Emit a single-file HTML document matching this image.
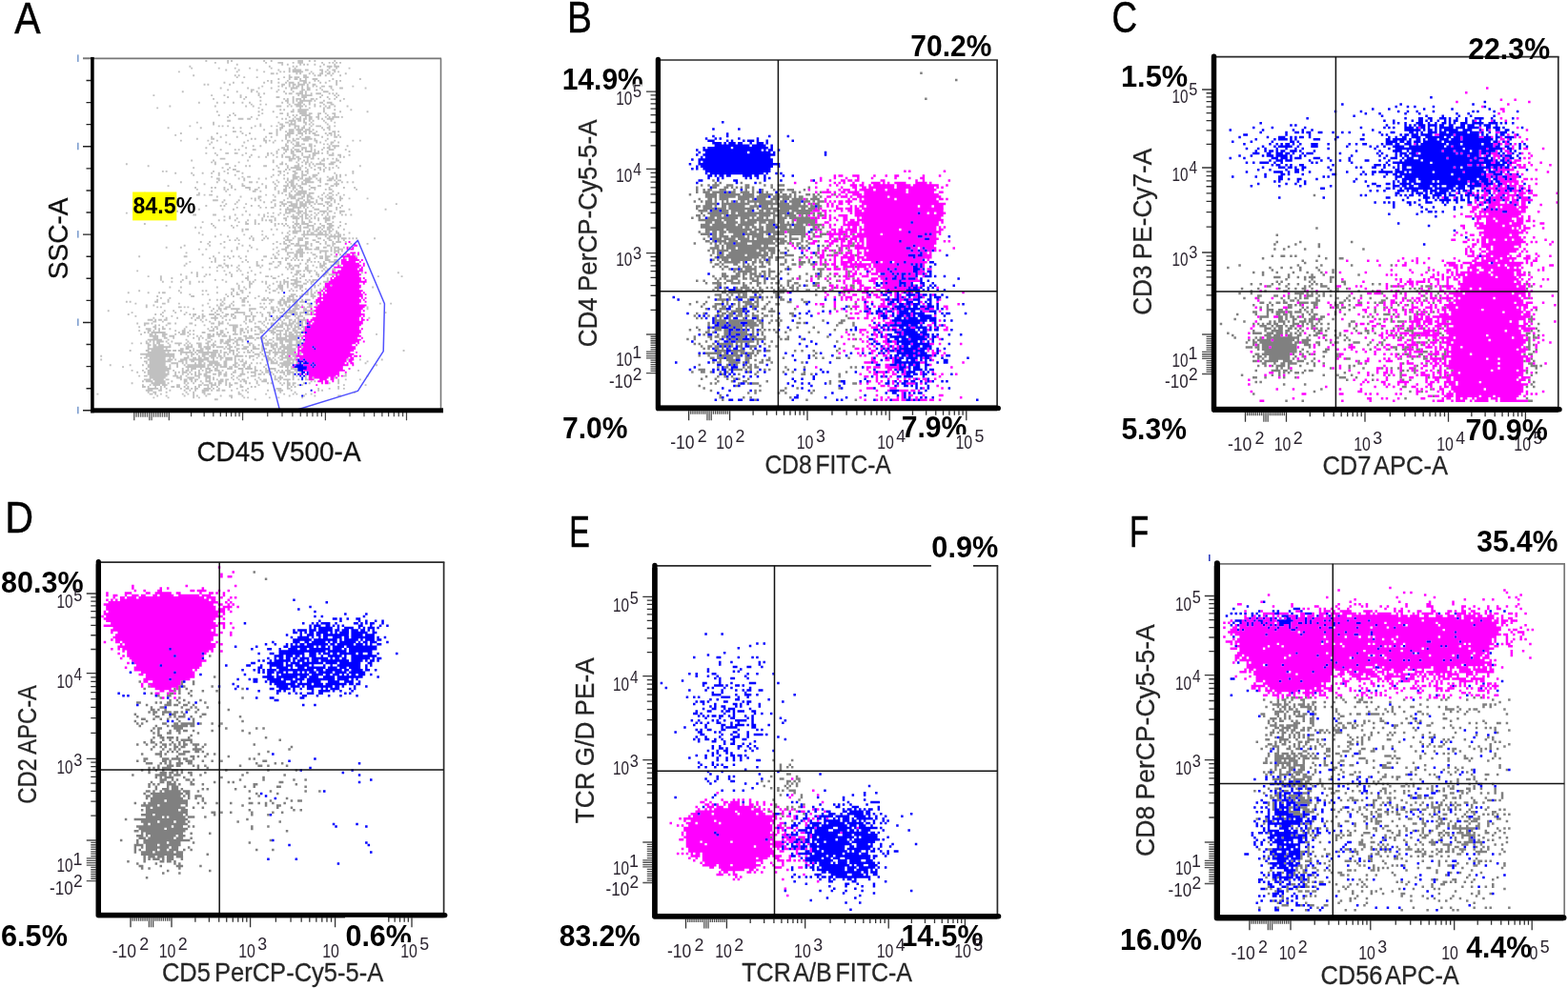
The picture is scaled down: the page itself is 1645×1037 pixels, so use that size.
<!DOCTYPE html>
<html lang="en"><head><meta charset="utf-8"><title>Flow cytometry panels A-F</title>
<style>
html,body{margin:0;padding:0;background:#fff}
body{width:1645px;height:1037px;overflow:hidden}
svg{display:block;font-family:"Liberation Sans", sans-serif}
text{white-space:pre}
</style></head><body>
<svg width="1645" height="1037" viewBox="0 0 1645 1037">
<rect width="1645" height="1037" fill="#fff"/>
<path d="M215.4 64h1.9M238.2 64h1.9M242.1 64h1.9M276.2 64h1.9M283.8 64h1.9M312.3 64h5.7M323.8 64h1.9M329.4 64h1.9M350.3 64h1.9M224.9 65.9h1.9M238.2 65.9h1.9M278.2 65.9h1.9M291.4 65.9h5.7M306.7 65.9h1.9M312.3 65.9h5.7M337.1 65.9h1.9M344.7 65.9h1.9M348.4 65.9h1.9M352.2 65.9h1.9M356.1 65.9h1.9M247.8 67.8h1.9M295.2 67.8h1.9M300.9 67.8h1.9M314.2 67.8h1.9M318.1 67.8h1.9M321.8 67.8h1.9M329.4 67.8h1.9M338.9 67.8h1.9M350.3 67.8h1.9M198.4 69.7h1.9M281.9 69.7h1.9M306.7 69.7h1.9M310.4 69.7h1.9M335.2 69.7h1.9M342.8 69.7h5.7M350.3 69.7h5.7M200.2 71.6h1.9M228.8 71.6h1.9M245.8 71.6h1.9M261.1 71.6h1.9M283.8 71.6h1.9M302.8 71.6h1.9M308.6 71.6h1.9M344.7 71.6h1.9M352.2 71.6h1.9M365.6 71.6h1.9M236.3 73.5h1.9M249.7 73.5h1.9M268.7 73.5h1.9M291.4 73.5h1.9M302.8 73.5h1.9M306.7 73.5h9.5M319.9 73.5h3.8M335.2 73.5h3.8M342.8 73.5h1.9M348.4 73.5h3.8M186.9 75.4h1.9M247.8 75.4h1.9M276.2 75.4h1.9M293.3 75.4h1.9M297.2 75.4h1.9M302.8 75.4h1.9M306.7 75.4h11.4M325.7 75.4h1.9M337.1 75.4h1.9M340.8 75.4h1.9M344.7 75.4h1.9M350.3 75.4h1.9M354.2 75.4h1.9M283.8 77.3h3.8M289.6 77.3h1.9M310.4 77.3h1.9M314.2 77.3h1.9M323.8 77.3h1.9M327.6 77.3h1.9M335.2 77.3h3.8M342.8 77.3h3.8M348.4 77.3h1.9M361.8 77.3h1.9M202.2 79.2h1.9M245.8 79.2h1.9M249.7 79.2h1.9M302.8 79.2h1.9M318.1 79.2h3.8M329.4 79.2h1.9M333.2 79.2h3.8M340.8 79.2h1.9M346.6 79.2h1.9M356.1 79.2h1.9M247.8 81.1h1.9M255.3 81.1h1.9M268.7 81.1h1.9M297.2 81.1h1.9M302.8 81.1h3.8M308.6 81.1h5.7M318.1 81.1h5.7M291.4 83h1.9M302.8 83h1.9M308.6 83h3.8M314.2 83h1.9M319.9 83h1.9M327.6 83h5.7M348.4 83h1.9M376.9 83h1.9M280.1 84.9h1.9M283.8 84.9h1.9M300.9 84.9h1.9M314.2 84.9h7.6M329.4 84.9h1.9M333.2 84.9h1.9M344.7 84.9h1.9M352.2 84.9h1.9M356.1 84.9h1.9M234.5 86.8h1.9M244 86.8h1.9M253.5 86.8h1.9M276.2 86.8h1.9M283.8 86.8h1.9M291.4 86.8h1.9M299.1 86.8h1.9M302.8 86.8h5.7M312.3 86.8h1.9M318.1 86.8h3.8M323.8 86.8h1.9M335.2 86.8h1.9M340.8 86.8h1.9M352.2 86.8h1.9M213.6 88.7h1.9M217.4 88.7h1.9M240.2 88.7h1.9M295.2 88.7h3.8M302.8 88.7h1.9M306.7 88.7h3.8M312.3 88.7h7.6M321.8 88.7h1.9M327.6 88.7h3.8M352.2 88.7h1.9M274.3 90.6h1.9M291.4 90.6h1.9M295.2 90.6h1.9M302.8 90.6h1.9M306.7 90.6h1.9M310.4 90.6h3.8M316.2 90.6h1.9M321.8 90.6h1.9M327.6 90.6h1.9M331.3 90.6h1.9M337.1 90.6h3.8M344.7 90.6h3.8M369.4 90.6h1.9M230.7 92.5h1.9M259.2 92.5h1.9M270.6 92.5h1.9M283.8 92.5h1.9M299.1 92.5h1.9M304.8 92.5h7.6M316.2 92.5h1.9M321.8 92.5h3.8M335.2 92.5h1.9M346.6 92.5h1.9M356.1 92.5h3.8M382.6 92.5h1.9M238.2 94.4h1.9M262.9 94.4h3.8M291.4 94.4h1.9M304.8 94.4h1.9M316.2 94.4h3.8M321.8 94.4h3.8M331.3 94.4h1.9M337.1 94.4h1.9M348.4 94.4h1.9M190.8 96.3h1.9M247.8 96.3h1.9M262.9 96.3h1.9M268.7 96.3h1.9M289.6 96.3h1.9M297.2 96.3h1.9M306.7 96.3h1.9M314.2 96.3h3.8M319.9 96.3h1.9M338.9 96.3h5.7M270.6 98.2h1.9M276.2 98.2h1.9M299.1 98.2h1.9M302.8 98.2h3.8M310.4 98.2h7.6M319.9 98.2h1.9M325.7 98.2h1.9M331.3 98.2h5.7M344.7 98.2h1.9M348.4 98.2h1.9M352.2 98.2h1.9M160.4 100.1h1.9M221.2 100.1h1.9M234.5 100.1h1.9M251.6 100.1h1.9M270.6 100.1h1.9M312.3 100.1h1.9M316.2 100.1h11.4M337.1 100.1h1.9M350.3 100.1h1.9M354.2 100.1h1.9M238.2 102h1.9M251.6 102h1.9M257.2 102h1.9M272.4 102h1.9M289.6 102h3.8M306.7 102h1.9M316.2 102h5.7M335.2 102h1.9M342.8 102h1.9M352.2 102h1.9M223.1 103.9h1.9M255.3 103.9h1.9M297.2 103.9h1.9M300.9 103.9h1.9M306.7 103.9h1.9M310.4 103.9h5.7M318.1 103.9h1.9M325.7 103.9h3.8M331.3 103.9h1.9M344.7 103.9h1.9M350.3 103.9h1.9M359.9 103.9h1.9M272.4 105.8h1.9M299.1 105.8h3.8M306.7 105.8h1.9M310.4 105.8h1.9M314.2 105.8h13.3M329.4 105.8h1.9M338.9 105.8h1.9M356.1 105.8h1.9M207.9 107.7h1.9M226.9 107.7h1.9M234.5 107.7h1.9M244 107.7h1.9M253.5 107.7h1.9M261.1 107.7h1.9M295.2 107.7h1.9M300.9 107.7h1.9M306.7 107.7h1.9M312.3 107.7h5.7M323.8 107.7h1.9M335.2 107.7h3.8M342.8 107.7h5.7M262.9 109.6h1.9M272.4 109.6h1.9M278.2 109.6h1.9M302.8 109.6h1.9M308.6 109.6h7.6M318.1 109.6h1.9M323.8 109.6h1.9M329.4 109.6h1.9M338.9 109.6h1.9M346.6 109.6h3.8M177.4 111.5h1.9M224.9 111.5h1.9M257.2 111.5h1.9M264.8 111.5h1.9M289.6 111.5h5.7M300.9 111.5h1.9M304.8 111.5h1.9M310.4 111.5h7.6M319.9 111.5h1.9M329.4 111.5h1.9M335.2 111.5h1.9M340.8 111.5h1.9M344.7 111.5h1.9M350.3 111.5h1.9M363.6 111.5h1.9M164.2 113.4h1.9M270.6 113.4h1.9M314.2 113.4h1.9M323.8 113.4h1.9M338.9 113.4h1.9M342.8 113.4h3.8M274.3 115.3h1.9M293.3 115.3h1.9M297.2 115.3h1.9M306.7 115.3h1.9M312.3 115.3h11.4M338.9 115.3h1.9M350.3 115.3h1.9M367.4 115.3h1.9M226.9 117.2h1.9M270.6 117.2h1.9M285.8 117.2h1.9M304.8 117.2h3.8M312.3 117.2h9.5M338.9 117.2h1.9M356.1 117.2h1.9M384.6 117.2h1.9M244 119.1h1.9M274.3 119.1h1.9M293.3 119.1h3.8M300.9 119.1h1.9M314.2 119.1h7.6M323.8 119.1h3.8M333.2 119.1h3.8M340.8 119.1h1.9M348.4 119.1h3.8M228.8 121h1.9M240.2 121h1.9M245.8 121h1.9M270.6 121h1.9M300.9 121h1.9M306.7 121h1.9M310.4 121h1.9M316.2 121h9.5M333.2 121h1.9M342.8 121h1.9M350.3 121h1.9M238.2 122.9h1.9M262.9 122.9h1.9M289.6 122.9h1.9M302.8 122.9h1.9M308.6 122.9h1.9M314.2 122.9h1.9M319.9 122.9h1.9M323.8 122.9h3.8M331.3 122.9h3.8M340.8 122.9h1.9M344.7 122.9h1.9M348.4 122.9h7.6M357.9 122.9h1.9M249.7 124.8h5.7M259.2 124.8h3.8M268.7 124.8h1.9M295.2 124.8h1.9M299.1 124.8h1.9M306.7 124.8h1.9M310.4 124.8h5.7M318.1 124.8h3.8M323.8 124.8h3.8M333.2 124.8h1.9M337.1 124.8h1.9M342.8 124.8h7.6M238.2 126.7h3.8M302.8 126.7h7.6M312.3 126.7h3.8M318.1 126.7h1.9M323.8 126.7h1.9M327.6 126.7h1.9M338.9 126.7h1.9M346.6 126.7h1.9M205.9 128.6h1.9M223.1 128.6h1.9M291.4 128.6h1.9M299.1 128.6h3.8M304.8 128.6h1.9M308.6 128.6h1.9M318.1 128.6h3.8M325.7 128.6h1.9M340.8 128.6h1.9M350.3 128.6h1.9M223.1 130.5h1.9M272.4 130.5h1.9M293.3 130.5h3.8M302.8 130.5h7.6M319.9 130.5h1.9M323.8 130.5h1.9M327.6 130.5h1.9M342.8 130.5h1.9M198.4 132.4h1.9M228.8 132.4h1.9M232.6 132.4h1.9M238.2 132.4h1.9M266.8 132.4h1.9M272.4 132.4h1.9M283.8 132.4h1.9M289.6 132.4h1.9M295.2 132.4h3.8M302.8 132.4h1.9M308.6 132.4h5.7M318.1 132.4h1.9M325.7 132.4h1.9M331.3 132.4h5.7M344.7 132.4h1.9M350.3 132.4h1.9M175.6 134.3h1.9M209.8 134.3h1.9M244 134.3h1.9M251.6 134.3h1.9M262.9 134.3h1.9M293.3 134.3h3.8M308.6 134.3h1.9M312.3 134.3h1.9M316.2 134.3h3.8M323.8 134.3h1.9M337.1 134.3h1.9M342.8 134.3h3.8M276.2 136.2h1.9M289.6 136.2h1.9M293.3 136.2h1.9M302.8 136.2h5.7M310.4 136.2h7.6M319.9 136.2h5.7M327.6 136.2h1.9M338.9 136.2h1.9M344.7 136.2h1.9M244 138.1h3.8M251.6 138.1h1.9M289.6 138.1h1.9M299.1 138.1h1.9M302.8 138.1h5.7M312.3 138.1h3.8M318.1 138.1h3.8M323.8 138.1h3.8M331.3 138.1h1.9M348.4 138.1h3.8M354.2 138.1h1.9M188.9 140h1.9M226.9 140h1.9M253.5 140h1.9M261.1 140h1.9M281.9 140h3.8M289.6 140h1.9M300.9 140h7.6M312.3 140h5.7M319.9 140h1.9M323.8 140h1.9M327.6 140h3.8M340.8 140h1.9M344.7 140h3.8M350.3 140h1.9M183.2 141.9h1.9M236.3 141.9h1.9M257.2 141.9h1.9M289.6 141.9h1.9M299.1 141.9h5.7M310.4 141.9h1.9M316.2 141.9h1.9M329.4 141.9h5.7M342.8 141.9h1.9M346.6 141.9h1.9M350.3 141.9h1.9M354.2 141.9h1.9M221.2 143.8h1.9M230.7 143.8h1.9M247.8 143.8h1.9M278.2 143.8h1.9M283.8 143.8h1.9M299.1 143.8h1.9M302.8 143.8h1.9M314.2 143.8h1.9M319.9 143.8h5.7M337.1 143.8h1.9M350.3 143.8h3.8M356.1 143.8h1.9M205.9 145.7h1.9M221.2 145.7h3.8M262.9 145.7h1.9M266.8 145.7h1.9M276.2 145.7h1.9M299.1 145.7h1.9M306.7 145.7h1.9M310.4 145.7h3.8M316.2 145.7h11.4M329.4 145.7h1.9M342.8 145.7h1.9M188.9 147.6h1.9M217.4 147.6h1.9M226.9 147.6h1.9M259.2 147.6h1.9M276.2 147.6h3.8M281.9 147.6h1.9M287.7 147.6h1.9M295.2 147.6h1.9M300.9 147.6h3.8M306.7 147.6h3.8M318.1 147.6h5.7M329.4 147.6h3.8M340.8 147.6h1.9M350.3 147.6h1.9M369.4 147.6h1.9M376.9 147.6h1.9M221.2 149.5h1.9M236.3 149.5h1.9M255.3 149.5h1.9M278.2 149.5h1.9M285.8 149.5h1.9M300.9 149.5h1.9M304.8 149.5h1.9M310.4 149.5h3.8M331.3 149.5h1.9M335.2 149.5h1.9M346.6 149.5h3.8M354.2 149.5h1.9M219.2 151.4h1.9M240.2 151.4h1.9M299.1 151.4h1.9M306.7 151.4h1.9M310.4 151.4h3.8M316.2 151.4h3.8M323.8 151.4h3.8M338.9 151.4h1.9M342.8 151.4h1.9M346.6 151.4h1.9M253.5 153.3h1.9M264.8 153.3h1.9M272.4 153.3h1.9M299.1 153.3h3.8M308.6 153.3h7.6M323.8 153.3h3.8M329.4 153.3h1.9M344.7 153.3h1.9M348.4 153.3h7.6M363.6 153.3h1.9M215.4 155.2h1.9M223.1 155.2h1.9M257.2 155.2h1.9M295.2 155.2h3.8M300.9 155.2h1.9M306.7 155.2h1.9M316.2 155.2h5.7M325.7 155.2h1.9M338.9 155.2h1.9M342.8 155.2h3.8M350.3 155.2h1.9M230.7 157.1h1.9M245.8 157.1h1.9M249.7 157.1h1.9M264.8 157.1h3.8M291.4 157.1h1.9M297.2 157.1h5.7M304.8 157.1h1.9M308.6 157.1h5.7M316.2 157.1h1.9M319.9 157.1h1.9M325.7 157.1h1.9M329.4 157.1h1.9M337.1 157.1h1.9M344.7 157.1h5.7M361.8 157.1h1.9M289.6 159h1.9M299.1 159h1.9M304.8 159h3.8M310.4 159h5.7M319.9 159h7.6M329.4 159h1.9M333.2 159h1.9M342.8 159h1.9M365.6 159h1.9M215.4 160.9h1.9M224.9 160.9h1.9M236.3 160.9h3.8M245.8 160.9h3.8M257.2 160.9h1.9M280.1 160.9h1.9M283.8 160.9h1.9M289.6 160.9h1.9M297.2 160.9h1.9M304.8 160.9h3.8M316.2 160.9h1.9M327.6 160.9h7.6M337.1 160.9h1.9M342.8 160.9h1.9M348.4 160.9h1.9M226.9 162.8h1.9M253.5 162.8h1.9M262.9 162.8h1.9M280.1 162.8h1.9M285.8 162.8h1.9M295.2 162.8h1.9M306.7 162.8h3.8M316.2 162.8h1.9M323.8 162.8h1.9M327.6 162.8h3.8M344.7 162.8h5.7M354.2 162.8h3.8M365.6 162.8h1.9M261.1 164.7h1.9M270.6 164.7h1.9M278.2 164.7h1.9M289.6 164.7h1.9M295.2 164.7h1.9M299.1 164.7h5.7M306.7 164.7h1.9M310.4 164.7h3.8M318.1 164.7h7.6M327.6 164.7h1.9M356.1 164.7h1.9M359.9 164.7h1.9M230.7 166.6h5.7M302.8 166.6h7.6M312.3 166.6h3.8M321.8 166.6h1.9M325.7 166.6h3.8M333.2 166.6h1.9M338.9 166.6h1.9M342.8 166.6h1.9M348.4 166.6h1.9M352.2 166.6h1.9M200.2 168.5h1.9M223.1 168.5h1.9M259.2 168.5h1.9M285.8 168.5h1.9M302.8 168.5h3.8M312.3 168.5h1.9M318.1 168.5h1.9M321.8 168.5h1.9M337.1 168.5h3.8M352.2 168.5h3.8M221.2 170.4h1.9M224.9 170.4h1.9M249.7 170.4h1.9M285.8 170.4h1.9M295.2 170.4h1.9M310.4 170.4h1.9M316.2 170.4h1.9M319.9 170.4h3.8M325.7 170.4h1.9M335.2 170.4h1.9M346.6 170.4h5.7M356.1 170.4h1.9M131.9 172.3h1.9M224.9 172.3h1.9M236.3 172.3h3.8M293.3 172.3h3.8M299.1 172.3h1.9M312.3 172.3h1.9M319.9 172.3h1.9M323.8 172.3h1.9M327.6 172.3h1.9M331.3 172.3h9.5M344.7 172.3h5.7M154.7 174.2h1.9M245.8 174.2h1.9M257.2 174.2h1.9M261.1 174.2h1.9M276.2 174.2h3.8M289.6 174.2h1.9M300.9 174.2h1.9M308.6 174.2h5.7M316.2 174.2h1.9M323.8 174.2h1.9M329.4 174.2h1.9M338.9 174.2h1.9M352.2 174.2h1.9M376.9 174.2h1.9M202.2 176.1h1.9M232.6 176.1h1.9M240.2 176.1h1.9M291.4 176.1h1.9M300.9 176.1h1.9M304.8 176.1h11.4M319.9 176.1h1.9M325.7 176.1h1.9M333.2 176.1h3.8M340.8 176.1h1.9M344.7 176.1h1.9M348.4 176.1h1.9M354.2 176.1h1.9M238.2 178h1.9M244 178h3.8M285.8 178h1.9M299.1 178h1.9M302.8 178h1.9M310.4 178h5.7M321.8 178h1.9M329.4 178h1.9M335.2 178h1.9M338.9 178h1.9M344.7 178h1.9M169.9 179.9h1.9M173.7 179.9h1.9M223.1 179.9h1.9M234.5 179.9h1.9M247.8 179.9h3.8M291.4 179.9h3.8M297.2 179.9h1.9M306.7 179.9h3.8M316.2 179.9h1.9M319.9 179.9h3.8M338.9 179.9h1.9M369.4 179.9h1.9M183.2 181.8h1.9M200.2 181.8h1.9M211.7 181.8h1.9M221.2 181.8h1.9M228.8 181.8h1.9M238.2 181.8h1.9M253.5 181.8h1.9M293.3 181.8h1.9M300.9 181.8h1.9M308.6 181.8h3.8M316.2 181.8h1.9M321.8 181.8h1.9M333.2 181.8h1.9M350.3 181.8h1.9M369.4 181.8h1.9M202.2 183.7h1.9M228.8 183.7h1.9M245.8 183.7h1.9M285.8 183.7h1.9M291.4 183.7h1.9M297.2 183.7h1.9M306.7 183.7h3.8M316.2 183.7h5.7M327.6 183.7h5.7M352.2 183.7h1.9M356.1 183.7h1.9M361.8 183.7h1.9M221.2 185.6h1.9M253.5 185.6h1.9M259.2 185.6h3.8M283.8 185.6h1.9M306.7 185.6h7.6M316.2 185.6h1.9M323.8 185.6h1.9M327.6 185.6h3.8M342.8 185.6h1.9M348.4 185.6h1.9M352.2 185.6h1.9M356.1 185.6h1.9M226.9 187.5h3.8M249.7 187.5h1.9M255.3 187.5h1.9M270.6 187.5h1.9M278.2 187.5h1.9M297.2 187.5h1.9M300.9 187.5h1.9M306.7 187.5h5.7M314.2 187.5h3.8M319.9 187.5h7.6M331.3 187.5h1.9M335.2 187.5h1.9M344.7 187.5h5.7M352.2 187.5h1.9M228.8 189.4h1.9M234.5 189.4h1.9M255.3 189.4h1.9M289.6 189.4h1.9M300.9 189.4h1.9M304.8 189.4h3.8M312.3 189.4h1.9M318.1 189.4h7.6M333.2 189.4h3.8M342.8 189.4h5.7M350.3 189.4h1.9M354.2 189.4h3.8M188.9 191.3h1.9M205.9 191.3h1.9M226.9 191.3h1.9M236.3 191.3h1.9M261.1 191.3h3.8M268.7 191.3h1.9M285.8 191.3h1.9M291.4 191.3h1.9M299.1 191.3h1.9M302.8 191.3h5.7M316.2 191.3h1.9M319.9 191.3h9.5M335.2 191.3h1.9M352.2 191.3h1.9M357.9 191.3h1.9M363.6 191.3h1.9M369.4 191.3h1.9M213.6 193.2h1.9M240.2 193.2h1.9M253.5 193.2h1.9M274.3 193.2h1.9M287.7 193.2h1.9M300.9 193.2h1.9M304.8 193.2h3.8M310.4 193.2h1.9M316.2 193.2h5.7M340.8 193.2h3.8M350.3 193.2h5.7M175.6 195.1h1.9M242.1 195.1h1.9M253.5 195.1h3.8M278.2 195.1h1.9M289.6 195.1h1.9M297.2 195.1h5.7M304.8 195.1h5.7M312.3 195.1h3.8M323.8 195.1h1.9M333.2 195.1h3.8M346.6 195.1h3.8M352.2 195.1h1.9M204.1 197h1.9M221.2 197h1.9M224.9 197h1.9M234.5 197h1.9M242.1 197h1.9M257.2 197h5.7M270.6 197h1.9M278.2 197h1.9M287.7 197h1.9M299.1 197h1.9M302.8 197h1.9M306.7 197h3.8M314.2 197h3.8M325.7 197h5.7M344.7 197h1.9M359.9 197h1.9M371.2 197h1.9M205.9 198.9h1.9M234.5 198.9h1.9M238.2 198.9h1.9M245.8 198.9h1.9M261.1 198.9h1.9M266.8 198.9h3.8M287.7 198.9h1.9M297.2 198.9h3.8M306.7 198.9h1.9M310.4 198.9h1.9M316.2 198.9h1.9M323.8 198.9h1.9M329.4 198.9h1.9M340.8 198.9h1.9M344.7 198.9h3.8M373.1 198.9h1.9M221.2 200.8h1.9M236.3 200.8h1.9M264.8 200.8h3.8M272.4 200.8h1.9M291.4 200.8h1.9M297.2 200.8h3.8M304.8 200.8h1.9M308.6 200.8h1.9M312.3 200.8h9.5M348.4 200.8h1.9M150.9 202.7h1.9M207.9 202.7h1.9M291.4 202.7h1.9M295.2 202.7h1.9M302.8 202.7h1.9M310.4 202.7h11.4M323.8 202.7h5.7M338.9 202.7h1.9M344.7 202.7h3.8M354.2 202.7h1.9M205.9 204.6h3.8M213.6 204.6h1.9M219.2 204.6h3.8M240.2 204.6h1.9M278.2 204.6h1.9M285.8 204.6h1.9M299.1 204.6h1.9M302.8 204.6h3.8M308.6 204.6h7.6M318.1 204.6h1.9M321.8 204.6h3.8M337.1 204.6h1.9M342.8 204.6h1.9M348.4 204.6h1.9M352.2 204.6h1.9M359.9 204.6h1.9M226.9 206.5h1.9M251.6 206.5h1.9M270.6 206.5h3.8M287.7 206.5h1.9M302.8 206.5h7.6M316.2 206.5h3.8M321.8 206.5h5.7M333.2 206.5h1.9M340.8 206.5h1.9M344.7 206.5h3.8M356.1 206.5h1.9M262.9 208.4h1.9M266.8 208.4h1.9M270.6 208.4h1.9M300.9 208.4h1.9M304.8 208.4h5.7M312.3 208.4h5.7M321.8 208.4h1.9M325.7 208.4h3.8M335.2 208.4h3.8M342.8 208.4h7.6M356.1 208.4h3.8M365.6 208.4h1.9M384.6 208.4h1.9M223.1 210.3h5.7M234.5 210.3h1.9M249.7 210.3h1.9M266.8 210.3h1.9M272.4 210.3h1.9M285.8 210.3h3.8M297.2 210.3h1.9M310.4 210.3h3.8M318.1 210.3h1.9M321.8 210.3h3.8M331.3 210.3h1.9M337.1 210.3h1.9M346.6 210.3h1.9M350.3 210.3h1.9M356.1 210.3h1.9M185.1 212.2h1.9M232.6 212.2h1.9M247.8 212.2h1.9M276.2 212.2h1.9M283.8 212.2h1.9M293.3 212.2h3.8M300.9 212.2h5.7M310.4 212.2h1.9M314.2 212.2h3.8M319.9 212.2h9.5M331.3 212.2h1.9M340.8 212.2h5.7M350.3 212.2h1.9M236.3 214.1h1.9M245.8 214.1h1.9M257.2 214.1h1.9M287.7 214.1h1.9M295.2 214.1h5.7M304.8 214.1h7.6M314.2 214.1h7.6M323.8 214.1h1.9M329.4 214.1h1.9M333.2 214.1h5.7M342.8 214.1h1.9M346.6 214.1h1.9M354.2 214.1h1.9M414.9 214.1h1.9M215.4 216h1.9M230.7 216h1.9M234.5 216h1.9M262.9 216h1.9M270.6 216h1.9M287.7 216h1.9M293.3 216h1.9M297.2 216h1.9M302.8 216h9.5M314.2 216h7.6M325.7 216h1.9M338.9 216h1.9M344.7 216h3.8M357.9 216h1.9M167.9 217.9h1.9M247.8 217.9h1.9M255.3 217.9h1.9M272.4 217.9h1.9M278.2 217.9h1.9M283.8 217.9h3.8M300.9 217.9h1.9M306.7 217.9h9.5M318.1 217.9h1.9M321.8 217.9h1.9M327.6 217.9h1.9M342.8 217.9h1.9M352.2 217.9h1.9M356.1 217.9h1.9M207.9 219.8h1.9M232.6 219.8h1.9M244 219.8h1.9M293.3 219.8h1.9M299.1 219.8h9.5M312.3 219.8h1.9M319.9 219.8h1.9M329.4 219.8h5.7M342.8 219.8h1.9M352.2 219.8h1.9M365.6 219.8h1.9M403.6 219.8h1.9M185.1 221.7h1.9M257.2 221.7h1.9M299.1 221.7h1.9M302.8 221.7h7.6M312.3 221.7h5.7M319.9 221.7h1.9M323.8 221.7h3.8M335.2 221.7h7.6M344.7 221.7h3.8M356.1 221.7h5.7M131.9 223.6h1.9M160.4 223.6h1.9M280.1 223.6h1.9M285.8 223.6h1.9M293.3 223.6h1.9M299.1 223.6h5.7M310.4 223.6h5.7M318.1 223.6h3.8M329.4 223.6h1.9M333.2 223.6h1.9M338.9 223.6h1.9M342.8 223.6h1.9M350.3 223.6h1.9M356.1 223.6h1.9M202.2 225.5h3.8M223.1 225.5h3.8M245.8 225.5h1.9M253.5 225.5h1.9M261.1 225.5h1.9M270.6 225.5h1.9M276.2 225.5h1.9M291.4 225.5h1.9M297.2 225.5h1.9M306.7 225.5h1.9M312.3 225.5h1.9M316.2 225.5h1.9M319.9 225.5h3.8M325.7 225.5h1.9M331.3 225.5h1.9M337.1 225.5h1.9M342.8 225.5h1.9M357.9 225.5h1.9M361.8 225.5h1.9M367.4 225.5h1.9M234.5 227.4h1.9M240.2 227.4h1.9M276.2 227.4h1.9M280.1 227.4h1.9M283.8 227.4h3.8M300.9 227.4h1.9M304.8 227.4h7.6M314.2 227.4h3.8M319.9 227.4h1.9M323.8 227.4h1.9M329.4 227.4h1.9M340.8 227.4h1.9M344.7 227.4h1.9M348.4 227.4h3.8M240.2 229.3h1.9M247.8 229.3h1.9M274.3 229.3h1.9M287.7 229.3h1.9M297.2 229.3h3.8M306.7 229.3h7.6M316.2 229.3h1.9M319.9 229.3h3.8M325.7 229.3h1.9M329.4 229.3h1.9M333.2 229.3h1.9M338.9 229.3h7.6M348.4 229.3h1.9M228.8 231.2h1.9M234.5 231.2h1.9M245.8 231.2h1.9M259.2 231.2h1.9M266.8 231.2h1.9M274.3 231.2h1.9M278.2 231.2h1.9M281.9 231.2h3.8M287.7 231.2h1.9M299.1 231.2h1.9M310.4 231.2h1.9M316.2 231.2h1.9M323.8 231.2h1.9M333.2 231.2h1.9M340.8 231.2h5.7M211.7 233.1h1.9M249.7 233.1h1.9M257.2 233.1h1.9M266.8 233.1h1.9M283.8 233.1h1.9M306.7 233.1h1.9M310.4 233.1h1.9M316.2 233.1h3.8M323.8 233.1h3.8M340.8 233.1h1.9M348.4 233.1h1.9M356.1 233.1h1.9M150.9 235h1.9M221.2 235h1.9M257.2 235h3.8M266.8 235h1.9M270.6 235h1.9M287.7 235h1.9M291.4 235h1.9M295.2 235h1.9M299.1 235h1.9M308.6 235h5.7M316.2 235h7.6M329.4 235h1.9M335.2 235h1.9M342.8 235h5.7M361.8 235h1.9M173.7 236.9h1.9M223.1 236.9h1.9M242.1 236.9h1.9M247.8 236.9h1.9M287.7 236.9h1.9M297.2 236.9h1.9M300.9 236.9h1.9M306.7 236.9h1.9M310.4 236.9h1.9M314.2 236.9h1.9M321.8 236.9h7.6M337.1 236.9h3.8M344.7 236.9h5.7M356.1 236.9h1.9M204.1 238.8h1.9M209.8 238.8h1.9M224.9 238.8h1.9M244 238.8h1.9M302.8 238.8h1.9M306.7 238.8h3.8M312.3 238.8h3.8M318.1 238.8h5.7M327.6 238.8h1.9M333.2 238.8h3.8M338.9 238.8h1.9M342.8 238.8h5.7M354.2 238.8h1.9M253.5 240.7h1.9M257.2 240.7h3.8M283.8 240.7h1.9M289.6 240.7h1.9M308.6 240.7h1.9M314.2 240.7h1.9M323.8 240.7h1.9M327.6 240.7h1.9M331.3 240.7h3.8M337.1 240.7h1.9M342.8 240.7h3.8M348.4 240.7h1.9M359.9 240.7h1.9M253.5 242.6h1.9M274.3 242.6h1.9M302.8 242.6h1.9M306.7 242.6h9.5M318.1 242.6h1.9M321.8 242.6h3.8M329.4 242.6h3.8M335.2 242.6h1.9M338.9 242.6h3.8M344.7 242.6h3.8M352.2 242.6h1.9M207.9 244.5h1.9M295.2 244.5h1.9M300.9 244.5h1.9M306.7 244.5h5.7M318.1 244.5h1.9M321.8 244.5h1.9M325.7 244.5h3.8M333.2 244.5h5.7M340.8 244.5h1.9M344.7 244.5h1.9M352.2 244.5h3.8M365.6 244.5h1.9M211.7 246.4h1.9M230.7 246.4h1.9M255.3 246.4h1.9M274.3 246.4h1.9M285.8 246.4h1.9M302.8 246.4h1.9M316.2 246.4h28.5M346.6 246.4h1.9M350.3 246.4h1.9M354.2 246.4h3.8M359.9 246.4h1.9M224.9 248.3h1.9M238.2 248.3h1.9M262.9 248.3h1.9M278.2 248.3h1.9M299.1 248.3h3.8M308.6 248.3h1.9M318.1 248.3h1.9M331.3 248.3h1.9M340.8 248.3h1.9M344.7 248.3h13.3M247.8 250.2h1.9M261.1 250.2h1.9M264.8 250.2h1.9M276.2 250.2h1.9M280.1 250.2h1.9M297.2 250.2h1.9M300.9 250.2h1.9M306.7 250.2h1.9M312.3 250.2h5.7M319.9 250.2h3.8M333.2 250.2h3.8M342.8 250.2h3.8M350.3 250.2h1.9M354.2 250.2h1.9M357.9 250.2h5.7M365.6 250.2h1.9M369.4 250.2h1.9M373.1 250.2h1.9M392.1 250.2h1.9M240.2 252.1h1.9M245.8 252.1h1.9M249.7 252.1h1.9M264.8 252.1h1.9M274.3 252.1h1.9M299.1 252.1h7.6M312.3 252.1h5.7M327.6 252.1h3.8M338.9 252.1h1.9M344.7 252.1h3.8M354.2 252.1h1.9M359.9 252.1h1.9M209.8 254h1.9M219.2 254h1.9M234.5 254h1.9M289.6 254h1.9M297.2 254h1.9M302.8 254h1.9M312.3 254h1.9M319.9 254h3.8M331.3 254h3.8M340.8 254h1.9M348.4 254h1.9M352.2 254h5.7M361.8 254h1.9M217.4 255.9h1.9M230.7 255.9h1.9M249.7 255.9h1.9M285.8 255.9h1.9M293.3 255.9h1.9M297.2 255.9h3.8M304.8 255.9h3.8M310.4 255.9h3.8M319.9 255.9h3.8M325.7 255.9h1.9M335.2 255.9h1.9M340.8 255.9h1.9M348.4 255.9h3.8M367.4 255.9h1.9M384.6 255.9h1.9M192.7 257.8h1.9M219.2 257.8h1.9M253.5 257.8h1.9M261.1 257.8h1.9M300.9 257.8h3.8M308.6 257.8h13.3M325.7 257.8h1.9M342.8 257.8h3.8M348.4 257.8h1.9M173.7 259.7h1.9M188.9 259.7h1.9M234.5 259.7h1.9M247.8 259.7h1.9M262.9 259.7h1.9M289.6 259.7h1.9M299.1 259.7h3.8M314.2 259.7h1.9M319.9 259.7h3.8M331.3 259.7h3.8M338.9 259.7h3.8M346.6 259.7h1.9M350.3 259.7h5.7M359.9 259.7h1.9M365.6 259.7h1.9M207.9 261.6h1.9M215.4 261.6h1.9M247.8 261.6h1.9M268.7 261.6h1.9M285.8 261.6h1.9M295.2 261.6h5.7M304.8 261.6h1.9M312.3 261.6h5.7M319.9 261.6h7.6M329.4 261.6h5.7M346.6 261.6h1.9M350.3 261.6h1.9M354.2 261.6h5.7M365.6 261.6h1.9M242.1 263.5h1.9M259.2 263.5h1.9M291.4 263.5h1.9M299.1 263.5h1.9M310.4 263.5h7.6M335.2 263.5h9.5M346.6 263.5h1.9M350.3 263.5h5.7M357.9 263.5h1.9M194.6 265.4h1.9M228.8 265.4h1.9M289.6 265.4h1.9M300.9 265.4h7.6M310.4 265.4h9.5M321.8 265.4h1.9M325.7 265.4h1.9M335.2 265.4h1.9M340.8 265.4h1.9M350.3 265.4h1.9M354.2 265.4h1.9M361.8 265.4h1.9M211.7 267.3h1.9M285.8 267.3h1.9M291.4 267.3h1.9M300.9 267.3h1.9M308.6 267.3h3.8M314.2 267.3h3.8M327.6 267.3h3.8M340.8 267.3h1.9M346.6 267.3h1.9M356.1 267.3h1.9M361.8 267.3h1.9M371.2 267.3h1.9M145.2 269.2h1.9M192.7 269.2h3.8M223.1 269.2h1.9M234.5 269.2h1.9M238.2 269.2h1.9M244 269.2h1.9M249.7 269.2h1.9M257.2 269.2h1.9M276.2 269.2h3.8M287.7 269.2h1.9M302.8 269.2h1.9M308.6 269.2h3.8M314.2 269.2h3.8M331.3 269.2h1.9M335.2 269.2h3.8M340.8 269.2h5.7M350.3 269.2h3.8M373.1 269.2h1.9M219.2 271.1h1.9M224.9 271.1h1.9M240.2 271.1h1.9M251.6 271.1h1.9M283.8 271.1h1.9M287.7 271.1h3.8M295.2 271.1h1.9M299.1 271.1h3.8M306.7 271.1h1.9M310.4 271.1h1.9M323.8 271.1h1.9M329.4 271.1h1.9M335.2 271.1h3.8M340.8 271.1h3.8M361.8 271.1h1.9M224.9 273h1.9M234.5 273h1.9M257.2 273h1.9M274.3 273h1.9M299.1 273h1.9M304.8 273h1.9M308.6 273h1.9M312.3 273h1.9M316.2 273h1.9M321.8 273h3.8M340.8 273h5.7M350.3 273h3.8M198.4 274.9h1.9M221.2 274.9h1.9M224.9 274.9h1.9M253.5 274.9h1.9M259.2 274.9h1.9M268.7 274.9h1.9M285.8 274.9h1.9M291.4 274.9h3.8M321.8 274.9h1.9M325.7 274.9h1.9M329.4 274.9h1.9M333.2 274.9h1.9M338.9 274.9h1.9M344.7 274.9h11.4M194.6 276.8h1.9M234.5 276.8h1.9M268.7 276.8h1.9M281.9 276.8h3.8M293.3 276.8h1.9M300.9 276.8h3.8M314.2 276.8h1.9M319.9 276.8h1.9M335.2 276.8h1.9M338.9 276.8h3.8M350.3 276.8h5.7M192.7 278.7h1.9M228.8 278.7h3.8M236.3 278.7h3.8M242.1 278.7h1.9M249.7 278.7h1.9M268.7 278.7h3.8M274.3 278.7h1.9M291.4 278.7h1.9M302.8 278.7h3.8M308.6 278.7h5.7M321.8 278.7h1.9M327.6 278.7h1.9M335.2 278.7h5.7M346.6 278.7h3.8M356.1 278.7h1.9M211.7 280.6h1.9M219.2 280.6h1.9M226.9 280.6h1.9M232.6 280.6h1.9M238.2 280.6h1.9M247.8 280.6h1.9M261.1 280.6h1.9M272.4 280.6h1.9M287.7 280.6h3.8M299.1 280.6h1.9M302.8 280.6h1.9M306.7 280.6h1.9M312.3 280.6h1.9M319.9 280.6h3.8M331.3 280.6h1.9M335.2 280.6h3.8M340.8 280.6h1.9M249.7 282.5h1.9M281.9 282.5h1.9M300.9 282.5h1.9M304.8 282.5h3.8M319.9 282.5h3.8M338.9 282.5h1.9M342.8 282.5h3.8M348.4 282.5h3.8M143.2 284.4h1.9M226.9 284.4h1.9M234.5 284.4h1.9M247.8 284.4h1.9M251.6 284.4h1.9M262.9 284.4h1.9M310.4 284.4h5.7M318.1 284.4h1.9M321.8 284.4h5.7M329.4 284.4h1.9M337.1 284.4h1.9M340.8 284.4h3.8M350.3 284.4h1.9M200.2 286.3h1.9M205.9 286.3h1.9M240.2 286.3h1.9M259.2 286.3h1.9M272.4 286.3h1.9M304.8 286.3h1.9M310.4 286.3h3.8M323.8 286.3h1.9M331.3 286.3h1.9M340.8 286.3h3.8M378.9 286.3h1.9M416.9 286.3h1.9M188.9 288.2h1.9M205.9 288.2h1.9M215.4 288.2h1.9M219.2 288.2h1.9M236.3 288.2h1.9M242.1 288.2h1.9M253.5 288.2h1.9M266.8 288.2h1.9M295.2 288.2h1.9M308.6 288.2h3.8M314.2 288.2h1.9M318.1 288.2h1.9M331.3 288.2h3.8M338.9 288.2h3.8M344.7 288.2h7.6M354.2 288.2h1.9M154.7 290.1h1.9M167.9 290.1h1.9M194.6 290.1h1.9M205.9 290.1h1.9M213.6 290.1h1.9M242.1 290.1h1.9M259.2 290.1h1.9M278.2 290.1h3.8M283.8 290.1h1.9M291.4 290.1h1.9M306.7 290.1h1.9M316.2 290.1h3.8M325.7 290.1h1.9M333.2 290.1h1.9M338.9 290.1h1.9M395.9 290.1h1.9M420.6 290.1h1.9M167.9 292h1.9M179.4 292h1.9M194.6 292h1.9M257.2 292h3.8M285.8 292h3.8M300.9 292h1.9M310.4 292h1.9M314.2 292h1.9M342.8 292h1.9M167.9 293.9h1.9M190.8 293.9h1.9M224.9 293.9h1.9M232.6 293.9h1.9M259.2 293.9h1.9M266.8 293.9h1.9M297.2 293.9h1.9M304.8 293.9h7.6M319.9 293.9h1.9M323.8 293.9h1.9M327.6 293.9h5.7M342.8 293.9h1.9M169.9 295.8h1.9M179.4 295.8h1.9M188.9 295.8h1.9M198.4 295.8h1.9M207.9 295.8h1.9M211.7 295.8h1.9M236.3 295.8h1.9M253.5 295.8h1.9M261.1 295.8h1.9M264.8 295.8h1.9M274.3 295.8h1.9M278.2 295.8h1.9M289.6 295.8h1.9M293.3 295.8h1.9M297.2 295.8h5.7M308.6 295.8h7.6M321.8 295.8h1.9M325.7 295.8h3.8M338.9 295.8h5.7M198.4 297.7h1.9M247.8 297.7h1.9M261.1 297.7h3.8M278.2 297.7h1.9M285.8 297.7h1.9M293.3 297.7h1.9M297.2 297.7h1.9M300.9 297.7h1.9M304.8 297.7h7.6M318.1 297.7h3.8M325.7 297.7h1.9M335.2 297.7h1.9M249.7 299.6h1.9M261.1 299.6h1.9M281.9 299.6h1.9M291.4 299.6h5.7M300.9 299.6h1.9M306.7 299.6h1.9M310.4 299.6h7.6M329.4 299.6h1.9M333.2 299.6h1.9M346.6 299.6h1.9M177.4 301.5h1.9M188.9 301.5h1.9M226.9 301.5h1.9M249.7 301.5h1.9M255.3 301.5h1.9M261.1 301.5h1.9M280.1 301.5h1.9M291.4 301.5h5.7M300.9 301.5h1.9M308.6 301.5h3.8M314.2 301.5h3.8M329.4 301.5h1.9M338.9 301.5h1.9M390.2 301.5h1.9M242.1 303.4h3.8M249.7 303.4h1.9M257.2 303.4h1.9M281.9 303.4h1.9M289.6 303.4h1.9M293.3 303.4h3.8M304.8 303.4h1.9M314.2 303.4h1.9M319.9 303.4h1.9M325.7 303.4h1.9M335.2 303.4h1.9M340.8 303.4h1.9M145.2 305.3h1.9M186.9 305.3h1.9M211.7 305.3h1.9M215.4 305.3h1.9M244 305.3h1.9M251.6 305.3h3.8M278.2 305.3h1.9M285.8 305.3h3.8M295.2 305.3h1.9M302.8 305.3h1.9M306.7 305.3h1.9M310.4 305.3h1.9M316.2 305.3h1.9M321.8 305.3h1.9M325.7 305.3h1.9M331.3 305.3h1.9M335.2 305.3h1.9M133.8 307.2h1.9M154.7 307.2h1.9M166.1 307.2h1.9M169.9 307.2h3.8M188.9 307.2h1.9M226.9 307.2h1.9M242.1 307.2h1.9M247.8 307.2h1.9M253.5 307.2h1.9M261.1 307.2h1.9M281.9 307.2h1.9M291.4 307.2h1.9M321.8 307.2h1.9M325.7 307.2h1.9M329.4 307.2h1.9M198.4 309.1h1.9M211.7 309.1h1.9M217.4 309.1h1.9M236.3 309.1h1.9M242.1 309.1h1.9M247.8 309.1h3.8M304.8 309.1h5.7M316.2 309.1h1.9M319.9 309.1h3.8M325.7 309.1h3.8M333.2 309.1h1.9M337.1 309.1h1.9M164.2 311h1.9M200.2 311h3.8M238.2 311h1.9M244 311h1.9M259.2 311h1.9M270.6 311h1.9M297.2 311h1.9M302.8 311h5.7M310.4 311h1.9M314.2 311h3.8M325.7 311h5.7M167.9 312.9h1.9M177.4 312.9h1.9M234.5 312.9h1.9M251.6 312.9h1.9M255.3 312.9h3.8M266.8 312.9h1.9M276.2 312.9h1.9M280.1 312.9h1.9M295.2 312.9h1.9M300.9 312.9h3.8M306.7 312.9h1.9M314.2 312.9h1.9M327.6 312.9h1.9M164.2 314.8h1.9M175.6 314.8h1.9M219.2 314.8h1.9M226.9 314.8h1.9M230.7 314.8h1.9M234.5 314.8h1.9M253.5 314.8h3.8M274.3 314.8h5.7M281.9 314.8h5.7M293.3 314.8h5.7M300.9 314.8h11.4M316.2 314.8h1.9M319.9 314.8h5.7M131.9 316.7h1.9M135.7 316.7h1.9M162.2 316.7h3.8M175.6 316.7h1.9M232.6 316.7h1.9M244 316.7h1.9M253.5 316.7h3.8M259.2 316.7h1.9M283.8 316.7h1.9M291.4 316.7h3.8M297.2 316.7h7.6M306.7 316.7h5.7M314.2 316.7h5.7M329.4 316.7h1.9M141.4 318.6h1.9M169.9 318.6h3.8M186.9 318.6h1.9M217.4 318.6h1.9M230.7 318.6h1.9M234.5 318.6h1.9M242.1 318.6h1.9M272.4 318.6h1.9M276.2 318.6h1.9M281.9 318.6h1.9M291.4 318.6h3.8M297.2 318.6h3.8M308.6 318.6h3.8M321.8 318.6h3.8M397.9 318.6h1.9M409.2 318.6h1.9M152.8 320.5h1.9M160.4 320.5h1.9M211.7 320.5h1.9M226.9 320.5h1.9M230.7 320.5h3.8M240.2 320.5h1.9M244 320.5h1.9M253.5 320.5h3.8M261.1 320.5h1.9M293.3 320.5h3.8M299.1 320.5h1.9M302.8 320.5h1.9M306.7 320.5h7.6M316.2 320.5h1.9M323.8 320.5h3.8M331.3 320.5h1.9M152.8 322.4h1.9M164.2 322.4h1.9M167.9 322.4h1.9M186.9 322.4h3.8M192.7 322.4h1.9M196.4 322.4h1.9M219.2 322.4h1.9M228.8 322.4h1.9M236.3 322.4h5.7M272.4 322.4h3.8M278.2 322.4h1.9M283.8 322.4h3.8M289.6 322.4h1.9M300.9 322.4h3.8M308.6 322.4h3.8M314.2 322.4h1.9M318.1 322.4h1.9M321.8 322.4h5.7M384.6 322.4h1.9M202.2 324.3h1.9M223.1 324.3h1.9M228.8 324.3h3.8M234.5 324.3h3.8M242.1 324.3h9.5M261.1 324.3h7.6M276.2 324.3h1.9M283.8 324.3h3.8M291.4 324.3h1.9M295.2 324.3h3.8M302.8 324.3h1.9M306.7 324.3h7.6M318.1 324.3h3.8M384.6 324.3h1.9M112.8 326.2h1.9M171.8 326.2h1.9M181.2 326.2h1.9M188.9 326.2h1.9M211.7 326.2h1.9M221.2 326.2h1.9M226.9 326.2h1.9M230.7 326.2h1.9M247.8 326.2h1.9M261.1 326.2h1.9M285.8 326.2h3.8M291.4 326.2h1.9M297.2 326.2h1.9M302.8 326.2h7.6M318.1 326.2h11.4M137.6 328.1h1.9M169.9 328.1h1.9M183.2 328.1h1.9M194.6 328.1h1.9M224.9 328.1h1.9M232.6 328.1h1.9M245.8 328.1h11.4M262.9 328.1h1.9M268.7 328.1h1.9M272.4 328.1h1.9M280.1 328.1h3.8M285.8 328.1h1.9M293.3 328.1h3.8M299.1 328.1h13.3M314.2 328.1h5.7M321.8 328.1h1.9M327.6 328.1h1.9M403.6 328.1h1.9M133.8 330h1.9M162.2 330h1.9M167.9 330h1.9M192.7 330h1.9M198.4 330h1.9M202.2 330h3.8M211.7 330h1.9M219.2 330h5.7M226.9 330h3.8M236.3 330h3.8M242.1 330h3.8M255.3 330h1.9M262.9 330h1.9M274.3 330h1.9M281.9 330h1.9M299.1 330h1.9M304.8 330h1.9M308.6 330h3.8M314.2 330h1.9M319.9 330h5.7M327.6 330h1.9M141.4 331.9h1.9M169.9 331.9h1.9M179.4 331.9h1.9M202.2 331.9h1.9M207.9 331.9h1.9M211.7 331.9h3.8M224.9 331.9h1.9M230.7 331.9h1.9M234.5 331.9h3.8M242.1 331.9h1.9M245.8 331.9h1.9M257.2 331.9h5.7M264.8 331.9h3.8M274.3 331.9h1.9M281.9 331.9h1.9M289.6 331.9h1.9M293.3 331.9h1.9M297.2 331.9h7.6M308.6 331.9h1.9M312.3 331.9h5.7M160.4 333.8h1.9M173.7 333.8h1.9M185.1 333.8h1.9M200.2 333.8h1.9M205.9 333.8h3.8M211.7 333.8h1.9M221.2 333.8h7.6M232.6 333.8h1.9M244 333.8h3.8M257.2 333.8h1.9M264.8 333.8h1.9M278.2 333.8h1.9M285.8 333.8h1.9M289.6 333.8h3.8M299.1 333.8h3.8M310.4 333.8h3.8M318.1 333.8h1.9M386.4 333.8h1.9M154.7 335.7h5.7M162.2 335.7h1.9M166.1 335.7h3.8M171.8 335.7h3.8M204.1 335.7h1.9M209.8 335.7h1.9M215.4 335.7h1.9M224.9 335.7h1.9M236.3 335.7h1.9M240.2 335.7h1.9M257.2 335.7h1.9M261.1 335.7h1.9M264.8 335.7h1.9M278.2 335.7h1.9M281.9 335.7h1.9M285.8 335.7h3.8M293.3 335.7h1.9M297.2 335.7h1.9M302.8 335.7h3.8M308.6 335.7h1.9M312.3 335.7h9.5M160.4 337.6h3.8M169.9 337.6h1.9M211.7 337.6h1.9M219.2 337.6h1.9M228.8 337.6h1.9M232.6 337.6h1.9M255.3 337.6h1.9M261.1 337.6h3.8M270.6 337.6h3.8M276.2 337.6h1.9M295.2 337.6h1.9M302.8 337.6h1.9M306.7 337.6h3.8M312.3 337.6h1.9M316.2 337.6h1.9M319.9 337.6h1.9M143.2 339.5h1.9M150.9 339.5h5.7M158.5 339.5h1.9M175.6 339.5h3.8M183.2 339.5h1.9M198.4 339.5h3.8M221.2 339.5h3.8M228.8 339.5h5.7M238.2 339.5h1.9M257.2 339.5h1.9M266.8 339.5h1.9M274.3 339.5h1.9M280.1 339.5h1.9M283.8 339.5h3.8M291.4 339.5h1.9M295.2 339.5h5.7M302.8 339.5h5.7M310.4 339.5h7.6M319.9 339.5h1.9M150.9 341.4h1.9M162.2 341.4h1.9M166.1 341.4h1.9M173.7 341.4h1.9M204.1 341.4h1.9M213.6 341.4h1.9M228.8 341.4h1.9M240.2 341.4h9.5M251.6 341.4h1.9M276.2 341.4h1.9M283.8 341.4h3.8M289.6 341.4h1.9M293.3 341.4h3.8M299.1 341.4h7.6M308.6 341.4h1.9M312.3 341.4h1.9M316.2 341.4h1.9M145.2 343.3h1.9M160.4 343.3h3.8M169.9 343.3h1.9M194.6 343.3h1.9M221.2 343.3h1.9M224.9 343.3h3.8M244 343.3h5.7M259.2 343.3h1.9M266.8 343.3h5.7M278.2 343.3h1.9M283.8 343.3h1.9M287.7 343.3h9.5M300.9 343.3h1.9M304.8 343.3h1.9M308.6 343.3h5.7M316.2 343.3h3.8M152.8 345.2h5.7M162.2 345.2h1.9M166.1 345.2h1.9M169.9 345.2h3.8M177.4 345.2h1.9M192.7 345.2h1.9M217.4 345.2h1.9M223.1 345.2h1.9M226.9 345.2h1.9M236.3 345.2h1.9M244 345.2h3.8M251.6 345.2h3.8M257.2 345.2h1.9M262.9 345.2h1.9M270.6 345.2h3.8M280.1 345.2h1.9M285.8 345.2h3.8M297.2 345.2h1.9M300.9 345.2h3.8M306.7 345.2h3.8M312.3 345.2h3.8M318.1 345.2h1.9M145.2 347.1h1.9M154.7 347.1h3.8M160.4 347.1h1.9M166.1 347.1h1.9M183.2 347.1h1.9M190.8 347.1h3.8M198.4 347.1h1.9M202.2 347.1h1.9M219.2 347.1h5.7M230.7 347.1h3.8M244 347.1h3.8M251.6 347.1h3.8M259.2 347.1h1.9M262.9 347.1h1.9M266.8 347.1h1.9M272.4 347.1h5.7M281.9 347.1h5.7M289.6 347.1h7.6M299.1 347.1h3.8M306.7 347.1h5.7M316.2 347.1h3.8M150.9 349h1.9M154.7 349h1.9M158.5 349h15.2M186.9 349h1.9M190.8 349h3.8M196.4 349h1.9M211.7 349h3.8M226.9 349h1.9M230.7 349h3.8M238.2 349h1.9M245.8 349h1.9M251.6 349h1.9M255.3 349h1.9M259.2 349h1.9M272.4 349h3.8M283.8 349h5.7M293.3 349h1.9M299.1 349h1.9M302.8 349h3.8M308.6 349h7.6M147.1 350.9h1.9M156.6 350.9h3.8M162.2 350.9h1.9M169.9 350.9h5.7M183.2 350.9h1.9M188.9 350.9h5.7M198.4 350.9h1.9M202.2 350.9h1.9M217.4 350.9h3.8M223.1 350.9h1.9M226.9 350.9h5.7M234.5 350.9h1.9M244 350.9h5.7M251.6 350.9h1.9M266.8 350.9h5.7M285.8 350.9h1.9M289.6 350.9h5.7M297.2 350.9h3.8M302.8 350.9h5.7M310.4 350.9h1.9M314.2 350.9h1.9M394.1 350.9h1.9M156.6 352.8h9.5M169.9 352.8h3.8M177.4 352.8h5.7M196.4 352.8h1.9M205.9 352.8h1.9M209.8 352.8h1.9M217.4 352.8h7.6M228.8 352.8h1.9M232.6 352.8h5.7M240.2 352.8h1.9M255.3 352.8h3.8M261.1 352.8h3.8M274.3 352.8h1.9M278.2 352.8h1.9M289.6 352.8h1.9M293.3 352.8h1.9M299.1 352.8h19M160.4 354.7h5.7M171.8 354.7h3.8M181.2 354.7h1.9M202.2 354.7h1.9M207.9 354.7h1.9M211.7 354.7h1.9M217.4 354.7h3.8M240.2 354.7h1.9M245.8 354.7h1.9M249.7 354.7h3.8M257.2 354.7h9.5M268.7 354.7h3.8M274.3 354.7h3.8M285.8 354.7h1.9M289.6 354.7h11.4M302.8 354.7h9.5M154.7 356.6h15.2M175.6 356.6h1.9M194.6 356.6h1.9M207.9 356.6h1.9M215.4 356.6h1.9M221.2 356.6h1.9M230.7 356.6h3.8M238.2 356.6h7.6M247.8 356.6h7.6M257.2 356.6h1.9M266.8 356.6h1.9M274.3 356.6h1.9M278.2 356.6h1.9M281.9 356.6h3.8M289.6 356.6h22.8M314.2 356.6h3.8M152.8 358.5h1.9M156.6 358.5h1.9M160.4 358.5h1.9M164.2 358.5h7.6M173.7 358.5h1.9M179.4 358.5h1.9M196.4 358.5h1.9M217.4 358.5h3.8M224.9 358.5h1.9M230.7 358.5h3.8M236.3 358.5h5.7M245.8 358.5h3.8M253.5 358.5h1.9M274.3 358.5h1.9M280.1 358.5h1.9M285.8 358.5h1.9M293.3 358.5h3.8M299.1 358.5h7.6M310.4 358.5h5.7M318.1 358.5h1.9M137.6 360.4h1.9M147.1 360.4h1.9M152.8 360.4h3.8M160.4 360.4h1.9M164.2 360.4h3.8M175.6 360.4h1.9M183.2 360.4h7.6M194.6 360.4h1.9M198.4 360.4h1.9M205.9 360.4h5.7M215.4 360.4h3.8M223.1 360.4h1.9M230.7 360.4h1.9M234.5 360.4h5.7M244 360.4h1.9M247.8 360.4h1.9M259.2 360.4h5.7M276.2 360.4h9.5M287.7 360.4h3.8M293.3 360.4h3.8M302.8 360.4h3.8M310.4 360.4h5.7M154.7 362.3h3.8M160.4 362.3h3.8M166.1 362.3h5.7M177.4 362.3h1.9M186.9 362.3h1.9M192.7 362.3h1.9M196.4 362.3h1.9M200.2 362.3h1.9M207.9 362.3h3.8M217.4 362.3h1.9M221.2 362.3h5.7M238.2 362.3h3.8M247.8 362.3h3.8M253.5 362.3h1.9M261.1 362.3h1.9M264.8 362.3h1.9M270.6 362.3h1.9M274.3 362.3h1.9M278.2 362.3h3.8M283.8 362.3h7.6M295.2 362.3h3.8M300.9 362.3h11.4M314.2 362.3h1.9M154.7 364.2h1.9M160.4 364.2h19M194.6 364.2h7.6M207.9 364.2h3.8M213.6 364.2h7.6M223.1 364.2h1.9M226.9 364.2h7.6M236.3 364.2h1.9M240.2 364.2h3.8M245.8 364.2h1.9M255.3 364.2h5.7M264.8 364.2h3.8M274.3 364.2h1.9M283.8 364.2h3.8M289.6 364.2h1.9M293.3 364.2h13.3M310.4 364.2h1.9M316.2 364.2h1.9M154.7 366.1h17.1M173.7 366.1h1.9M188.9 366.1h3.8M194.6 366.1h3.8M202.2 366.1h1.9M209.8 366.1h3.8M215.4 366.1h5.7M234.5 366.1h1.9M238.2 366.1h3.8M247.8 366.1h3.8M253.5 366.1h5.7M264.8 366.1h7.6M274.3 366.1h5.7M285.8 366.1h3.8M291.4 366.1h3.8M297.2 366.1h13.3M135.7 368h1.9M152.8 368h3.8M158.5 368h20.9M181.2 368h3.8M186.9 368h5.7M198.4 368h1.9M202.2 368h1.9M205.9 368h7.6M217.4 368h1.9M223.1 368h5.7M230.7 368h1.9M240.2 368h5.7M247.8 368h1.9M259.2 368h1.9M262.9 368h1.9M274.3 368h1.9M281.9 368h3.8M287.7 368h1.9M291.4 368h1.9M295.2 368h3.8M300.9 368h9.5M422.6 368h1.9M154.7 369.9h19M175.6 369.9h1.9M188.9 369.9h13.3M204.1 369.9h1.9M207.9 369.9h20.9M230.7 369.9h1.9M234.5 369.9h3.8M240.2 369.9h1.9M244 369.9h1.9M249.7 369.9h1.9M255.3 369.9h1.9M259.2 369.9h3.8M264.8 369.9h1.9M272.4 369.9h1.9M278.2 369.9h5.7M285.8 369.9h22.8M314.2 369.9h1.9M147.1 371.8h36.1M188.9 371.8h1.9M194.6 371.8h1.9M200.2 371.8h3.8M205.9 371.8h1.9M211.7 371.8h7.6M221.2 371.8h5.7M228.8 371.8h1.9M234.5 371.8h1.9M238.2 371.8h1.9M244 371.8h1.9M247.8 371.8h1.9M266.8 371.8h5.7M274.3 371.8h1.9M281.9 371.8h1.9M287.7 371.8h3.8M295.2 371.8h3.8M300.9 371.8h11.4M314.2 371.8h1.9M105.2 373.7h1.9M152.8 373.7h30.4M196.4 373.7h1.9M200.2 373.7h1.9M207.9 373.7h1.9M211.7 373.7h3.8M219.2 373.7h7.6M228.8 373.7h3.8M234.5 373.7h1.9M245.8 373.7h9.5M257.2 373.7h1.9M261.1 373.7h5.7M270.6 373.7h1.9M276.2 373.7h1.9M280.1 373.7h1.9M287.7 373.7h1.9M293.3 373.7h3.8M299.1 373.7h3.8M306.7 373.7h3.8M147.1 375.6h1.9M150.9 375.6h3.8M156.6 375.6h17.1M177.4 375.6h1.9M181.2 375.6h1.9M192.7 375.6h5.7M202.2 375.6h3.8M207.9 375.6h3.8M213.6 375.6h5.7M221.2 375.6h3.8M226.9 375.6h1.9M230.7 375.6h3.8M236.3 375.6h7.6M245.8 375.6h1.9M261.1 375.6h1.9M268.7 375.6h1.9M280.1 375.6h3.8M285.8 375.6h1.9M291.4 375.6h1.9M295.2 375.6h11.4M308.6 375.6h3.8M105.2 377.5h1.9M154.7 377.5h19M175.6 377.5h5.7M183.2 377.5h1.9M188.9 377.5h7.6M198.4 377.5h20.9M223.1 377.5h1.9M230.7 377.5h1.9M236.3 377.5h7.6M245.8 377.5h1.9M249.7 377.5h1.9M253.5 377.5h1.9M264.8 377.5h1.9M274.3 377.5h1.9M280.1 377.5h5.7M287.7 377.5h1.9M293.3 377.5h3.8M300.9 377.5h9.5M363.6 377.5h1.9M376.9 377.5h1.9M399.8 377.5h1.9M150.9 379.4h3.8M156.6 379.4h22.8M186.9 379.4h5.7M194.6 379.4h1.9M200.2 379.4h3.8M207.9 379.4h5.7M217.4 379.4h11.4M234.5 379.4h3.8M245.8 379.4h1.9M251.6 379.4h3.8M257.2 379.4h1.9M280.1 379.4h1.9M283.8 379.4h3.8M289.6 379.4h1.9M297.2 379.4h7.6M306.7 379.4h1.9M310.4 379.4h1.9M384.6 379.4h1.9M152.8 381.3h1.9M156.6 381.3h17.1M179.4 381.3h7.6M190.8 381.3h1.9M194.6 381.3h1.9M204.1 381.3h1.9M207.9 381.3h3.8M213.6 381.3h1.9M219.2 381.3h11.4M234.5 381.3h3.8M245.8 381.3h3.8M255.3 381.3h3.8M262.9 381.3h1.9M268.7 381.3h1.9M272.4 381.3h1.9M283.8 381.3h7.6M293.3 381.3h15.2M310.4 381.3h1.9M316.2 381.3h1.9M382.6 381.3h1.9M114.8 383.2h1.9M135.7 383.2h1.9M149 383.2h1.9M154.7 383.2h19M177.4 383.2h1.9M185.1 383.2h1.9M192.7 383.2h1.9M196.4 383.2h19M217.4 383.2h5.7M224.9 383.2h7.6M234.5 383.2h3.8M244 383.2h3.8M249.7 383.2h1.9M253.5 383.2h3.8M261.1 383.2h1.9M278.2 383.2h1.9M291.4 383.2h1.9M295.2 383.2h9.5M394.1 383.2h1.9M128.1 385.1h1.9M154.7 385.1h20.9M177.4 385.1h1.9M185.1 385.1h1.9M194.6 385.1h20.9M217.4 385.1h1.9M223.1 385.1h1.9M226.9 385.1h1.9M230.7 385.1h7.6M240.2 385.1h3.8M245.8 385.1h3.8M255.3 385.1h1.9M259.2 385.1h3.8M266.8 385.1h1.9M276.2 385.1h1.9M293.3 385.1h3.8M299.1 385.1h3.8M304.8 385.1h1.9M152.8 387h1.9M156.6 387h22.8M190.8 387h1.9M196.4 387h1.9M200.2 387h5.7M209.8 387h1.9M215.4 387h5.7M224.9 387h3.8M238.2 387h5.7M249.7 387h5.7M257.2 387h7.6M266.8 387h1.9M278.2 387h1.9M281.9 387h7.6M300.9 387h1.9M304.8 387h7.6M137.6 388.9h1.9M149 388.9h1.9M154.7 388.9h22.8M181.2 388.9h1.9M190.8 388.9h1.9M194.6 388.9h3.8M200.2 388.9h1.9M207.9 388.9h1.9M211.7 388.9h1.9M215.4 388.9h1.9M219.2 388.9h3.8M224.9 388.9h5.7M232.6 388.9h1.9M245.8 388.9h1.9M253.5 388.9h1.9M266.8 388.9h3.8M272.4 388.9h1.9M278.2 388.9h3.8M287.7 388.9h1.9M291.4 388.9h1.9M295.2 388.9h1.9M299.1 388.9h5.7M308.6 388.9h3.8M375.1 388.9h1.9M143.2 390.8h1.9M150.9 390.8h1.9M154.7 390.8h19M175.6 390.8h1.9M183.2 390.8h1.9M186.9 390.8h1.9M190.8 390.8h5.7M198.4 390.8h1.9M204.1 390.8h1.9M207.9 390.8h1.9M215.4 390.8h5.7M228.8 390.8h3.8M236.3 390.8h1.9M244 390.8h3.8M253.5 390.8h1.9M259.2 390.8h1.9M262.9 390.8h5.7M274.3 390.8h1.9M278.2 390.8h3.8M283.8 390.8h1.9M289.6 390.8h1.9M293.3 390.8h5.7M300.9 390.8h7.6M310.4 390.8h1.9M314.2 390.8h1.9M154.7 392.7h22.8M183.2 392.7h1.9M190.8 392.7h1.9M196.4 392.7h1.9M200.2 392.7h1.9M204.1 392.7h1.9M207.9 392.7h3.8M213.6 392.7h3.8M223.1 392.7h3.8M228.8 392.7h3.8M234.5 392.7h3.8M242.1 392.7h1.9M251.6 392.7h5.7M266.8 392.7h1.9M270.6 392.7h3.8M276.2 392.7h1.9M281.9 392.7h1.9M285.8 392.7h1.9M297.2 392.7h1.9M300.9 392.7h3.8M306.7 392.7h1.9M361.8 392.7h1.9M145.2 394.6h1.9M150.9 394.6h3.8M156.6 394.6h19M181.2 394.6h5.7M188.9 394.6h1.9M194.6 394.6h1.9M204.1 394.6h5.7M213.6 394.6h7.6M228.8 394.6h1.9M234.5 394.6h3.8M244 394.6h1.9M249.7 394.6h3.8M262.9 394.6h5.7M287.7 394.6h1.9M293.3 394.6h1.9M299.1 394.6h1.9M306.7 394.6h1.9M310.4 394.6h1.9M319.9 394.6h1.9M359.9 394.6h3.8M384.6 394.6h1.9M156.6 396.5h17.1M185.1 396.5h5.7M196.4 396.5h7.6M207.9 396.5h1.9M215.4 396.5h5.7M223.1 396.5h1.9M242.1 396.5h1.9M247.8 396.5h1.9M259.2 396.5h1.9M270.6 396.5h1.9M287.7 396.5h1.9M291.4 396.5h5.7M306.7 396.5h1.9M319.9 396.5h1.9M327.6 396.5h1.9M350.3 396.5h1.9M150.9 398.4h7.6M160.4 398.4h11.4M173.7 398.4h3.8M188.9 398.4h1.9M192.7 398.4h3.8M198.4 398.4h3.8M204.1 398.4h3.8M215.4 398.4h1.9M219.2 398.4h1.9M223.1 398.4h1.9M226.9 398.4h1.9M230.7 398.4h3.8M236.3 398.4h3.8M244 398.4h1.9M249.7 398.4h1.9M253.5 398.4h3.8M266.8 398.4h1.9M272.4 398.4h1.9M276.2 398.4h3.8M287.7 398.4h3.8M293.3 398.4h1.9M297.2 398.4h7.6M306.7 398.4h1.9M312.3 398.4h1.9M319.9 398.4h3.8M354.2 398.4h1.9M361.8 398.4h1.9M376.9 398.4h1.9M149 400.3h1.9M152.8 400.3h7.6M162.2 400.3h11.4M179.4 400.3h1.9M192.7 400.3h3.8M200.2 400.3h1.9M204.1 400.3h1.9M209.8 400.3h1.9M215.4 400.3h5.7M228.8 400.3h5.7M236.3 400.3h1.9M251.6 400.3h1.9M255.3 400.3h3.8M268.7 400.3h1.9M274.3 400.3h5.7M291.4 400.3h1.9M300.9 400.3h1.9M325.7 400.3h1.9M329.4 400.3h1.9M354.2 400.3h1.9M137.6 402.2h1.9M158.5 402.2h15.2M175.6 402.2h1.9M192.7 402.2h1.9M196.4 402.2h1.9M202.2 402.2h1.9M211.7 402.2h1.9M219.2 402.2h3.8M224.9 402.2h1.9M228.8 402.2h3.8M236.3 402.2h1.9M240.2 402.2h1.9M245.8 402.2h3.8M257.2 402.2h1.9M261.1 402.2h1.9M268.7 402.2h1.9M280.1 402.2h1.9M283.8 402.2h1.9M293.3 402.2h1.9M297.2 402.2h1.9M300.9 402.2h3.8M306.7 402.2h3.8M318.1 402.2h1.9M323.8 402.2h1.9M344.7 402.2h1.9M354.2 402.2h1.9M149 404.1h1.9M156.6 404.1h1.9M160.4 404.1h7.6M169.9 404.1h5.7M185.1 404.1h3.8M194.6 404.1h1.9M207.9 404.1h3.8M213.6 404.1h5.7M221.2 404.1h5.7M228.8 404.1h1.9M236.3 404.1h1.9M240.2 404.1h3.8M251.6 404.1h1.9M270.6 404.1h1.9M295.2 404.1h1.9M300.9 404.1h3.8M306.7 404.1h1.9M312.3 404.1h1.9M316.2 404.1h1.9M359.9 404.1h1.9M382.6 404.1h1.9M149 406h3.8M154.7 406h1.9M162.2 406h1.9M167.9 406h1.9M171.8 406h1.9M179.4 406h3.8M185.1 406h3.8M192.7 406h1.9M196.4 406h1.9M204.1 406h1.9M207.9 406h1.9M217.4 406h1.9M221.2 406h1.9M226.9 406h1.9M240.2 406h1.9M251.6 406h3.8M262.9 406h1.9M266.8 406h1.9M300.9 406h1.9M304.8 406h1.9M308.6 406h1.9M354.2 406h1.9M154.7 407.9h11.4M167.9 407.9h1.9M173.7 407.9h1.9M188.9 407.9h1.9M194.6 407.9h3.8M200.2 407.9h1.9M204.1 407.9h3.8M213.6 407.9h7.6M223.1 407.9h1.9M228.8 407.9h1.9M247.8 407.9h1.9M259.2 407.9h1.9M289.6 407.9h5.7M300.9 407.9h3.8M333.2 407.9h1.9M344.7 407.9h1.9M354.2 407.9h1.9M359.9 407.9h1.9M152.8 409.8h7.6M166.1 409.8h3.8M177.4 409.8h1.9M192.7 409.8h1.9M198.4 409.8h1.9M204.1 409.8h1.9M211.7 409.8h7.6M221.2 409.8h1.9M226.9 409.8h3.8M232.6 409.8h3.8M242.1 409.8h1.9M253.5 409.8h1.9M257.2 409.8h1.9M280.1 409.8h1.9M287.7 409.8h1.9M291.4 409.8h5.7M304.8 409.8h1.9M333.2 409.8h1.9M337.1 409.8h1.9M154.7 411.7h1.9M160.4 411.7h3.8M173.7 411.7h1.9M194.6 411.7h1.9M202.2 411.7h1.9M211.7 411.7h3.8M249.7 411.7h1.9M259.2 411.7h1.9M293.3 411.7h1.9M308.6 411.7h1.9M371.2 411.7h1.9M101.5 413.6h1.9M156.6 413.6h3.8M162.2 413.6h1.9M167.9 413.6h1.9M190.8 413.6h1.9M196.4 413.6h1.9M202.2 413.6h1.9M213.6 413.6h1.9M217.4 413.6h3.8M249.7 413.6h3.8M278.2 413.6h1.9M297.2 413.6h1.9M306.7 413.6h1.9M310.4 413.6h1.9M319.9 413.6h1.9M325.7 413.6h1.9M164.2 415.5h1.9M173.7 415.5h1.9M192.7 415.5h1.9M202.2 415.5h1.9M205.9 415.5h1.9M215.4 415.5h1.9M230.7 415.5h1.9M240.2 415.5h3.8M253.5 415.5h1.9M302.8 415.5h1.9M318.1 415.5h1.9M329.4 415.5h1.9M354.2 415.5h3.8M160.4 417.4h1.9M175.6 417.4h1.9M202.2 417.4h1.9M207.9 417.4h1.9M242.1 417.4h1.9M255.3 417.4h1.9M259.2 417.4h1.9M281.9 417.4h1.9M291.4 417.4h1.9M316.2 417.4h1.9M224.9 419.3h3.8M266.8 419.3h1.9" stroke="#c0c0c0" stroke-width="1.9" fill="none"/>
<path d="M365.6 254h1.9M361.8 255.9h1.9M371.2 255.9h1.9M371.2 257.8h3.8M363.6 259.7h1.9M369.4 259.7h1.9M363.6 261.6h1.9M367.4 261.6h3.8M367.4 265.4h5.7M375.1 265.4h1.9M352.2 267.3h1.9M363.6 267.3h3.8M369.4 267.3h1.9M375.1 267.3h1.9M357.9 269.2h15.2M359.9 271.1h1.9M365.6 271.1h9.5M357.9 273h5.7M365.6 273h11.4M378.9 273h1.9M357.9 274.9h15.2M376.9 274.9h1.9M357.9 276.8h19M380.8 276.8h1.9M354.2 278.7h1.9M359.9 278.7h19M380.8 278.7h1.9M350.3 280.6h26.6M378.9 280.6h1.9M357.9 282.5h17.1M376.9 282.5h3.8M348.4 284.4h1.9M354.2 284.4h26.6M348.4 286.3h28.5M382.6 286.3h1.9M352.2 288.2h1.9M356.1 288.2h22.8M348.4 290.1h1.9M352.2 290.1h24.7M346.6 292h1.9M350.3 292h28.5M380.8 292h1.9M346.6 293.9h32.3M382.6 293.9h1.9M344.7 295.8h39.9M340.8 297.7h36.1M380.8 297.7h1.9M340.8 299.6h5.7M348.4 299.6h30.4M340.8 301.5h38M338.9 303.4h1.9M342.8 303.4h34.2M337.1 305.3h1.9M340.8 305.3h39.9M333.2 307.2h3.8M338.9 307.2h1.9M342.8 307.2h36.1M380.8 307.2h1.9M335.2 309.1h1.9M338.9 309.1h41.8M382.6 309.1h1.9M335.2 311h1.9M338.9 311h41.8M333.2 312.9h43.7M378.9 312.9h1.9M382.6 312.9h1.9M331.3 314.8h5.7M338.9 314.8h39.9M380.8 314.8h1.9M331.3 316.7h47.5M382.6 316.7h1.9M331.3 318.6h1.9M335.2 318.6h41.8M333.2 320.5h51.3M316.2 322.4h1.9M329.4 322.4h53.2M325.7 324.3h1.9M331.3 324.3h49.4M329.4 326.2h49.4M380.8 326.2h1.9M325.7 328.1h1.9M331.3 328.1h47.5M325.7 330h1.9M329.4 330h53.2M331.3 331.9h47.5M380.8 331.9h1.9M327.6 333.8h49.4M378.9 333.8h1.9M321.8 335.7h1.9M325.7 335.7h51.3M378.9 335.7h3.8M384.6 335.7h1.9M321.8 337.6h5.7M329.4 337.6h51.3M323.8 339.5h1.9M327.6 339.5h53.2M321.8 341.4h57M319.9 343.3h1.9M325.7 343.3h51.3M319.9 345.2h57M378.9 345.2h1.9M319.9 347.1h58.9M318.1 349h1.9M321.8 349h57M319.9 350.9h57M318.1 352.8h60.8M316.2 354.7h1.9M319.9 354.7h55.1M378.9 354.7h1.9M319.9 356.6h58.9M319.9 358.5h57M380.8 358.5h1.9M318.1 360.4h55.1M375.1 360.4h1.9M316.2 362.3h53.2M373.1 362.3h1.9M312.3 364.2h3.8M318.1 364.2h9.5M329.4 364.2h43.7M312.3 366.1h1.9M316.2 366.1h13.3M331.3 366.1h41.8M312.3 368h58.9M308.6 369.9h1.9M312.3 369.9h1.9M316.2 369.9h51.3M373.1 369.9h1.9M312.3 371.8h1.9M318.1 371.8h53.2M302.8 373.7h1.9M310.4 373.7h58.9M371.2 373.7h3.8M376.9 373.7h1.9M314.2 375.6h51.3M367.4 375.6h3.8M310.4 377.5h1.9M314.2 377.5h3.8M319.9 377.5h43.7M365.6 377.5h5.7M318.1 379.4h1.9M321.8 379.4h41.8M365.6 379.4h3.8M312.3 381.3h1.9M323.8 381.3h3.8M329.4 381.3h32.3M363.6 381.3h1.9M367.4 381.3h3.8M308.6 383.2h1.9M318.1 383.2h7.6M327.6 383.2h1.9M331.3 383.2h34.2M369.4 383.2h1.9M306.7 385.1h1.9M321.8 385.1h5.7M329.4 385.1h30.4M321.8 387h38M365.6 387h1.9M318.1 388.9h43.7M323.8 390.8h32.3M361.8 390.8h1.9M314.2 392.7h1.9M319.9 392.7h1.9M323.8 392.7h32.3M323.8 394.6h28.5M354.2 394.6h1.9M357.9 394.6h1.9M323.8 396.5h3.8M329.4 396.5h15.2M346.6 396.5h3.8M352.2 396.5h1.9M323.8 398.4h5.7M335.2 398.4h7.6M346.6 398.4h3.8M333.2 400.3h5.7M340.8 400.3h3.8M348.4 400.3h1.9M337.1 402.2h1.9M340.8 402.2h3.8M331.3 404.1h1.9M329.4 411.7h1.9" stroke="#ff00ff" stroke-width="1.9" fill="none"/>
<path d="M297.2 307.2h1.9M319.9 316.7h1.9M325.7 318.6h1.9M319.9 328.1h1.9M306.7 330h1.9M283.8 331.9h1.9M295.2 331.9h1.9M314.2 337.6h1.9M321.8 339.5h1.9M314.2 341.4h1.9M321.8 343.3h3.8M316.2 349h1.9M319.9 349h1.9M312.3 354.7h1.9M318.1 356.6h1.9M259.2 358.5h1.9M316.2 360.4h1.9M312.3 362.3h1.9M327.6 364.2h1.9M329.4 366.1h1.9M312.3 377.5h1.9M318.1 377.5h1.9M312.3 379.4h5.7M319.9 379.4h1.9M314.2 381.3h1.9M318.1 381.3h5.7M327.6 381.3h1.9M306.7 383.2h1.9M310.4 383.2h7.6M325.7 383.2h1.9M329.4 383.2h1.9M308.6 385.1h13.3M327.6 385.1h1.9M312.3 387h9.5M312.3 388.9h5.7M316.2 390.8h3.8M321.8 390.8h1.9M308.6 392.7h1.9M312.3 392.7h1.9M316.2 392.7h1.9M321.8 392.7h1.9M314.2 394.6h1.9M318.1 394.6h1.9M316.2 396.5h1.9M316.2 398.4h1.9M319.9 402.2h1.9M314.2 404.1h1.9M325.7 409.8h1.9M316.2 415.5h1.9" stroke="#0000ff" stroke-width="1.9" fill="none"/>
<polygon points="375.4,252.4 403.4,318.8 402.2,368.6 375.4,410.4 308.6,431 293.5,430.6 273.8,354" fill="none" stroke="#5050ff" stroke-width="1.5" stroke-linejoin="round"/>
<rect x="139.1" y="201.5" width="46.2" height="29.9" fill="#ffff00"/>
<text transform="translate(139.42 223.9) scale(0.9693 1)" font-size="24" fill="#000" font-weight="bold">84.5%</text>
<path d="M87 61.4H96.9M90.5 84.49H96.9M90.5 107.58H96.9M90.5 130.66H96.9M87 153.75H96.9M90.5 176.84H96.9M90.5 199.93H96.9M90.5 223.01H96.9M87 246.1H96.9M90.5 269.19H96.9M90.5 292.28H96.9M90.5 315.36H96.9M87 338.45H96.9M90.5 361.54H96.9M90.5 384.62H96.9M90.5 407.71H96.9M87 430.8H96.9" stroke="#222" stroke-width="1.4" fill="none"/>
<rect x="81" y="57.4" width="1.6" height="7.5" fill="#7f9fd0"/>
<rect x="81" y="149.75" width="1.6" height="7.5" fill="#7f9fd0"/>
<rect x="81" y="242.1" width="1.6" height="7.5" fill="#7f9fd0"/>
<rect x="81" y="334.45" width="1.6" height="7.5" fill="#7f9fd0"/>
<rect x="81" y="426.8" width="1.6" height="7.5" fill="#7f9fd0"/>
<path d="M140.8 432.8V441.3M177.3 432.8V441.3M254.6 432.8V441.3M341.4 432.8V441.3M426.5 432.8V441.3M200.57 432.8V437.3M214.18 432.8V437.3M223.84 432.8V437.3M231.33 432.8V437.3M237.45 432.8V437.3M242.63 432.8V437.3M247.11 432.8V437.3M251.06 432.8V437.3M280.73 432.8V437.3M296.01 432.8V437.3M306.86 432.8V437.3M315.27 432.8V437.3M322.14 432.8V437.3M327.95 432.8V437.3M332.99 432.8V437.3M337.43 432.8V437.3M367.02 432.8V437.3M382 432.8V437.3M392.64 432.8V437.3M400.88 432.8V437.3M407.62 432.8V437.3M413.32 432.8V437.3M418.25 432.8V437.3M422.61 432.8V437.3" stroke="#444" stroke-width="1.2" fill="none"/>
<path d="M143.08 432.8V437.8M145.36 432.8V437.8M147.64 432.8V437.8M149.93 432.8V437.8M152.21 432.8V437.8M154.49 432.8V437.8M156.77 432.8V441.3M159.05 432.8V441.3M161.33 432.8V437.8M163.61 432.8V437.8M165.89 432.8V437.8M168.18 432.8V437.8M170.46 432.8V437.8M172.74 432.8V437.8M175.02 432.8V437.8" stroke="#444" stroke-width="1.4" fill="none" opacity="0.8"/>
<line x1="87" y1="61.4" x2="463.1" y2="61.4" stroke="#777" stroke-width="1.6"/>
<line x1="462.5" y1="61.4" x2="462.5" y2="430.8" stroke="#777" stroke-width="1.6"/>
<rect x="95.1" y="59.9" width="3.6" height="373.4" fill="#000"/>
<rect x="95.1" y="428.3" width="369.9" height="5" fill="#000"/>
<text transform="translate(206.45 484.3) scale(0.9620 1)" font-size="29" fill="#111" stroke="#111" stroke-width="0.3">CD45 V500-A</text>
<text transform="translate(71.2 293.14) rotate(-90) scale(0.9506 1)" font-size="29.5" fill="#111" stroke="#111" stroke-width="0.3">SSC-A</text>
<text transform="translate(15.37 35) scale(0.8756 1)" font-size="46.8" fill="#000" stroke="#000" stroke-width="0.5">A</text>
<path d="M965.2 76.8h2.5M1002 84.1h2.5M970.1 103.7h2.5M747.2 189.4h2.5M749.6 191.9h2.5M754.5 191.9h2.5M776.6 191.9h2.5M796.2 191.9h2.5M734.9 194.4h2.5M742.3 194.4h2.5M747.2 194.4h7.4M761.9 194.4h7.4M781.5 194.4h4.9M801.1 194.4h2.5M808.4 194.4h2.5M815.8 194.4h7.4M730 196.8h2.5M747.2 196.8h4.9M759.4 196.8h4.9M766.8 196.8h2.5M771.7 196.8h2.5M776.6 196.8h2.5M781.5 196.8h4.9M788.8 196.8h2.5M808.4 196.8h2.5M847.6 196.8h2.5M730 199.2h2.5M737.4 199.2h2.5M742.3 199.2h4.9M754.5 199.2h7.4M769.2 199.2h2.5M781.5 199.2h2.5M788.8 199.2h2.5M798.6 199.2h2.5M810.9 199.2h2.5M815.8 199.2h7.4M825.6 199.2h7.4M842.7 199.2h2.5M730 201.7h2.5M737.4 201.7h7.4M747.2 201.7h12.2M761.9 201.7h2.5M766.8 201.7h4.9M776.6 201.7h9.8M788.8 201.7h2.5M793.7 201.7h2.5M798.6 201.7h2.5M803.5 201.7h2.5M818.2 201.7h2.5M830.5 201.7h4.9M837.8 201.7h2.5M859.9 201.7h2.5M722.7 204.2h2.5M739.8 204.2h12.2M754.5 204.2h22.1M779 204.2h12.2M796.2 204.2h14.7M813.3 204.2h4.9M820.7 204.2h4.9M828 204.2h2.5M832.9 204.2h2.5M845.2 204.2h4.9M852.5 204.2h2.5M857.4 204.2h2.5M874.6 204.2h2.5M739.8 206.6h12.2M754.5 206.6h17.2M774.1 206.6h17.2M793.7 206.6h12.2M810.9 206.6h19.6M832.9 206.6h2.5M837.8 206.6h4.9M852.5 206.6h4.9M859.9 206.6h2.5M732.5 209.1h2.5M742.3 209.1h4.9M749.6 209.1h2.5M754.5 209.1h9.8M774.1 209.1h12.2M788.8 209.1h2.5M793.7 209.1h9.8M808.4 209.1h9.8M820.7 209.1h7.4M830.5 209.1h12.2M845.2 209.1h2.5M850.1 209.1h9.8M727.6 211.5h2.5M734.9 211.5h2.5M739.8 211.5h7.4M749.6 211.5h2.5M757 211.5h2.5M761.9 211.5h2.5M766.8 211.5h2.5M771.7 211.5h2.5M776.6 211.5h4.9M783.9 211.5h26.9M813.3 211.5h2.5M818.2 211.5h4.9M828 211.5h12.2M842.7 211.5h7.4M852.5 211.5h2.5M857.4 211.5h7.4M739.8 214h12.2M757 214h29.4M791.3 214h2.5M796.2 214h31.9M830.5 214h9.8M842.7 214h2.5M850.1 214h2.5M855 214h4.9M730 216.4h4.9M737.4 216.4h9.8M749.6 216.4h2.5M757 216.4h4.9M764.3 216.4h17.2M786.4 216.4h9.8M798.6 216.4h7.4M808.4 216.4h2.5M815.8 216.4h31.9M850.1 216.4h4.9M857.4 216.4h4.9M730 218.9h2.5M737.4 218.9h12.2M752.1 218.9h9.8M764.3 218.9h26.9M793.7 218.9h2.5M798.6 218.9h17.2M818.2 218.9h19.6M840.3 218.9h4.9M847.6 218.9h7.4M857.4 218.9h2.5M732.5 221.3h9.8M747.2 221.3h7.4M757 221.3h7.4M766.8 221.3h14.7M783.9 221.3h4.9M796.2 221.3h4.9M803.5 221.3h4.9M810.9 221.3h17.2M830.5 221.3h22.1M734.9 223.8h2.5M742.3 223.8h22.1M766.8 223.8h4.9M774.1 223.8h39.2M815.8 223.8h9.8M828 223.8h4.9M835.4 223.8h14.7M852.5 223.8h2.5M857.4 223.8h4.9M730 226.2h4.9M737.4 226.2h2.5M744.7 226.2h12.2M759.4 226.2h2.5M764.3 226.2h29.4M796.2 226.2h12.2M810.9 226.2h9.8M823.1 226.2h12.2M840.3 226.2h2.5M845.2 226.2h2.5M852.5 226.2h2.5M859.9 226.2h4.9M725.1 228.7h2.5M732.5 228.7h2.5M742.3 228.7h7.4M752.1 228.7h22.1M776.6 228.7h9.8M788.8 228.7h2.5M793.7 228.7h7.4M803.5 228.7h2.5M810.9 228.7h2.5M815.8 228.7h9.8M828 228.7h22.1M855 228.7h2.5M732.5 231.1h24.5M759.4 231.1h12.2M776.6 231.1h4.9M783.9 231.1h29.4M815.8 231.1h7.4M830.5 231.1h2.5M835.4 231.1h19.6M739.8 233.6h7.4M749.6 233.6h9.8M761.9 233.6h12.2M776.6 233.6h17.2M796.2 233.6h7.4M806 233.6h7.4M815.8 233.6h7.4M825.6 233.6h2.5M830.5 233.6h2.5M835.4 233.6h19.6M734.9 236h9.8M747.2 236h24.5M774.1 236h17.2M796.2 236h2.5M803.5 236h7.4M813.3 236h2.5M818.2 236h12.2M832.9 236h9.8M845.2 236h2.5M850.1 236h12.2M734.9 238.5h44.1M781.5 238.5h4.9M788.8 238.5h4.9M796.2 238.5h4.9M803.5 238.5h9.8M815.8 238.5h9.8M828 238.5h2.5M832.9 238.5h12.2M852.5 238.5h2.5M857.4 238.5h2.5M862.3 238.5h2.5M739.8 240.9h19.6M761.9 240.9h26.9M791.3 240.9h9.8M803.5 240.9h9.8M818.2 240.9h26.9M852.5 240.9h4.9M859.9 240.9h2.5M732.5 243.4h2.5M739.8 243.4h4.9M747.2 243.4h4.9M754.5 243.4h7.4M764.3 243.4h19.6M786.4 243.4h7.4M796.2 243.4h26.9M825.6 243.4h19.6M850.1 243.4h2.5M867.2 243.4h2.5M734.9 245.8h9.8M747.2 245.8h4.9M754.5 245.8h4.9M769.2 245.8h9.8M781.5 245.8h19.6M803.5 245.8h2.5M810.9 245.8h12.2M828 245.8h17.2M852.5 245.8h2.5M859.9 245.8h7.4M884.4 245.8h2.5M894.2 245.8h2.5M742.3 248.2h2.5M747.2 248.2h4.9M754.5 248.2h9.8M766.8 248.2h14.7M783.9 248.2h2.5M788.8 248.2h12.2M806 248.2h7.4M823.1 248.2h2.5M828 248.2h2.5M840.3 248.2h4.9M852.5 248.2h2.5M859.9 248.2h2.5M737.4 250.7h2.5M747.2 250.7h9.8M759.4 250.7h12.2M774.1 250.7h12.2M788.8 250.7h2.5M793.7 250.7h29.4M828 250.7h9.8M840.3 250.7h2.5M850.1 250.7h2.5M877 250.7h2.5M886.8 250.7h2.5M739.8 253.2h4.9M747.2 253.2h2.5M752.1 253.2h9.8M764.3 253.2h9.8M776.6 253.2h34.3M813.3 253.2h2.5M818.2 253.2h7.4M828 253.2h2.5M840.3 253.2h2.5M845.2 253.2h2.5M857.4 253.2h2.5M727.6 255.6h2.5M744.7 255.6h2.5M749.6 255.6h2.5M754.5 255.6h2.5M759.4 255.6h9.8M771.7 255.6h12.2M788.8 255.6h24.5M815.8 255.6h7.4M825.6 255.6h2.5M830.5 255.6h2.5M835.4 255.6h4.9M847.6 255.6h2.5M894.2 255.6h2.5M749.6 258.1h4.9M757 258.1h2.5M761.9 258.1h36.8M801.1 258.1h4.9M813.3 258.1h2.5M835.4 258.1h2.5M840.3 258.1h2.5M845.2 258.1h2.5M862.3 258.1h2.5M867.2 258.1h2.5M877 258.1h2.5M891.7 258.1h4.9M744.7 260.5h9.8M757 260.5h2.5M761.9 260.5h9.8M774.1 260.5h39.2M823.1 260.5h2.5M840.3 260.5h4.9M857.4 260.5h2.5M879.5 260.5h2.5M886.8 260.5h2.5M742.3 263h2.5M747.2 263h2.5M752.1 263h12.2M766.8 263h26.9M796.2 263h7.4M806 263h7.4M815.8 263h2.5M825.6 263h2.5M857.4 263h2.5M864.8 263h2.5M872.1 263h2.5M879.5 263h2.5M889.3 263h2.5M747.2 265.4h2.5M752.1 265.4h2.5M757 265.4h2.5M764.3 265.4h34.3M801.1 265.4h4.9M808.4 265.4h4.9M818.2 265.4h4.9M855 265.4h2.5M874.6 265.4h4.9M881.9 265.4h2.5M744.7 267.9h2.5M752.1 267.9h7.4M761.9 267.9h19.6M783.9 267.9h22.1M808.4 267.9h2.5M823.1 267.9h9.8M842.7 267.9h2.5M855 267.9h2.5M867.2 267.9h2.5M872.1 267.9h2.5M896.6 267.9h2.5M749.6 270.3h2.5M754.5 270.3h41.7M798.6 270.3h4.9M806 270.3h4.9M813.3 270.3h9.8M837.8 270.3h4.9M857.4 270.3h2.5M747.2 272.8h2.5M752.1 272.8h2.5M757 272.8h7.4M766.8 272.8h22.1M791.3 272.8h2.5M796.2 272.8h2.5M801.1 272.8h2.5M806 272.8h2.5M813.3 272.8h2.5M823.1 272.8h2.5M830.5 272.8h2.5M847.6 272.8h2.5M864.8 272.8h2.5M744.7 275.2h2.5M754.5 275.2h2.5M759.4 275.2h17.2M779 275.2h2.5M788.8 275.2h4.9M796.2 275.2h4.9M803.5 275.2h4.9M823.1 275.2h2.5M837.8 275.2h7.4M847.6 275.2h2.5M855 275.2h2.5M749.6 277.6h4.9M757 277.6h2.5M769.2 277.6h4.9M779 277.6h2.5M783.9 277.6h2.5M788.8 277.6h2.5M798.6 277.6h2.5M806 277.6h2.5M818.2 277.6h4.9M830.5 277.6h4.9M837.8 277.6h4.9M850.1 277.6h4.9M862.3 277.6h4.9M747.2 280.1h2.5M754.5 280.1h2.5M759.4 280.1h4.9M774.1 280.1h2.5M779 280.1h9.8M791.3 280.1h2.5M796.2 280.1h7.4M825.6 280.1h2.5M864.8 280.1h2.5M877 280.1h2.5M896.6 280.1h2.5M757 282.6h2.5M764.3 282.6h2.5M769.2 282.6h4.9M776.6 282.6h2.5M781.5 282.6h12.2M806 282.6h2.5M823.1 282.6h2.5M828 282.6h2.5M852.5 282.6h2.5M857.4 282.6h7.4M886.8 282.6h2.5M769.2 285h2.5M774.1 285h14.7M791.3 285h2.5M798.6 285h4.9M806 285h7.4M818.2 285h2.5M859.9 285h2.5M889.3 285h2.5M757 287.5h4.9M771.7 287.5h4.9M779 287.5h4.9M786.4 287.5h7.4M796.2 287.5h2.5M801.1 287.5h2.5M806 287.5h2.5M815.8 287.5h2.5M825.6 287.5h2.5M845.2 287.5h2.5M855 287.5h2.5M859.9 287.5h2.5M869.7 287.5h2.5M889.3 287.5h2.5M747.2 289.9h2.5M757 289.9h7.4M766.8 289.9h9.8M779 289.9h2.5M786.4 289.9h2.5M791.3 289.9h7.4M801.1 289.9h2.5M806 289.9h2.5M813.3 289.9h2.5M837.8 289.9h2.5M850.1 289.9h2.5M857.4 289.9h4.9M867.2 289.9h2.5M874.6 289.9h2.5M879.5 289.9h2.5M889.3 289.9h2.5M749.6 292.4h2.5M754.5 292.4h2.5M759.4 292.4h2.5M766.8 292.4h7.4M779 292.4h4.9M786.4 292.4h4.9M793.7 292.4h2.5M801.1 292.4h2.5M808.4 292.4h4.9M830.5 292.4h2.5M837.8 292.4h2.5M857.4 292.4h2.5M894.2 292.4h2.5M730 294.8h2.5M737.4 294.8h2.5M752.1 294.8h2.5M761.9 294.8h7.4M774.1 294.8h2.5M788.8 294.8h7.4M801.1 294.8h2.5M815.8 294.8h2.5M825.6 294.8h4.9M845.2 294.8h2.5M867.2 294.8h2.5M877 294.8h2.5M739.8 297.2h2.5M747.2 297.2h9.8M759.4 297.2h2.5M766.8 297.2h9.8M779 297.2h2.5M786.4 297.2h2.5M793.7 297.2h4.9M801.1 297.2h2.5M808.4 297.2h2.5M813.3 297.2h4.9M825.6 297.2h2.5M832.9 297.2h4.9M855 297.2h4.9M869.7 297.2h2.5M752.1 299.7h4.9M779 299.7h4.9M793.7 299.7h2.5M818.2 299.7h2.5M825.6 299.7h2.5M830.5 299.7h2.5M837.8 299.7h2.5M845.2 299.7h2.5M852.5 299.7h4.9M891.7 299.7h4.9M749.6 302.1h4.9M759.4 302.1h2.5M771.7 302.1h2.5M776.6 302.1h9.8M788.8 302.1h2.5M796.2 302.1h2.5M803.5 302.1h2.5M808.4 302.1h2.5M815.8 302.1h2.5M820.7 302.1h2.5M828 302.1h4.9M835.4 302.1h2.5M857.4 302.1h2.5M862.3 302.1h4.9M874.6 302.1h2.5M884.4 302.1h2.5M894.2 302.1h2.5M747.2 304.6h2.5M752.1 304.6h2.5M759.4 304.6h2.5M771.7 304.6h7.4M781.5 304.6h7.4M791.3 304.6h2.5M796.2 304.6h4.9M810.9 304.6h2.5M815.8 304.6h9.8M830.5 304.6h2.5M835.4 304.6h2.5M845.2 304.6h4.9M855 304.6h2.5M862.3 304.6h2.5M872.1 304.6h2.5M757 307.1h4.9M764.3 307.1h19.6M788.8 307.1h7.4M798.6 307.1h2.5M810.9 307.1h12.2M884.4 307.1h2.5M749.6 309.5h7.4M761.9 309.5h2.5M766.8 309.5h2.5M774.1 309.5h2.5M779 309.5h4.9M796.2 309.5h2.5M813.3 309.5h4.9M855 309.5h2.5M879.5 309.5h2.5M742.3 312h2.5M754.5 312h2.5M764.3 312h2.5M774.1 312h9.8M786.4 312h9.8M798.6 312h2.5M803.5 312h2.5M808.4 312h2.5M813.3 312h2.5M818.2 312h2.5M752.1 314.4h9.8M764.3 314.4h2.5M769.2 314.4h4.9M783.9 314.4h2.5M793.7 314.4h2.5M798.6 314.4h2.5M818.2 314.4h4.9M840.3 314.4h2.5M730 316.9h2.5M739.8 316.9h2.5M757 316.9h2.5M761.9 316.9h2.5M774.1 316.9h2.5M779 316.9h9.8M791.3 316.9h4.9M806 316.9h2.5M825.6 316.9h4.9M842.7 316.9h4.9M722.7 319.3h2.5M737.4 319.3h2.5M749.6 319.3h7.4M761.9 319.3h2.5M769.2 319.3h2.5M774.1 319.3h2.5M781.5 319.3h9.8M793.7 319.3h2.5M803.5 319.3h2.5M813.3 319.3h4.9M896.6 319.3h2.5M734.9 321.8h2.5M747.2 321.8h4.9M757 321.8h4.9M766.8 321.8h2.5M774.1 321.8h2.5M779 321.8h4.9M788.8 321.8h7.4M801.1 321.8h2.5M862.3 321.8h2.5M889.3 321.8h2.5M739.8 324.2h2.5M749.6 324.2h2.5M754.5 324.2h7.4M771.7 324.2h7.4M788.8 324.2h2.5M798.6 324.2h4.9M808.4 324.2h2.5M832.9 324.2h2.5M874.6 324.2h2.5M891.7 324.2h2.5M754.5 326.7h2.5M761.9 326.7h2.5M766.8 326.7h12.2M781.5 326.7h2.5M793.7 326.7h2.5M806 326.7h7.4M730 329.1h2.5M737.4 329.1h2.5M752.1 329.1h2.5M757 329.1h4.9M764.3 329.1h4.9M774.1 329.1h4.9M788.8 329.1h2.5M798.6 329.1h2.5M828 329.1h4.9M727.6 331.6h2.5M742.3 331.6h2.5M749.6 331.6h2.5M754.5 331.6h4.9M764.3 331.6h4.9M771.7 331.6h7.4M781.5 331.6h4.9M788.8 331.6h7.4M801.1 331.6h4.9M808.4 331.6h2.5M830.5 331.6h2.5M886.8 331.6h2.5M730 334h2.5M734.9 334h2.5M749.6 334h2.5M754.5 334h2.5M764.3 334h2.5M779 334h2.5M793.7 334h2.5M798.6 334h2.5M815.8 334h2.5M837.8 334h2.5M889.3 334h2.5M749.6 336.5h12.2M764.3 336.5h26.9M793.7 336.5h4.9M808.4 336.5h2.5M813.3 336.5h2.5M818.2 336.5h2.5M862.3 336.5h2.5M881.9 336.5h4.9M742.3 338.9h2.5M749.6 338.9h2.5M754.5 338.9h7.4M764.3 338.9h12.2M783.9 338.9h9.8M796.2 338.9h4.9M806 338.9h2.5M815.8 338.9h2.5M835.4 338.9h4.9M842.7 338.9h2.5M879.5 338.9h4.9M894.2 338.9h2.5M742.3 341.4h2.5M754.5 341.4h4.9M761.9 341.4h2.5M766.8 341.4h12.2M781.5 341.4h14.7M798.6 341.4h2.5M815.8 341.4h2.5M877 341.4h2.5M894.2 341.4h2.5M730 343.8h2.5M744.7 343.8h2.5M749.6 343.8h7.4M764.3 343.8h4.9M771.7 343.8h7.4M781.5 343.8h2.5M786.4 343.8h4.9M798.6 343.8h2.5M835.4 343.8h2.5M852.5 343.8h2.5M722.7 346.2h2.5M732.5 346.2h2.5M742.3 346.2h2.5M749.6 346.2h7.4M759.4 346.2h4.9M769.2 346.2h2.5M776.6 346.2h2.5M781.5 346.2h2.5M788.8 346.2h2.5M796.2 346.2h2.5M801.1 346.2h2.5M806 346.2h2.5M810.9 346.2h2.5M828 346.2h2.5M874.6 346.2h2.5M886.8 346.2h2.5M739.8 348.7h4.9M747.2 348.7h2.5M759.4 348.7h4.9M766.8 348.7h17.2M788.8 348.7h2.5M793.7 348.7h2.5M798.6 348.7h2.5M813.3 348.7h2.5M823.1 348.7h2.5M847.6 348.7h2.5M857.4 348.7h2.5M737.4 351.2h2.5M752.1 351.2h2.5M759.4 351.2h4.9M766.8 351.2h4.9M776.6 351.2h9.8M788.8 351.2h2.5M798.6 351.2h2.5M894.2 351.2h2.5M727.6 353.6h2.5M742.3 353.6h4.9M749.6 353.6h4.9M757 353.6h4.9M764.3 353.6h2.5M771.7 353.6h9.8M786.4 353.6h7.4M801.1 353.6h2.5M815.8 353.6h2.5M825.6 353.6h2.5M867.2 353.6h2.5M720.2 356.1h2.5M727.6 356.1h2.5M744.7 356.1h2.5M754.5 356.1h2.5M761.9 356.1h2.5M766.8 356.1h4.9M774.1 356.1h4.9M786.4 356.1h2.5M791.3 356.1h12.2M818.2 356.1h2.5M823.1 356.1h4.9M840.3 356.1h2.5M896.6 356.1h2.5M739.8 358.5h2.5M752.1 358.5h2.5M764.3 358.5h2.5M771.7 358.5h19.6M793.7 358.5h2.5M808.4 358.5h2.5M877 358.5h2.5M727.6 361h2.5M732.5 361h2.5M747.2 361h2.5M754.5 361h14.7M771.7 361h2.5M776.6 361h2.5M783.9 361h2.5M793.7 361h2.5M801.1 361h2.5M734.9 363.4h2.5M742.3 363.4h4.9M749.6 363.4h4.9M757 363.4h2.5M761.9 363.4h2.5M766.8 363.4h2.5M774.1 363.4h4.9M786.4 363.4h7.4M806 363.4h2.5M813.3 363.4h2.5M894.2 363.4h2.5M737.4 365.9h2.5M742.3 365.9h2.5M749.6 365.9h4.9M757 365.9h2.5M764.3 365.9h2.5M776.6 365.9h2.5M786.4 365.9h2.5M879.5 365.9h2.5M752.1 368.3h9.8M766.8 368.3h14.7M788.8 368.3h2.5M793.7 368.3h4.9M803.5 368.3h4.9M832.9 368.3h2.5M840.3 368.3h2.5M852.5 368.3h2.5M877 368.3h2.5M739.8 370.8h17.2M759.4 370.8h2.5M769.2 370.8h4.9M776.6 370.8h4.9M783.9 370.8h7.4M793.7 370.8h2.5M855 370.8h2.5M732.5 373.2h2.5M742.3 373.2h2.5M752.1 373.2h2.5M757 373.2h19.6M781.5 373.2h2.5M786.4 373.2h2.5M791.3 373.2h2.5M852.5 373.2h2.5M744.7 375.7h4.9M752.1 375.7h7.4M761.9 375.7h7.4M771.7 375.7h4.9M781.5 375.7h7.4M806 375.7h2.5M820.7 375.7h2.5M855 375.7h2.5M862.3 375.7h2.5M877 375.7h4.9M889.3 375.7h2.5M754.5 378.1h2.5M761.9 378.1h9.8M781.5 378.1h4.9M791.3 378.1h2.5M798.6 378.1h2.5M803.5 378.1h4.9M747.2 380.6h2.5M752.1 380.6h4.9M764.3 380.6h12.2M779 380.6h2.5M783.9 380.6h2.5M796.2 380.6h4.9M808.4 380.6h2.5M840.3 380.6h2.5M732.5 383h2.5M761.9 383h2.5M766.8 383h2.5M771.7 383h2.5M781.5 383h2.5M786.4 383h2.5M791.3 383h2.5M752.1 385.5h2.5M759.4 385.5h4.9M779 385.5h2.5M783.9 385.5h4.9M791.3 385.5h4.9M823.1 385.5h2.5M842.7 385.5h2.5M891.7 385.5h2.5M896.6 385.5h2.5M732.5 387.9h7.4M764.3 387.9h2.5M769.2 387.9h9.8M781.5 387.9h2.5M786.4 387.9h2.5M801.1 387.9h2.5M806 387.9h2.5M825.6 387.9h2.5M725.1 390.4h2.5M734.9 390.4h4.9M744.7 390.4h2.5M754.5 390.4h2.5M761.9 390.4h2.5M783.9 390.4h2.5M793.7 390.4h2.5M820.7 390.4h2.5M830.5 390.4h2.5M842.7 390.4h2.5M886.8 390.4h2.5M757 392.8h2.5M774.1 392.8h2.5M791.3 392.8h2.5M840.3 392.8h4.9M850.1 392.8h2.5M879.5 392.8h2.5M739.8 395.2h2.5M752.1 395.2h2.5M759.4 395.2h2.5M766.8 395.2h2.5M879.5 395.2h2.5M734.9 397.7h2.5M749.6 397.7h2.5M761.9 397.7h2.5M769.2 397.7h2.5M774.1 397.7h2.5M783.9 397.7h2.5M752.1 400.2h2.5M766.8 400.2h2.5M779 400.2h4.9M803.5 400.2h2.5M869.7 400.2h2.5M879.5 400.2h2.5M744.7 402.6h2.5M749.6 402.6h2.5M774.1 402.6h2.5M783.9 402.6h2.5M788.8 402.6h7.4M869.7 402.6h2.5M894.2 402.6h4.9M732.5 405.1h2.5M771.7 405.1h2.5M796.2 405.1h2.5M737.4 407.5h2.5M823.1 407.5h2.5M835.4 407.5h2.5M879.5 407.5h2.5M744.7 410h2.5M791.3 410h2.5M796.2 410h2.5M818.2 410h4.9M852.5 410h2.5M783.9 412.4h2.5M791.3 412.4h2.5M815.8 412.4h2.5M823.1 412.4h2.5M850.1 412.4h2.5M754.5 414.9h2.5M754.5 417.3h2.5M779 417.3h2.5M786.4 417.3h2.5M828 417.3h2.5M757 419.8h2.5M791.3 419.8h2.5M845.2 419.8h2.5M896.6 419.8h2.5" stroke="#808080" stroke-width="2.5" fill="none"/>
<path d="M948.1 179.7h2.5M953 179.7h2.5M989.7 179.7h2.5M874.6 184.6h2.5M879.5 184.6h4.9M894.2 184.6h7.4M916.2 184.6h2.5M928.5 184.6h2.5M938.3 184.6h4.9M967.7 184.6h2.5M984.8 184.6h2.5M859.9 187h2.5M874.6 187h2.5M886.8 187h2.5M899.1 187h2.5M913.8 187h2.5M938.3 187h2.5M953 187h2.5M965.2 187h4.9M850.1 189.4h2.5M859.9 189.4h2.5M869.7 189.4h2.5M881.9 189.4h4.9M889.3 189.4h4.9M896.6 189.4h4.9M923.6 189.4h4.9M960.3 189.4h2.5M967.7 189.4h2.5M994.6 189.4h2.5M832.9 191.9h2.5M855 191.9h2.5M874.6 191.9h2.5M879.5 191.9h2.5M884.4 191.9h2.5M894.2 191.9h2.5M904 191.9h2.5M913.8 191.9h9.8M926 191.9h2.5M930.9 191.9h2.5M938.3 191.9h12.2M960.3 191.9h12.2M975 191.9h2.5M869.7 194.4h2.5M877 194.4h2.5M891.7 194.4h7.4M901.5 194.4h4.9M911.3 194.4h2.5M916.2 194.4h22.1M940.7 194.4h14.7M957.9 194.4h26.9M992.2 194.4h2.5M855 196.8h2.5M881.9 196.8h2.5M894.2 196.8h4.9M904 196.8h4.9M911.3 196.8h26.9M940.7 196.8h39.2M982.4 196.8h2.5M987.3 196.8h2.5M847.6 199.2h2.5M867.2 199.2h2.5M879.5 199.2h2.5M884.4 199.2h7.4M896.6 199.2h2.5M901.5 199.2h14.7M918.7 199.2h9.8M930.9 199.2h19.6M953 199.2h29.4M855 201.7h2.5M862.3 201.7h9.8M874.6 201.7h2.5M881.9 201.7h4.9M889.3 201.7h12.2M906.4 201.7h44.1M953 201.7h26.9M984.8 201.7h4.9M872.1 204.2h2.5M879.5 204.2h2.5M886.8 204.2h2.5M894.2 204.2h9.8M906.4 204.2h78.4M867.2 206.6h4.9M877 206.6h2.5M881.9 206.6h7.4M891.7 206.6h2.5M899.1 206.6h31.9M933.4 206.6h53.9M842.7 209.1h2.5M864.8 209.1h2.5M889.3 209.1h2.5M894.2 209.1h4.9M901.5 209.1h2.5M906.4 209.1h31.9M940.7 209.1h41.7M984.8 209.1h4.9M992.2 209.1h2.5M864.8 211.5h2.5M869.7 211.5h2.5M874.6 211.5h2.5M879.5 211.5h4.9M886.8 211.5h7.4M901.5 211.5h83.3M847.6 214h2.5M852.5 214h2.5M867.2 214h2.5M872.1 214h2.5M879.5 214h4.9M889.3 214h2.5M904 214h88.2M867.2 216.4h2.5M872.1 216.4h2.5M877 216.4h2.5M891.7 216.4h2.5M896.6 216.4h2.5M901.5 216.4h4.9M908.9 216.4h53.9M965.2 216.4h12.2M979.9 216.4h9.8M855 218.9h2.5M859.9 218.9h2.5M877 218.9h7.4M886.8 218.9h7.4M896.6 218.9h4.9M904 218.9h85.8M852.5 221.3h7.4M862.3 221.3h4.9M869.7 221.3h2.5M874.6 221.3h2.5M881.9 221.3h2.5M889.3 221.3h4.9M896.6 221.3h7.4M906.4 221.3h83.3M850.1 223.8h2.5M864.8 223.8h2.5M891.7 223.8h2.5M896.6 223.8h66.2M965.2 223.8h7.4M975 223.8h4.9M982.4 223.8h9.8M837.8 226.2h2.5M847.6 226.2h2.5M857.4 226.2h2.5M864.8 226.2h2.5M869.7 226.2h2.5M879.5 226.2h9.8M896.6 226.2h93.1M850.1 228.7h4.9M857.4 228.7h2.5M862.3 228.7h4.9M869.7 228.7h2.5M874.6 228.7h2.5M884.4 228.7h4.9M899.1 228.7h2.5M904 228.7h83.3M832.9 231.1h2.5M855 231.1h2.5M869.7 231.1h2.5M877 231.1h2.5M884.4 231.1h4.9M891.7 231.1h4.9M899.1 231.1h90.7M855 233.6h2.5M864.8 233.6h4.9M884.4 233.6h2.5M889.3 233.6h12.2M904 233.6h51.5M957.9 233.6h26.9M987.3 233.6h2.5M847.6 236h2.5M862.3 236h2.5M869.7 236h2.5M874.6 236h2.5M884.4 236h17.2M906.4 236h78.4M855 238.5h2.5M869.7 238.5h2.5M881.9 238.5h2.5M889.3 238.5h2.5M894.2 238.5h4.9M901.5 238.5h2.5M906.4 238.5h76M984.8 238.5h2.5M989.7 238.5h2.5M857.4 240.9h2.5M872.1 240.9h4.9M879.5 240.9h4.9M886.8 240.9h12.2M901.5 240.9h41.7M945.6 240.9h36.8M984.8 240.9h4.9M823.1 243.4h2.5M855 243.4h2.5M859.9 243.4h2.5M869.7 243.4h2.5M874.6 243.4h2.5M879.5 243.4h9.8M891.7 243.4h7.4M901.5 243.4h2.5M906.4 243.4h46.6M955.4 243.4h31.9M845.2 245.8h2.5M867.2 245.8h17.2M886.8 245.8h2.5M891.7 245.8h2.5M899.1 245.8h24.5M926 245.8h44.1M972.6 245.8h2.5M977.5 245.8h4.9M984.8 245.8h2.5M847.6 248.2h2.5M855 248.2h4.9M869.7 248.2h4.9M879.5 248.2h2.5M884.4 248.2h7.4M894.2 248.2h68.6M967.7 248.2h14.7M847.6 250.7h2.5M869.7 250.7h2.5M874.6 250.7h2.5M879.5 250.7h7.4M891.7 250.7h7.4M901.5 250.7h4.9M908.9 250.7h61.3M975 250.7h9.8M852.5 253.2h4.9M864.8 253.2h4.9M872.1 253.2h7.4M881.9 253.2h4.9M889.3 253.2h4.9M896.6 253.2h2.5M901.5 253.2h4.9M908.9 253.2h34.3M945.6 253.2h36.8M989.7 253.2h2.5M994.6 253.2h2.5M828 255.6h2.5M850.1 255.6h4.9M869.7 255.6h4.9M881.9 255.6h2.5M889.3 255.6h4.9M899.1 255.6h2.5M904 255.6h2.5M908.9 255.6h73.5M830.5 258.1h2.5M869.7 258.1h2.5M881.9 258.1h9.8M896.6 258.1h9.8M908.9 258.1h49M960.3 258.1h19.6M832.9 260.5h2.5M864.8 260.5h4.9M881.9 260.5h2.5M889.3 260.5h2.5M896.6 260.5h53.9M955.4 260.5h7.4M965.2 260.5h2.5M970.1 260.5h12.2M999.5 260.5h2.5M840.3 263h2.5M845.2 263h2.5M862.3 263h2.5M869.7 263h2.5M874.6 263h2.5M881.9 263h2.5M891.7 263h2.5M899.1 263h2.5M906.4 263h2.5M911.3 263h44.1M957.9 263h4.9M965.2 263h4.9M972.6 263h4.9M979.9 263h2.5M984.8 263h2.5M850.1 265.4h2.5M857.4 265.4h2.5M862.3 265.4h2.5M879.5 265.4h2.5M886.8 265.4h7.4M899.1 265.4h4.9M906.4 265.4h58.8M967.7 265.4h4.9M975 265.4h2.5M859.9 267.9h4.9M869.7 267.9h2.5M874.6 267.9h4.9M884.4 267.9h4.9M891.7 267.9h4.9M899.1 267.9h2.5M906.4 267.9h46.6M960.3 267.9h2.5M967.7 267.9h9.8M845.2 270.3h2.5M850.1 270.3h2.5M859.9 270.3h4.9M874.6 270.3h2.5M881.9 270.3h14.7M899.1 270.3h7.4M908.9 270.3h49M960.3 270.3h17.2M837.8 272.8h2.5M859.9 272.8h2.5M869.7 272.8h2.5M874.6 272.8h2.5M881.9 272.8h2.5M889.3 272.8h7.4M899.1 272.8h2.5M904 272.8h63.7M972.6 272.8h2.5M859.9 275.2h2.5M864.8 275.2h2.5M874.6 275.2h2.5M881.9 275.2h12.2M896.6 275.2h2.5M901.5 275.2h2.5M913.8 275.2h4.9M921.1 275.2h2.5M926 275.2h7.4M938.3 275.2h9.8M950.5 275.2h22.1M855 277.6h2.5M859.9 277.6h2.5M867.2 277.6h2.5M872.1 277.6h4.9M881.9 277.6h7.4M891.7 277.6h22.1M916.2 277.6h24.5M943.2 277.6h12.2M957.9 277.6h2.5M962.8 277.6h2.5M967.7 277.6h2.5M837.8 280.1h2.5M852.5 280.1h2.5M874.6 280.1h2.5M884.4 280.1h12.2M899.1 280.1h9.8M911.3 280.1h2.5M916.2 280.1h41.7M962.8 280.1h2.5M967.7 280.1h2.5M867.2 282.6h4.9M874.6 282.6h7.4M884.4 282.6h2.5M894.2 282.6h2.5M899.1 282.6h2.5M906.4 282.6h4.9M913.8 282.6h2.5M918.7 282.6h12.2M933.4 282.6h4.9M940.7 282.6h17.2M965.2 282.6h2.5M972.6 282.6h4.9M886.8 285h2.5M891.7 285h2.5M896.6 285h2.5M911.3 285h2.5M918.7 285h14.7M935.8 285h22.1M962.8 285h7.4M874.6 287.5h4.9M886.8 287.5h2.5M894.2 287.5h4.9M901.5 287.5h2.5M908.9 287.5h2.5M913.8 287.5h7.4M928.5 287.5h7.4M938.3 287.5h2.5M943.2 287.5h2.5M950.5 287.5h2.5M955.4 287.5h4.9M962.8 287.5h4.9M970.1 287.5h2.5M855 289.9h2.5M884.4 289.9h4.9M891.7 289.9h4.9M904 289.9h7.4M921.1 289.9h17.2M940.7 289.9h4.9M948.1 289.9h12.2M967.7 289.9h2.5M835.4 292.4h2.5M850.1 292.4h2.5M864.8 292.4h2.5M869.7 292.4h2.5M886.8 292.4h4.9M899.1 292.4h2.5M913.8 292.4h7.4M923.6 292.4h4.9M930.9 292.4h4.9M940.7 292.4h4.9M950.5 292.4h2.5M960.3 292.4h2.5M850.1 294.8h2.5M879.5 294.8h2.5M884.4 294.8h2.5M894.2 294.8h9.8M911.3 294.8h7.4M926 294.8h17.2M945.6 294.8h19.6M884.4 297.2h2.5M894.2 297.2h2.5M899.1 297.2h4.9M916.2 297.2h2.5M926 297.2h2.5M930.9 297.2h12.2M950.5 297.2h4.9M857.4 299.7h2.5M869.7 299.7h4.9M877 299.7h2.5M886.8 299.7h2.5M901.5 299.7h4.9M926 299.7h17.2M945.6 299.7h2.5M950.5 299.7h4.9M957.9 299.7h2.5M965.2 299.7h2.5M872.1 302.1h2.5M877 302.1h2.5M881.9 302.1h2.5M886.8 302.1h2.5M891.7 302.1h2.5M901.5 302.1h2.5M906.4 302.1h7.4M916.2 302.1h2.5M923.6 302.1h14.7M940.7 302.1h12.2M955.4 302.1h2.5M962.8 302.1h2.5M982.4 302.1h2.5M869.7 304.6h2.5M884.4 304.6h12.2M899.1 304.6h4.9M906.4 304.6h4.9M918.7 304.6h4.9M928.5 304.6h2.5M933.4 304.6h17.2M825.6 307.1h2.5M864.8 307.1h2.5M881.9 307.1h2.5M889.3 307.1h2.5M904 307.1h4.9M913.8 307.1h2.5M928.5 307.1h2.5M938.3 307.1h2.5M945.6 307.1h2.5M950.5 307.1h2.5M955.4 307.1h2.5M1009.3 307.1h2.5M867.2 309.5h2.5M884.4 309.5h2.5M894.2 309.5h4.9M908.9 309.5h2.5M916.2 309.5h4.9M923.6 309.5h2.5M933.4 309.5h2.5M938.3 309.5h2.5M943.2 309.5h2.5M960.3 309.5h2.5M965.2 309.5h2.5M977.5 309.5h2.5M864.8 312h2.5M874.6 312h2.5M881.9 312h2.5M886.8 312h7.4M904 312h2.5M908.9 312h4.9M918.7 312h4.9M938.3 312h2.5M943.2 312h2.5M948.1 312h2.5M957.9 312h4.9M967.7 312h2.5M881.9 314.4h2.5M886.8 314.4h2.5M891.7 314.4h2.5M899.1 314.4h2.5M904 314.4h4.9M923.6 314.4h4.9M933.4 314.4h2.5M943.2 314.4h4.9M953 314.4h4.9M984.8 314.4h2.5M874.6 316.9h2.5M896.6 316.9h2.5M908.9 316.9h2.5M913.8 316.9h2.5M926 316.9h2.5M930.9 316.9h2.5M943.2 316.9h2.5M965.2 316.9h2.5M982.4 316.9h2.5M855 319.3h2.5M859.9 319.3h4.9M874.6 319.3h2.5M906.4 319.3h2.5M923.6 319.3h4.9M935.8 319.3h4.9M948.1 319.3h2.5M955.4 319.3h2.5M967.7 319.3h2.5M1004.4 319.3h2.5M835.4 321.8h2.5M874.6 321.8h2.5M894.2 321.8h7.4M906.4 321.8h2.5M916.2 321.8h2.5M921.1 321.8h12.2M935.8 321.8h2.5M950.5 321.8h2.5M970.1 321.8h2.5M989.7 321.8h4.9M881.9 324.2h2.5M896.6 324.2h2.5M906.4 324.2h4.9M933.4 324.2h2.5M938.3 324.2h2.5M945.6 324.2h2.5M965.2 324.2h4.9M975 324.2h4.9M992.2 324.2h2.5M877 326.7h2.5M886.8 326.7h2.5M901.5 326.7h2.5M911.3 326.7h2.5M928.5 326.7h2.5M935.8 326.7h2.5M940.7 326.7h2.5M967.7 326.7h7.4M984.8 326.7h2.5M857.4 329.1h2.5M869.7 329.1h2.5M891.7 329.1h2.5M896.6 329.1h4.9M908.9 329.1h4.9M921.1 329.1h4.9M928.5 329.1h2.5M940.7 329.1h2.5M955.4 329.1h2.5M908.9 331.6h2.5M921.1 331.6h2.5M933.4 331.6h2.5M948.1 331.6h2.5M955.4 331.6h2.5M979.9 331.6h2.5M891.7 334h4.9M899.1 334h2.5M906.4 334h4.9M916.2 334h2.5M921.1 334h2.5M930.9 334h2.5M950.5 334h2.5M913.8 336.5h2.5M926 336.5h2.5M933.4 336.5h2.5M984.8 336.5h2.5M921.1 338.9h2.5M928.5 338.9h9.8M940.7 338.9h4.9M965.2 338.9h2.5M977.5 338.9h2.5M911.3 341.4h2.5M918.7 341.4h2.5M930.9 341.4h2.5M953 341.4h2.5M972.6 341.4h4.9M984.8 341.4h2.5M989.7 341.4h2.5M913.8 343.8h7.4M926 343.8h2.5M935.8 343.8h4.9M955.4 343.8h4.9M979.9 343.8h2.5M992.2 343.8h2.5M901.5 346.2h7.4M921.1 346.2h2.5M928.5 346.2h2.5M933.4 346.2h2.5M940.7 346.2h4.9M972.6 346.2h2.5M989.7 346.2h4.9M886.8 348.7h2.5M901.5 348.7h2.5M908.9 348.7h2.5M916.2 348.7h2.5M923.6 348.7h2.5M945.6 348.7h2.5M889.3 351.2h2.5M904 351.2h2.5M916.2 351.2h4.9M928.5 351.2h2.5M940.7 351.2h2.5M945.6 351.2h2.5M965.2 351.2h2.5M881.9 353.6h2.5M908.9 353.6h2.5M918.7 353.6h2.5M926 353.6h4.9M970.1 353.6h2.5M982.4 353.6h2.5M889.3 356.1h2.5M894.2 356.1h2.5M901.5 356.1h2.5M916.2 356.1h2.5M928.5 356.1h2.5M953 356.1h2.5M975 356.1h2.5M984.8 356.1h2.5M904 358.5h2.5M908.9 358.5h2.5M918.7 358.5h2.5M926 358.5h4.9M935.8 358.5h4.9M967.7 358.5h2.5M884.4 361h2.5M911.3 361h2.5M928.5 361h4.9M938.3 361h2.5M955.4 361h2.5M975 361h4.9M984.8 361h2.5M1006.9 361h2.5M908.9 363.4h2.5M916.2 363.4h2.5M926 363.4h2.5M930.9 363.4h2.5M935.8 363.4h2.5M940.7 363.4h2.5M945.6 363.4h2.5M896.6 365.9h4.9M904 365.9h2.5M911.3 365.9h2.5M923.6 365.9h2.5M928.5 365.9h2.5M935.8 365.9h2.5M940.7 365.9h2.5M962.8 365.9h2.5M972.6 365.9h2.5M884.4 368.3h2.5M904 368.3h2.5M913.8 368.3h4.9M930.9 368.3h2.5M938.3 368.3h2.5M945.6 368.3h2.5M957.9 368.3h2.5M972.6 368.3h2.5M977.5 368.3h2.5M984.8 368.3h2.5M879.5 370.8h2.5M899.1 370.8h2.5M913.8 370.8h2.5M923.6 370.8h2.5M930.9 370.8h2.5M962.8 370.8h2.5M977.5 370.8h4.9M989.7 370.8h2.5M901.5 373.2h2.5M906.4 373.2h2.5M918.7 373.2h2.5M926 373.2h4.9M950.5 373.2h2.5M957.9 373.2h2.5M977.5 373.2h2.5M987.3 373.2h2.5M913.8 375.7h2.5M930.9 375.7h2.5M935.8 375.7h2.5M940.7 375.7h2.5M967.7 375.7h2.5M975 375.7h2.5M913.8 378.1h4.9M928.5 378.1h4.9M935.8 378.1h2.5M960.3 378.1h2.5M977.5 378.1h2.5M906.4 380.6h7.4M916.2 380.6h4.9M935.8 380.6h2.5M965.2 380.6h4.9M1009.3 380.6h2.5M928.5 383h4.9M940.7 383h2.5M945.6 383h2.5M957.9 383h2.5M975 383h2.5M855 385.5h2.5M908.9 385.5h4.9M916.2 385.5h7.4M928.5 385.5h14.7M950.5 385.5h2.5M997.1 385.5h2.5M908.9 387.9h2.5M930.9 387.9h4.9M940.7 387.9h2.5M948.1 387.9h2.5M911.3 390.4h2.5M916.2 390.4h2.5M921.1 390.4h7.4M930.9 390.4h2.5M935.8 390.4h2.5M948.1 390.4h2.5M965.2 390.4h2.5M977.5 390.4h2.5M901.5 392.8h2.5M916.2 392.8h4.9M926 392.8h2.5M935.8 392.8h4.9M945.6 392.8h4.9M965.2 392.8h2.5M979.9 392.8h2.5M987.3 392.8h2.5M1002 392.8h2.5M906.4 395.2h4.9M918.7 395.2h2.5M926 395.2h2.5M933.4 395.2h2.5M984.8 395.2h2.5M918.7 397.7h2.5M930.9 397.7h2.5M940.7 397.7h2.5M948.1 397.7h2.5M953 397.7h2.5M957.9 397.7h2.5M962.8 397.7h2.5M967.7 397.7h4.9M979.9 397.7h2.5M911.3 400.2h2.5M918.7 400.2h2.5M923.6 400.2h2.5M935.8 400.2h2.5M943.2 400.2h2.5M970.1 400.2h2.5M975 400.2h2.5M901.5 402.6h2.5M908.9 402.6h2.5M921.1 402.6h2.5M935.8 402.6h2.5M950.5 402.6h9.8M965.2 402.6h2.5M923.6 405.1h4.9M930.9 405.1h2.5M940.7 405.1h2.5M982.4 405.1h2.5M908.9 407.5h7.4M933.4 407.5h7.4M967.7 407.5h2.5M987.3 407.5h2.5M901.5 410h2.5M918.7 410h2.5M930.9 410h2.5M943.2 410h9.8M955.4 410h4.9M962.8 410h2.5M945.6 412.4h2.5M918.7 414.9h2.5M945.6 414.9h2.5M953 414.9h4.9M967.7 414.9h2.5M984.8 414.9h4.9M901.5 417.3h2.5M923.6 417.3h2.5M930.9 417.3h2.5M940.7 417.3h2.5M945.6 417.3h2.5M960.3 417.3h2.5M1006.9 417.3h2.5M906.4 419.8h2.5M918.7 419.8h2.5M923.6 419.8h2.5M928.5 419.8h2.5M935.8 419.8h7.4M945.6 419.8h4.9M955.4 419.8h2.5M960.3 419.8h2.5M965.2 419.8h7.4M975 419.8h4.9M984.8 419.8h2.5" stroke="#ff00ff" stroke-width="2.5" fill="none"/>
<path d="M757 128.2h2.5M747.2 135.6h2.5M774.1 135.6h2.5M761.9 140.4h2.5M747.2 142.9h2.5M761.9 142.9h2.5M806 142.9h2.5M825.6 142.9h2.5M739.8 145.4h2.5M749.6 145.4h2.5M754.5 145.4h2.5M774.1 145.4h2.5M793.7 145.4h2.5M742.3 147.8h7.4M761.9 147.8h2.5M766.8 147.8h2.5M779 147.8h2.5M783.9 147.8h7.4M793.7 147.8h2.5M803.5 147.8h2.5M830.5 147.8h2.5M747.2 150.2h9.8M759.4 150.2h2.5M764.3 150.2h7.4M774.1 150.2h4.9M786.4 150.2h2.5M793.7 150.2h7.4M803.5 150.2h2.5M749.6 152.7h36.8M788.8 152.7h14.7M808.4 152.7h2.5M737.4 155.2h2.5M742.3 155.2h24.5M769.2 155.2h36.8M808.4 155.2h2.5M730 157.6h2.5M737.4 157.6h61.3M801.1 157.6h2.5M806 157.6h4.9M815.8 157.6h2.5M732.5 160.1h2.5M739.8 160.1h44.1M786.4 160.1h22.1M810.9 160.1h2.5M864.8 160.1h2.5M730 162.5h2.5M737.4 162.5h76M864.8 162.5h2.5M734.9 164.9h2.5M739.8 164.9h68.6M725.1 167.4h2.5M732.5 167.4h78.4M732.5 169.9h2.5M737.4 169.9h73.5M722.7 172.3h2.5M732.5 172.3h85.8M730 174.8h2.5M734.9 174.8h76M815.8 174.8h2.5M725.1 177.2h2.5M730 177.2h2.5M737.4 177.2h71.1M739.8 179.7h68.6M739.8 182.1h2.5M744.7 182.1h56.4M803.5 182.1h2.5M813.3 182.1h2.5M818.2 182.1h2.5M742.3 184.6h4.9M749.6 184.6h2.5M754.5 184.6h4.9M761.9 184.6h4.9M779 184.6h9.8M791.3 184.6h4.9M801.1 184.6h2.5M820.7 184.6h2.5M830.5 184.6h2.5M742.3 187h2.5M752.1 187h2.5M757 187h2.5M781.5 187h2.5M786.4 187h2.5M793.7 187h2.5M801.1 187h2.5M806 187h2.5M732.5 189.4h4.9M752.1 189.4h2.5M769.2 189.4h4.9M801.1 189.4h2.5M818.2 189.4h2.5M852.5 189.4h2.5M730 191.9h2.5M771.7 191.9h2.5M791.3 191.9h2.5M744.7 196.8h2.5M776.6 199.2h2.5M796.2 199.2h2.5M759.4 201.7h2.5M764.3 201.7h2.5M796.2 201.7h2.5M813.3 201.7h2.5M806 206.6h2.5M791.3 209.1h2.5M769.2 211.5h2.5M823.1 211.5h2.5M840.3 211.5h2.5M752.1 214h2.5M796.2 216.4h2.5M855 216.4h2.5M749.6 218.9h2.5M744.7 221.3h2.5M754.5 221.3h2.5M788.8 221.3h2.5M825.6 223.8h2.5M962.8 223.8h2.5M761.9 226.2h2.5M739.8 228.7h2.5M955.4 233.6h2.5M810.9 236h2.5M830.5 236h2.5M813.3 238.5h2.5M850.1 240.9h2.5M847.6 243.4h2.5M953 243.4h2.5M744.7 245.8h2.5M779 245.8h2.5M806 245.8h2.5M970.1 245.8h2.5M975 245.8h2.5M962.8 248.2h4.9M994.6 248.2h2.5M744.7 250.7h2.5M970.1 250.7h4.9M749.6 253.2h2.5M943.2 253.2h2.5M769.2 255.6h2.5M857.4 258.1h2.5M957.9 258.1h2.5M837.8 260.5h2.5M847.6 260.5h2.5M950.5 260.5h4.9M967.7 260.5h2.5M955.4 263h2.5M962.8 263h2.5M970.1 263h2.5M977.5 263h2.5M754.5 265.4h2.5M823.1 265.4h2.5M840.3 265.4h2.5M852.5 265.4h2.5M965.2 265.4h2.5M953 267.9h7.4M962.8 267.9h4.9M992.2 267.9h2.5M752.1 270.3h2.5M957.9 270.3h2.5M744.7 272.8h2.5M803.5 272.8h2.5M967.7 272.8h2.5M781.5 275.2h2.5M852.5 275.2h2.5M918.7 275.2h2.5M933.4 275.2h2.5M948.1 275.2h2.5M975 275.2h4.9M940.7 277.6h2.5M955.4 277.6h2.5M960.3 277.6h2.5M965.2 277.6h2.5M979.9 277.6h2.5M957.9 280.1h4.9M965.2 280.1h2.5M975 280.1h2.5M766.8 282.6h2.5M774.1 282.6h2.5M825.6 282.6h2.5M930.9 282.6h2.5M938.3 282.6h2.5M957.9 282.6h7.4M967.7 282.6h2.5M908.9 285h2.5M933.4 285h2.5M957.9 285h4.9M972.6 285h4.9M742.3 287.5h2.5M857.4 287.5h2.5M923.6 287.5h4.9M935.8 287.5h2.5M940.7 287.5h2.5M945.6 287.5h4.9M953 287.5h2.5M960.3 287.5h2.5M967.7 287.5h2.5M975 287.5h2.5M798.6 289.9h2.5M938.3 289.9h2.5M945.6 289.9h2.5M960.3 289.9h2.5M970.1 289.9h7.4M979.9 289.9h2.5M989.7 289.9h2.5M803.5 292.4h2.5M818.2 292.4h2.5M928.5 292.4h2.5M935.8 292.4h4.9M945.6 292.4h4.9M953 292.4h7.4M965.2 292.4h2.5M1004.4 292.4h2.5M943.2 294.8h2.5M965.2 294.8h2.5M972.6 294.8h2.5M852.5 297.2h2.5M918.7 297.2h2.5M923.6 297.2h2.5M928.5 297.2h2.5M943.2 297.2h7.4M955.4 297.2h2.5M965.2 297.2h4.9M977.5 297.2h2.5M842.7 299.7h2.5M918.7 299.7h4.9M943.2 299.7h2.5M948.1 299.7h2.5M955.4 299.7h2.5M960.3 299.7h2.5M967.7 299.7h2.5M975 299.7h2.5M979.9 299.7h2.5M999.5 299.7h2.5M754.5 302.1h2.5M761.9 302.1h2.5M769.2 302.1h2.5M938.3 302.1h2.5M953 302.1h2.5M957.9 302.1h4.9M965.2 302.1h2.5M972.6 302.1h2.5M977.5 302.1h2.5M764.3 304.6h7.4M930.9 304.6h2.5M950.5 304.6h14.7M967.7 304.6h2.5M972.6 304.6h2.5M982.4 304.6h2.5M989.7 304.6h2.5M828 307.1h2.5M879.5 307.1h2.5M908.9 307.1h2.5M923.6 307.1h2.5M930.9 307.1h4.9M940.7 307.1h2.5M948.1 307.1h2.5M953 307.1h2.5M960.3 307.1h4.9M791.3 309.5h2.5M911.3 309.5h2.5M926 309.5h4.9M940.7 309.5h2.5M950.5 309.5h9.8M962.8 309.5h2.5M967.7 309.5h4.9M975 309.5h2.5M979.9 309.5h2.5M987.3 309.5h2.5M705.5 312h2.5M771.7 312h2.5M796.2 312h2.5M815.8 312h2.5M930.9 312h2.5M940.7 312h2.5M945.6 312h2.5M953 312h2.5M962.8 312h4.9M975 312h2.5M979.9 312h7.4M992.2 312h2.5M710.4 314.4h2.5M749.6 314.4h2.5M761.9 314.4h2.5M774.1 314.4h4.9M786.4 314.4h4.9M828 314.4h2.5M864.8 314.4h2.5M874.6 314.4h2.5M928.5 314.4h4.9M935.8 314.4h7.4M948.1 314.4h4.9M957.9 314.4h7.4M972.6 314.4h4.9M982.4 314.4h2.5M847.6 316.9h2.5M906.4 316.9h2.5M933.4 316.9h4.9M940.7 316.9h2.5M950.5 316.9h7.4M962.8 316.9h2.5M970.1 316.9h2.5M975 316.9h2.5M757 319.3h2.5M766.8 319.3h2.5M845.2 319.3h2.5M913.8 319.3h2.5M930.9 319.3h4.9M943.2 319.3h4.9M950.5 319.3h4.9M957.9 319.3h7.4M972.6 319.3h4.9M982.4 319.3h2.5M1009.3 319.3h2.5M764.3 321.8h2.5M786.4 321.8h2.5M886.8 321.8h2.5M908.9 321.8h2.5M938.3 321.8h12.2M953 321.8h2.5M957.9 321.8h4.9M965.2 321.8h4.9M972.6 321.8h7.4M982.4 321.8h2.5M742.3 324.2h2.5M761.9 324.2h4.9M779 324.2h4.9M791.3 324.2h2.5M884.4 324.2h2.5M911.3 324.2h2.5M921.1 324.2h2.5M926 324.2h4.9M935.8 324.2h2.5M940.7 324.2h4.9M948.1 324.2h17.2M970.1 324.2h4.9M982.4 324.2h2.5M987.3 324.2h2.5M752.1 326.7h2.5M779 326.7h2.5M783.9 326.7h2.5M847.6 326.7h2.5M862.3 326.7h2.5M869.7 326.7h2.5M906.4 326.7h4.9M918.7 326.7h7.4M930.9 326.7h4.9M943.2 326.7h9.8M955.4 326.7h4.9M965.2 326.7h2.5M975 326.7h7.4M720.2 329.1h2.5M739.8 329.1h2.5M769.2 329.1h2.5M781.5 329.1h2.5M815.8 329.1h2.5M837.8 329.1h2.5M845.2 329.1h2.5M913.8 329.1h2.5M918.7 329.1h2.5M926 329.1h2.5M935.8 329.1h2.5M943.2 329.1h12.2M957.9 329.1h12.2M979.9 329.1h2.5M987.3 329.1h2.5M992.2 329.1h4.9M1011.8 329.1h2.5M732.5 331.6h2.5M737.4 331.6h2.5M752.1 331.6h2.5M761.9 331.6h2.5M832.9 331.6h2.5M850.1 331.6h2.5M923.6 331.6h7.4M935.8 331.6h2.5M940.7 331.6h7.4M950.5 331.6h4.9M957.9 331.6h2.5M962.8 331.6h14.7M989.7 331.6h2.5M739.8 334h2.5M747.2 334h2.5M759.4 334h4.9M769.2 334h4.9M781.5 334h2.5M788.8 334h4.9M926 334h4.9M938.3 334h7.4M948.1 334h2.5M953 334h9.8M965.2 334h17.2M747.2 336.5h2.5M798.6 336.5h2.5M830.5 336.5h2.5M935.8 336.5h36.8M975 336.5h7.4M989.7 336.5h2.5M997.1 336.5h2.5M747.2 338.9h2.5M752.1 338.9h2.5M761.9 338.9h2.5M776.6 338.9h7.4M845.2 338.9h2.5M867.2 338.9h2.5M916.2 338.9h2.5M938.3 338.9h2.5M945.6 338.9h19.6M967.7 338.9h2.5M979.9 338.9h2.5M749.6 341.4h4.9M759.4 341.4h2.5M764.3 341.4h2.5M779 341.4h2.5M921.1 341.4h2.5M926 341.4h4.9M933.4 341.4h19.6M955.4 341.4h7.4M965.2 341.4h2.5M979.9 341.4h2.5M987.3 341.4h2.5M742.3 343.8h2.5M747.2 343.8h2.5M757 343.8h7.4M769.2 343.8h2.5M825.6 343.8h2.5M896.6 343.8h2.5M923.6 343.8h2.5M930.9 343.8h2.5M943.2 343.8h4.9M950.5 343.8h4.9M960.3 343.8h12.2M975 343.8h2.5M982.4 343.8h2.5M764.3 346.2h4.9M771.7 346.2h4.9M779 346.2h2.5M783.9 346.2h2.5M793.7 346.2h2.5M815.8 346.2h2.5M891.7 346.2h2.5M896.6 346.2h2.5M916.2 346.2h4.9M926 346.2h2.5M930.9 346.2h2.5M935.8 346.2h4.9M945.6 346.2h14.7M962.8 346.2h2.5M967.7 346.2h4.9M975 346.2h2.5M979.9 346.2h4.9M997.1 346.2h2.5M749.6 348.7h2.5M764.3 348.7h2.5M921.1 348.7h2.5M938.3 348.7h7.4M948.1 348.7h14.7M965.2 348.7h7.4M732.5 351.2h2.5M742.3 351.2h4.9M764.3 351.2h2.5M771.7 351.2h4.9M786.4 351.2h2.5M793.7 351.2h2.5M869.7 351.2h2.5M913.8 351.2h2.5M923.6 351.2h2.5M930.9 351.2h4.9M943.2 351.2h2.5M948.1 351.2h17.2M967.7 351.2h7.4M977.5 351.2h2.5M982.4 351.2h2.5M994.6 351.2h2.5M1006.9 351.2h2.5M761.9 353.6h2.5M766.8 353.6h4.9M781.5 353.6h2.5M837.8 353.6h2.5M923.6 353.6h2.5M933.4 353.6h17.2M953 353.6h17.2M972.6 353.6h2.5M977.5 353.6h4.9M757 356.1h2.5M764.3 356.1h2.5M771.7 356.1h2.5M779 356.1h7.4M788.8 356.1h2.5M842.7 356.1h2.5M911.3 356.1h4.9M930.9 356.1h2.5M938.3 356.1h4.9M945.6 356.1h7.4M955.4 356.1h17.2M977.5 356.1h2.5M987.3 356.1h2.5M725.1 358.5h2.5M749.6 358.5h2.5M759.4 358.5h4.9M766.8 358.5h4.9M798.6 358.5h2.5M850.1 358.5h2.5M916.2 358.5h2.5M930.9 358.5h4.9M940.7 358.5h22.1M965.2 358.5h2.5M972.6 358.5h2.5M977.5 358.5h2.5M752.1 361h2.5M781.5 361h2.5M837.8 361h2.5M855 361h2.5M913.8 361h2.5M918.7 361h4.9M940.7 361h2.5M945.6 361h9.8M957.9 361h17.2M994.6 361h2.5M754.5 363.4h2.5M759.4 363.4h2.5M764.3 363.4h2.5M771.7 363.4h2.5M781.5 363.4h4.9M796.2 363.4h2.5M845.2 363.4h2.5M874.6 363.4h2.5M923.6 363.4h2.5M933.4 363.4h2.5M943.2 363.4h2.5M948.1 363.4h4.9M955.4 363.4h9.8M967.7 363.4h9.8M747.2 365.9h2.5M761.9 365.9h2.5M769.2 365.9h4.9M779 365.9h2.5M791.3 365.9h2.5M801.1 365.9h2.5M918.7 365.9h2.5M926 365.9h2.5M930.9 365.9h2.5M938.3 365.9h2.5M943.2 365.9h19.6M965.2 365.9h7.4M975 365.9h2.5M982.4 365.9h2.5M989.7 365.9h2.5M749.6 368.3h2.5M761.9 368.3h4.9M801.1 368.3h2.5M923.6 368.3h2.5M928.5 368.3h2.5M933.4 368.3h4.9M940.7 368.3h4.9M948.1 368.3h9.8M960.3 368.3h9.8M982.4 368.3h2.5M732.5 370.8h2.5M737.4 370.8h2.5M761.9 370.8h2.5M766.8 370.8h2.5M781.5 370.8h2.5M823.1 370.8h2.5M859.9 370.8h2.5M891.7 370.8h2.5M904 370.8h2.5M911.3 370.8h2.5M921.1 370.8h2.5M926 370.8h2.5M940.7 370.8h22.1M965.2 370.8h7.4M982.4 370.8h2.5M754.5 373.2h2.5M776.6 373.2h2.5M783.9 373.2h2.5M801.1 373.2h2.5M830.5 373.2h2.5M847.6 373.2h2.5M872.1 373.2h2.5M886.8 373.2h2.5M933.4 373.2h2.5M938.3 373.2h4.9M945.6 373.2h4.9M953 373.2h4.9M960.3 373.2h17.2M979.9 373.2h2.5M992.2 373.2h4.9M759.4 375.7h2.5M847.6 375.7h2.5M916.2 375.7h2.5M928.5 375.7h2.5M933.4 375.7h2.5M938.3 375.7h2.5M943.2 375.7h4.9M950.5 375.7h12.2M965.2 375.7h2.5M970.1 375.7h4.9M987.3 375.7h2.5M1014.2 375.7h2.5M747.2 378.1h4.9M771.7 378.1h4.9M832.9 378.1h2.5M923.6 378.1h2.5M938.3 378.1h7.4M950.5 378.1h2.5M955.4 378.1h4.9M965.2 378.1h2.5M970.1 378.1h2.5M975 378.1h2.5M989.7 378.1h4.9M708 380.6h2.5M742.3 380.6h2.5M781.5 380.6h2.5M845.2 380.6h2.5M869.7 380.6h2.5M913.8 380.6h2.5M938.3 380.6h26.9M970.1 380.6h2.5M982.4 380.6h2.5M989.7 380.6h4.9M752.1 383h4.9M764.3 383h2.5M769.2 383h2.5M779 383h2.5M803.5 383h2.5M918.7 383h4.9M933.4 383h7.4M943.2 383h2.5M948.1 383h2.5M953 383h4.9M960.3 383h4.9M970.1 383h4.9M727.6 385.5h2.5M757 385.5h2.5M766.8 385.5h7.4M904 385.5h2.5M943.2 385.5h7.4M953 385.5h2.5M957.9 385.5h7.4M970.1 385.5h2.5M722.7 387.9h2.5M747.2 387.9h2.5M752.1 387.9h2.5M757 387.9h4.9M766.8 387.9h2.5M796.2 387.9h2.5M832.9 387.9h2.5M842.7 387.9h2.5M859.9 387.9h2.5M916.2 387.9h2.5M938.3 387.9h2.5M943.2 387.9h4.9M953 387.9h2.5M957.9 387.9h9.8M970.1 387.9h2.5M975 387.9h4.9M747.2 390.4h2.5M759.4 390.4h2.5M766.8 390.4h2.5M781.5 390.4h2.5M786.4 390.4h2.5M801.1 390.4h2.5M862.3 390.4h2.5M867.2 390.4h2.5M896.6 390.4h2.5M918.7 390.4h2.5M928.5 390.4h2.5M940.7 390.4h2.5M945.6 390.4h2.5M950.5 390.4h9.8M967.7 390.4h2.5M972.6 390.4h2.5M754.5 392.8h2.5M759.4 392.8h2.5M764.3 392.8h2.5M769.2 392.8h2.5M823.1 392.8h2.5M855 392.8h2.5M950.5 392.8h4.9M957.9 392.8h4.9M967.7 392.8h4.9M977.5 392.8h2.5M997.1 392.8h2.5M761.9 395.2h2.5M779 395.2h2.5M786.4 395.2h2.5M793.7 395.2h2.5M852.5 395.2h2.5M913.8 395.2h2.5M923.6 395.2h2.5M928.5 395.2h2.5M940.7 395.2h4.9M948.1 395.2h9.8M967.7 395.2h2.5M771.7 397.7h2.5M830.5 397.7h2.5M840.3 397.7h2.5M852.5 397.7h2.5M906.4 397.7h2.5M960.3 397.7h2.5M972.6 397.7h2.5M769.2 400.2h2.5M832.9 400.2h2.5M881.9 400.2h4.9M901.5 400.2h2.5M908.9 400.2h2.5M930.9 400.2h2.5M938.3 400.2h2.5M948.1 400.2h4.9M955.4 400.2h4.9M965.2 400.2h2.5M972.6 400.2h2.5M977.5 400.2h2.5M987.3 400.2h2.5M992.2 400.2h2.5M776.6 402.6h4.9M786.4 402.6h2.5M825.6 402.6h2.5M840.3 402.6h2.5M847.6 402.6h2.5M864.8 402.6h2.5M884.4 402.6h2.5M928.5 402.6h4.9M940.7 402.6h2.5M945.6 402.6h4.9M960.3 402.6h2.5M970.1 402.6h2.5M769.2 405.1h2.5M774.1 405.1h2.5M830.5 405.1h2.5M850.1 405.1h2.5M879.5 405.1h2.5M938.3 405.1h2.5M948.1 405.1h4.9M955.4 405.1h2.5M960.3 405.1h2.5M972.6 405.1h2.5M757 407.5h2.5M840.3 407.5h2.5M881.9 407.5h2.5M916.2 407.5h2.5M960.3 407.5h2.5M965.2 407.5h2.5M972.6 407.5h2.5M994.6 407.5h2.5M764.3 410h2.5M786.4 410h2.5M847.6 410h2.5M933.4 410h9.8M970.1 410h2.5M752.1 412.4h2.5M872.1 412.4h2.5M928.5 412.4h2.5M935.8 412.4h4.9M948.1 412.4h2.5M953 412.4h2.5M957.9 412.4h2.5M962.8 412.4h4.9M761.9 414.9h2.5M835.4 414.9h2.5M906.4 414.9h2.5M940.7 414.9h2.5M948.1 414.9h2.5M757 417.3h2.5M832.9 417.3h4.9M864.8 417.3h2.5M886.8 417.3h2.5M948.1 417.3h2.5M953 417.3h2.5M965.2 417.3h2.5M970.1 417.3h2.5M977.5 417.3h2.5M749.6 419.8h2.5M764.3 419.8h4.9M774.1 419.8h4.9M786.4 419.8h4.9M793.7 419.8h2.5M830.5 419.8h2.5M877 419.8h2.5M881.9 419.8h2.5M916.2 419.8h2.5M933.4 419.8h2.5M950.5 419.8h4.9M957.9 419.8h2.5M962.8 419.8h2.5M1024 419.8h2.5" stroke="#0000ff" stroke-width="2.5" fill="none"/>
<path d="M678 96.2H688M678 177.4H688M678 265.6H688M682.5 152.96H688M682.5 138.66H688M682.5 128.51H688M682.5 120.64H688M682.5 114.21H688M682.5 108.78H688M682.5 104.07H688M682.5 99.92H688M682.5 239.05H688M682.5 223.52H688M682.5 212.5H688M682.5 203.95H688M682.5 196.97H688M682.5 191.06H688M682.5 185.95H688M682.5 181.44H688M682.5 325.29H688M682.5 310.25H688M682.5 299.58H688M682.5 291.31H688M682.5 284.55H688M682.5 278.83H688M682.5 273.88H688M682.5 269.51H688" stroke="#333" stroke-width="1.3" fill="none"/>
<path d="M678 351H688M682.5 353.26H688M682.5 355.51H688M682.5 357.77H688M682.5 360.02H688M682.5 362.28H688M682.5 364.53H688M682.5 366.79H688M678 369.04H688M678 371.3H688M678 373.56H688M678 375.81H688M682.5 378.07H688M682.5 380.32H688M682.5 382.58H688M682.5 384.83H688M682.5 387.09H688M682.5 389.34H688M678 391.6H688" stroke="#333" stroke-width="1.3" fill="none" opacity="0.85"/>
<path d="M722.6 431.3V441.3M765.6 431.3V441.3M847 431.3V441.3M933.2 431.3V441.3M1013.8 431.3V441.3M790.1 431.3V435.8M804.44 431.3V435.8M814.61 431.3V435.8M822.5 431.3V435.8M828.94 431.3V435.8M834.39 431.3V435.8M839.11 431.3V435.8M843.28 431.3V435.8M872.95 431.3V435.8M888.13 431.3V435.8M898.9 431.3V435.8M907.25 431.3V435.8M914.08 431.3V435.8M919.85 431.3V435.8M924.85 431.3V435.8M929.26 431.3V435.8M957.46 431.3V435.8M971.66 431.3V435.8M981.73 431.3V435.8M989.54 431.3V435.8M995.92 431.3V435.8M1001.31 431.3V435.8M1005.99 431.3V435.8M1010.11 431.3V435.8" stroke="#333" stroke-width="1.3" fill="none"/>
<path d="M724.75 431.3V434.8M726.9 431.3V434.8M729.05 431.3V434.8M731.2 431.3V434.8M733.35 431.3V434.8M735.5 431.3V434.8M737.65 431.3V434.8M739.8 431.3V434.8M741.95 431.3V441.3M744.1 431.3V441.3M746.25 431.3V441.3M748.4 431.3V434.8M750.55 431.3V434.8M752.7 431.3V434.8M754.85 431.3V434.8M757 431.3V434.8M759.15 431.3V434.8M761.3 431.3V434.8M763.45 431.3V434.8" stroke="#333" stroke-width="1.3" fill="none" opacity="0.85"/>
<line x1="690.4" y1="63" x2="1046.9" y2="63" stroke="#2a2a2a" stroke-width="1.7"/>
<line x1="1046.1" y1="63" x2="1046.1" y2="428.4" stroke="#2a2a2a" stroke-width="1.7"/>
<line x1="816.4" y1="63" x2="816.4" y2="428.4" stroke="#111" stroke-width="1.5"/>
<line x1="690.4" y1="305.7" x2="1046.1" y2="305.7" stroke="#111" stroke-width="1.5"/>
<path d="M690.4 62.5V428.4H1047.3" fill="none" stroke="#000" stroke-width="5.3" stroke-linecap="round" stroke-linejoin="round"/>
<rect x="688" y="65" width="4.8" height="365.3" fill="#000"/>
<rect x="689" y="425.5" width="357.1" height="5.8" fill="#000"/>
<text transform="translate(802.47 496.8) scale(0.8638 1)" font-size="28.5" fill="#262626" word-spacing="-3.5" stroke="#262626" stroke-width="0.3">CD8 FITC-A</text>
<text transform="translate(625.6 364.35) rotate(-90) scale(0.9637 1)" font-size="27" fill="#262626" word-spacing="-1" stroke="#262626" stroke-width="0.3">CD4 PerCP-Cy5-5-A</text>
<text transform="translate(703.27 471) scale(0.8771 1)" font-size="20" fill="#2c2530">-10</text>
<text x="731.8" y="463.8" font-size="17.8" fill="#2c2530">2</text>
<text transform="translate(751.26 471) scale(0.7950 1)" font-size="20" fill="#2c2530">10</text>
<text x="771.4" y="463.8" font-size="17.8" fill="#2c2530">2</text>
<text transform="translate(835.76 471) scale(0.7950 1)" font-size="20" fill="#2c2530">10</text>
<text x="855.9" y="463.8" font-size="17.8" fill="#2c2530">3</text>
<text transform="translate(920.16 471) scale(0.7950 1)" font-size="20" fill="#2c2530">10</text>
<text x="940.3" y="463.8" font-size="17.8" fill="#2c2530">4</text>
<text transform="translate(646.37 191.2) scale(0.7846 1)" font-size="19.5" fill="#2c2530">10</text>
<text transform="translate(664.33 183.5) scale(0.8324 1)" font-size="18.5" fill="#2c2530">4</text>
<text transform="translate(646.37 279.4) scale(0.7846 1)" font-size="19.5" fill="#2c2530">10</text>
<text transform="translate(664.09 271.7) scale(0.8800 1)" font-size="18.5" fill="#2c2530">3</text>
<text transform="translate(646.37 384) scale(0.7846 1)" font-size="19.5" fill="#2c2530">10</text>
<text transform="translate(663.31 376.3) scale(0.9625 1)" font-size="18.5" fill="#2c2530">1</text>
<text transform="translate(638.9 407) scale(0.8710 1)" font-size="19.5" fill="#2c2530">-10</text>
<text transform="translate(663.82 399.3) scale(0.9333 1)" font-size="18.5" fill="#2c2530">2</text>
<text transform="translate(589.63 93.6) scale(0.9605 1)" font-size="31.3" fill="#000" font-weight="bold">14.9%</text>
<text transform="translate(955.35 58.9) scale(0.9591 1)" font-size="31.3" fill="#000" font-weight="bold">70.2%</text>
<text transform="translate(589.95 459.6) scale(0.9617 1)" font-size="31.3" fill="#000" font-weight="bold">7.0%</text>
<text transform="translate(945.64 459.1) scale(0.9646 1)" font-size="31.3" fill="#000" font-weight="bold">7.9%</text>
<rect x="664.5" y="88.5" width="9" height="14.5" fill="#fff"/>
<text transform="translate(646.37 110) scale(0.7846 1)" font-size="19.5" fill="#2c2530">10</text>
<text transform="translate(664.09 102.3) scale(0.8800 1)" font-size="18.5" fill="#2c2530">5</text>
<rect x="1002.5" y="456" width="16.5" height="16" fill="#fff"/>
<text transform="translate(1002.46 471) scale(0.7950 1)" font-size="20" fill="#2c2530">10</text>
<text x="1022.6" y="463.8" font-size="17.8" fill="#2c2530">5</text>
<text transform="translate(594.94 33.6) scale(0.8314 1)" font-size="46.8" fill="#000" stroke="#000" stroke-width="0.5">B</text>
<path d="M1377.7 205.1h2.5M1380.2 239.4h2.5M1338.5 246.8h2.5M1338.5 254.1h2.5M1363 254.1h2.5M1416.9 254.1h2.5M1336.1 256.6h2.5M1358.1 256.6h2.5M1382.6 256.6h2.5M1350.8 259h2.5M1382.6 259h2.5M1336.1 261.5h2.5M1345.9 261.5h2.5M1367.9 261.5h2.5M1429.2 261.5h2.5M1333.6 268.8h2.5M1343.4 268.8h4.9M1353.2 268.8h2.5M1358.1 268.8h2.5M1382.6 268.8h2.5M1323.8 271.2h2.5M1390 271.2h2.5M1404.7 271.2h4.9M1365.5 273.7h2.5M1380.2 273.7h2.5M1367.9 276.1h2.5M1299.3 278.6h2.5M1360.6 278.6h2.5M1385.1 278.6h2.5M1416.9 278.6h2.5M1458.6 278.6h2.5M1287.1 281.1h2.5M1331.2 281.1h2.5M1343.4 281.1h2.5M1353.2 281.1h2.5M1363 281.1h2.5M1380.2 281.1h2.5M1333.6 283.5h2.5M1363 283.5h2.5M1382.6 283.5h2.5M1397.3 283.5h2.5M1497.8 283.5h2.5M1314 286h2.5M1323.8 286h2.5M1338.5 286h2.5M1355.7 286h2.5M1370.4 286h2.5M1385.1 286h2.5M1397.3 286h2.5M1603.1 286h2.5M1323.8 288.4h2.5M1350.8 288.4h2.5M1375.3 288.4h2.5M1387.5 288.4h2.5M1424.3 288.4h2.5M1336.1 290.9h7.4M1350.8 290.9h2.5M1360.6 290.9h2.5M1367.9 290.9h2.5M1372.8 290.9h7.4M1394.9 290.9h4.9M1348.3 293.3h2.5M1367.9 293.3h2.5M1375.3 293.3h2.5M1394.9 293.3h2.5M1338.5 295.8h2.5M1343.4 295.8h2.5M1372.8 295.8h2.5M1377.7 295.8h2.5M1394.9 295.8h2.5M1407.1 295.8h4.9M1311.6 298.2h2.5M1321.4 298.2h2.5M1333.6 298.2h2.5M1341 298.2h2.5M1350.8 298.2h2.5M1360.6 298.2h2.5M1375.3 298.2h2.5M1380.2 298.2h2.5M1385.1 298.2h2.5M1409.6 298.2h2.5M1439 298.2h2.5M1446.3 298.2h2.5M1600.7 298.2h2.5M1328.7 300.6h4.9M1348.3 300.6h2.5M1367.9 300.6h2.5M1372.8 300.6h2.5M1385.1 300.6h7.4M1458.6 300.6h2.5M1465.9 300.6h2.5M1490.4 300.6h2.5M1495.3 300.6h7.4M1512.5 300.6h2.5M1605.6 300.6h2.5M1301.8 303.1h2.5M1318.9 303.1h2.5M1341 303.1h2.5M1350.8 303.1h2.5M1358.1 303.1h2.5M1365.5 303.1h4.9M1375.3 303.1h2.5M1392.4 303.1h2.5M1402.2 303.1h2.5M1412 303.1h2.5M1470.8 303.1h2.5M1478.2 303.1h2.5M1483.1 303.1h2.5M1488 303.1h2.5M1500.2 303.1h2.5M1600.7 303.1h2.5M1311.6 305.6h2.5M1326.3 305.6h2.5M1345.9 305.6h4.9M1367.9 305.6h2.5M1394.9 305.6h2.5M1402.2 305.6h2.5M1424.3 305.6h2.5M1439 305.6h2.5M1463.5 305.6h2.5M1485.5 305.6h2.5M1490.4 305.6h2.5M1495.3 305.6h4.9M1299.3 308h2.5M1311.6 308h2.5M1358.1 308h9.8M1370.4 308h2.5M1375.3 308h2.5M1380.2 308h2.5M1387.5 308h2.5M1448.8 308h2.5M1468.4 308h2.5M1507.6 308h2.5M1318.9 310.5h4.9M1336.1 310.5h4.9M1350.8 310.5h2.5M1363 310.5h2.5M1370.4 310.5h7.4M1382.6 310.5h2.5M1387.5 310.5h2.5M1394.9 310.5h2.5M1414.5 310.5h2.5M1426.7 310.5h2.5M1492.9 310.5h2.5M1505.1 310.5h2.5M1304.2 312.9h2.5M1318.9 312.9h2.5M1343.4 312.9h2.5M1350.8 312.9h2.5M1358.1 312.9h2.5M1363 312.9h2.5M1367.9 312.9h4.9M1380.2 312.9h2.5M1402.2 312.9h2.5M1412 312.9h2.5M1419.4 312.9h2.5M1436.5 312.9h2.5M1453.7 312.9h2.5M1473.3 312.9h2.5M1495.3 312.9h2.5M1510 312.9h2.5M1603.1 312.9h2.5M1345.9 315.4h2.5M1353.2 315.4h4.9M1360.6 315.4h2.5M1380.2 315.4h4.9M1409.6 315.4h2.5M1414.5 315.4h2.5M1448.8 315.4h4.9M1478.2 315.4h2.5M1492.9 315.4h2.5M1519.8 315.4h2.5M1321.4 317.8h4.9M1331.2 317.8h2.5M1338.5 317.8h4.9M1345.9 317.8h4.9M1363 317.8h9.8M1375.3 317.8h7.4M1399.8 317.8h2.5M1404.7 317.8h4.9M1424.3 317.8h4.9M1441.4 317.8h2.5M1446.3 317.8h4.9M1463.5 317.8h2.5M1480.6 317.8h2.5M1502.7 317.8h2.5M1314 320.2h2.5M1328.7 320.2h2.5M1333.6 320.2h2.5M1350.8 320.2h4.9M1358.1 320.2h2.5M1363 320.2h2.5M1377.7 320.2h4.9M1399.8 320.2h4.9M1414.5 320.2h2.5M1465.9 320.2h2.5M1475.7 320.2h2.5M1321.4 322.7h2.5M1328.7 322.7h2.5M1350.8 322.7h4.9M1365.5 322.7h2.5M1370.4 322.7h2.5M1377.7 322.7h2.5M1394.9 322.7h2.5M1402.2 322.7h2.5M1407.1 322.7h4.9M1419.4 322.7h2.5M1451.2 322.7h2.5M1458.6 322.7h2.5M1514.9 322.7h2.5M1328.7 325.2h7.4M1341 325.2h4.9M1348.3 325.2h2.5M1363 325.2h2.5M1367.9 325.2h2.5M1375.3 325.2h2.5M1404.7 325.2h2.5M1414.5 325.2h2.5M1441.4 325.2h2.5M1470.8 325.2h2.5M1610.5 325.2h2.5M1314 327.6h4.9M1328.7 327.6h2.5M1333.6 327.6h2.5M1338.5 327.6h9.8M1350.8 327.6h4.9M1358.1 327.6h7.4M1370.4 327.6h2.5M1375.3 327.6h2.5M1399.8 327.6h2.5M1441.4 327.6h2.5M1478.2 327.6h2.5M1485.5 327.6h2.5M1492.9 327.6h2.5M1502.7 327.6h2.5M1296.9 330.1h2.5M1316.5 330.1h2.5M1328.7 330.1h2.5M1338.5 330.1h4.9M1345.9 330.1h4.9M1353.2 330.1h2.5M1365.5 330.1h2.5M1372.8 330.1h2.5M1377.7 330.1h4.9M1399.8 330.1h2.5M1409.6 330.1h2.5M1451.2 330.1h7.4M1461 330.1h2.5M1485.5 330.1h2.5M1497.8 330.1h2.5M1321.4 332.5h9.8M1341 332.5h4.9M1348.3 332.5h2.5M1353.2 332.5h4.9M1360.6 332.5h2.5M1365.5 332.5h2.5M1375.3 332.5h4.9M1385.1 332.5h4.9M1429.2 332.5h2.5M1434.1 332.5h2.5M1439 332.5h2.5M1465.9 332.5h2.5M1478.2 332.5h2.5M1605.6 332.5h2.5M1294.4 335h2.5M1321.4 335h2.5M1341 335h4.9M1348.3 335h2.5M1355.7 335h4.9M1367.9 335h2.5M1372.8 335h7.4M1382.6 335h4.9M1397.3 335h2.5M1446.3 335h2.5M1451.2 335h2.5M1458.6 335h2.5M1478.2 335h2.5M1603.1 335h4.9M1304.2 337.4h2.5M1331.2 337.4h2.5M1336.1 337.4h2.5M1341 337.4h7.4M1350.8 337.4h2.5M1355.7 337.4h2.5M1363 337.4h7.4M1372.8 337.4h4.9M1382.6 337.4h2.5M1416.9 337.4h4.9M1458.6 337.4h2.5M1465.9 337.4h7.4M1517.4 337.4h2.5M1605.6 337.4h2.5M1279.7 339.9h2.5M1314 339.9h2.5M1318.9 339.9h2.5M1323.8 339.9h2.5M1328.7 339.9h4.9M1336.1 339.9h4.9M1345.9 339.9h2.5M1355.7 339.9h7.4M1365.5 339.9h2.5M1370.4 339.9h2.5M1375.3 339.9h2.5M1380.2 339.9h2.5M1385.1 339.9h2.5M1392.4 339.9h2.5M1414.5 339.9h2.5M1434.1 339.9h2.5M1446.3 339.9h2.5M1612.9 339.9h2.5M1321.4 342.3h7.4M1333.6 342.3h2.5M1338.5 342.3h7.4M1348.3 342.3h2.5M1353.2 342.3h4.9M1365.5 342.3h2.5M1375.3 342.3h4.9M1414.5 342.3h2.5M1421.8 342.3h2.5M1465.9 342.3h2.5M1470.8 342.3h2.5M1488 342.3h2.5M1514.9 342.3h2.5M1603.1 342.3h2.5M1326.3 344.8h7.4M1336.1 344.8h2.5M1341 344.8h4.9M1350.8 344.8h4.9M1358.1 344.8h2.5M1363 344.8h2.5M1375.3 344.8h2.5M1380.2 344.8h2.5M1385.1 344.8h2.5M1392.4 344.8h2.5M1419.4 344.8h2.5M1439 344.8h2.5M1448.8 344.8h2.5M1461 344.8h2.5M1468.4 344.8h2.5M1475.7 344.8h2.5M1483.1 344.8h2.5M1492.9 344.8h2.5M1510 344.8h2.5M1610.5 344.8h2.5M1314 347.2h2.5M1326.3 347.2h2.5M1333.6 347.2h12.2M1348.3 347.2h4.9M1360.6 347.2h2.5M1365.5 347.2h2.5M1377.7 347.2h2.5M1382.6 347.2h4.9M1390 347.2h2.5M1399.8 347.2h2.5M1421.8 347.2h2.5M1431.6 347.2h4.9M1473.3 347.2h9.8M1505.1 347.2h2.5M1605.6 347.2h2.5M1612.9 347.2h2.5M1287.1 349.7h2.5M1314 349.7h9.8M1328.7 349.7h7.4M1338.5 349.7h7.4M1348.3 349.7h2.5M1353.2 349.7h2.5M1358.1 349.7h2.5M1363 349.7h2.5M1380.2 349.7h4.9M1404.7 349.7h2.5M1426.7 349.7h2.5M1434.1 349.7h2.5M1441.4 349.7h2.5M1458.6 349.7h2.5M1480.6 349.7h2.5M1510 349.7h2.5M1600.7 349.7h4.9M1292 352.1h2.5M1326.3 352.1h7.4M1336.1 352.1h7.4M1350.8 352.1h4.9M1360.6 352.1h4.9M1372.8 352.1h2.5M1377.7 352.1h4.9M1387.5 352.1h4.9M1399.8 352.1h2.5M1404.7 352.1h2.5M1409.6 352.1h2.5M1463.5 352.1h2.5M1468.4 352.1h2.5M1485.5 352.1h4.9M1512.5 352.1h2.5M1600.7 352.1h2.5M1608 352.1h2.5M1612.9 352.1h2.5M1294.4 354.6h2.5M1316.5 354.6h2.5M1321.4 354.6h2.5M1328.7 354.6h34.3M1370.4 354.6h2.5M1402.2 354.6h2.5M1412 354.6h2.5M1465.9 354.6h2.5M1470.8 354.6h2.5M1483.1 354.6h2.5M1603.1 354.6h2.5M1608 354.6h4.9M1309.1 357h2.5M1314 357h2.5M1318.9 357h14.7M1336.1 357h22.1M1360.6 357h2.5M1365.5 357h9.8M1390 357h2.5M1409.6 357h2.5M1414.5 357h2.5M1451.2 357h2.5M1478.2 357h2.5M1497.8 357h2.5M1502.7 357h2.5M1603.1 357h2.5M1306.7 359.5h2.5M1314 359.5h4.9M1321.4 359.5h34.3M1358.1 359.5h4.9M1365.5 359.5h7.4M1380.2 359.5h4.9M1394.9 359.5h2.5M1399.8 359.5h4.9M1419.4 359.5h7.4M1436.5 359.5h2.5M1448.8 359.5h2.5M1485.5 359.5h4.9M1495.3 359.5h2.5M1510 359.5h2.5M1603.1 359.5h2.5M1314 361.9h2.5M1318.9 361.9h2.5M1323.8 361.9h36.8M1367.9 361.9h7.4M1382.6 361.9h2.5M1414.5 361.9h2.5M1434.1 361.9h2.5M1443.9 361.9h2.5M1448.8 361.9h2.5M1490.4 361.9h2.5M1603.1 361.9h2.5M1608 361.9h2.5M1306.7 364.4h7.4M1316.5 364.4h4.9M1323.8 364.4h7.4M1333.6 364.4h26.9M1372.8 364.4h2.5M1461 364.4h4.9M1473.3 364.4h4.9M1480.6 364.4h2.5M1600.7 364.4h4.9M1318.9 366.8h2.5M1323.8 366.8h36.8M1365.5 366.8h2.5M1390 366.8h4.9M1436.5 366.8h2.5M1456.1 366.8h2.5M1463.5 366.8h2.5M1470.8 366.8h4.9M1485.5 366.8h4.9M1603.1 366.8h2.5M1610.5 366.8h2.5M1326.3 369.2h34.3M1363 369.2h2.5M1370.4 369.2h2.5M1387.5 369.2h4.9M1492.9 369.2h4.9M1514.9 369.2h2.5M1608 369.2h2.5M1316.5 371.7h4.9M1323.8 371.7h29.4M1355.7 371.7h2.5M1365.5 371.7h2.5M1372.8 371.7h2.5M1377.7 371.7h2.5M1402.2 371.7h2.5M1465.9 371.7h2.5M1473.3 371.7h4.9M1488 371.7h4.9M1500.2 371.7h2.5M1514.9 371.7h2.5M1598.2 371.7h2.5M1603.1 371.7h4.9M1314 374.2h2.5M1318.9 374.2h4.9M1326.3 374.2h2.5M1331.2 374.2h22.1M1358.1 374.2h2.5M1365.5 374.2h2.5M1387.5 374.2h2.5M1402.2 374.2h2.5M1478.2 374.2h2.5M1485.5 374.2h2.5M1492.9 374.2h2.5M1505.1 374.2h2.5M1512.5 374.2h2.5M1318.9 376.6h2.5M1323.8 376.6h2.5M1331.2 376.6h22.1M1355.7 376.6h2.5M1367.9 376.6h2.5M1377.7 376.6h2.5M1412 376.6h4.9M1468.4 376.6h2.5M1480.6 376.6h2.5M1492.9 376.6h4.9M1512.5 376.6h2.5M1605.6 376.6h2.5M1314 379.1h4.9M1321.4 379.1h2.5M1326.3 379.1h14.7M1345.9 379.1h9.8M1360.6 379.1h7.4M1375.3 379.1h2.5M1424.3 379.1h2.5M1598.2 379.1h2.5M1608 379.1h2.5M1323.8 381.5h4.9M1336.1 381.5h2.5M1343.4 381.5h4.9M1350.8 381.5h9.8M1370.4 381.5h2.5M1377.7 381.5h2.5M1387.5 381.5h2.5M1424.3 381.5h2.5M1431.6 381.5h2.5M1470.8 381.5h2.5M1495.3 381.5h2.5M1603.1 381.5h4.9M1318.9 384h2.5M1326.3 384h2.5M1333.6 384h2.5M1338.5 384h9.8M1350.8 384h2.5M1363 384h2.5M1377.7 384h2.5M1414.5 384h2.5M1419.4 384h2.5M1485.5 384h2.5M1605.6 384h7.4M1615.4 384h2.5M1338.5 386.4h2.5M1343.4 386.4h2.5M1350.8 386.4h2.5M1394.9 386.4h2.5M1414.5 386.4h2.5M1429.2 386.4h2.5M1448.8 386.4h2.5M1458.6 386.4h2.5M1465.9 386.4h2.5M1483.1 386.4h2.5M1517.4 386.4h2.5M1610.5 386.4h2.5M1316.5 388.9h2.5M1333.6 388.9h9.8M1345.9 388.9h4.9M1353.2 388.9h2.5M1367.9 388.9h2.5M1372.8 388.9h4.9M1470.8 388.9h2.5M1475.7 388.9h2.5M1483.1 388.9h2.5M1507.6 388.9h2.5M1522.3 388.9h2.5M1600.7 388.9h2.5M1341 391.3h2.5M1345.9 391.3h2.5M1350.8 391.3h2.5M1358.1 391.3h4.9M1365.5 391.3h2.5M1409.6 391.3h2.5M1468.4 391.3h2.5M1483.1 391.3h2.5M1600.7 391.3h2.5M1610.5 391.3h2.5M1301.8 393.8h2.5M1333.6 393.8h2.5M1341 393.8h2.5M1387.5 393.8h2.5M1402.2 393.8h2.5M1416.9 393.8h2.5M1439 393.8h2.5M1456.1 393.8h2.5M1468.4 393.8h2.5M1517.4 393.8h2.5M1605.6 393.8h2.5M1314 396.2h4.9M1326.3 396.2h2.5M1345.9 396.2h2.5M1358.1 396.2h2.5M1404.7 396.2h7.4M1421.8 396.2h2.5M1468.4 396.2h2.5M1497.8 396.2h2.5M1510 396.2h2.5M1412 398.7h2.5M1439 398.7h2.5M1470.8 398.7h2.5M1478.2 398.7h2.5M1603.1 398.7h2.5M1316.5 401.1h2.5M1321.4 401.1h2.5M1608 401.1h2.5M1345.9 403.6h2.5M1367.9 403.6h2.5M1605.6 403.6h2.5M1470.8 406h4.9M1600.7 406h2.5M1608 406h2.5M1385.1 408.5h2.5M1500.2 408.5h2.5M1377.7 410.9h2.5M1478.2 410.9h2.5M1490.4 410.9h2.5M1314 413.4h2.5M1502.7 415.8h2.5M1473.3 418.2h2.5M1600.7 418.2h2.5M1348.3 420.7h2.5M1365.5 420.7h2.5M1603.1 420.7h4.9" stroke="#808080" stroke-width="2.5" fill="none"/>
<path d="M1559 92.4h2.5M1537 97.3h2.5M1573.7 104.7h2.5M1588.4 104.7h2.5M1527.2 107.1h2.5M1603.1 107.1h2.5M1581.1 109.6h2.5M1554.1 112h2.5M1573.7 114.5h4.9M1576.2 116.9h2.5M1571.3 119.3h2.5M1573.7 124.2h2.5M1590.9 124.2h2.5M1546.8 126.7h2.5M1563.9 126.7h2.5M1578.6 126.7h2.5M1488 134.1h2.5M1551.7 134.1h2.5M1590.9 134.1h2.5M1554.1 136.5h2.5M1561.5 136.5h2.5M1600.7 136.5h2.5M1551.7 138.9h2.5M1568.8 138.9h4.9M1505.1 141.4h4.9M1524.7 141.4h2.5M1581.1 141.4h2.5M1588.4 141.4h2.5M1532.1 143.9h2.5M1551.7 143.9h4.9M1563.9 143.9h2.5M1573.7 143.9h2.5M1588.4 143.9h2.5M1593.3 143.9h2.5M1532.1 146.3h2.5M1573.7 146.3h4.9M1581.1 146.3h2.5M1600.7 146.3h2.5M1571.3 148.8h2.5M1578.6 148.8h2.5M1595.8 148.8h2.5M1483.1 151.2h2.5M1566.4 151.2h4.9M1573.7 151.2h2.5M1578.6 151.2h4.9M1588.4 151.2h2.5M1522.3 153.7h2.5M1566.4 153.7h2.5M1586 153.7h2.5M1559 156.1h2.5M1576.2 156.1h2.5M1586 156.1h2.5M1598.2 156.1h4.9M1617.8 156.1h2.5M1512.5 158.6h2.5M1524.7 158.6h2.5M1551.7 158.6h2.5M1568.8 158.6h2.5M1578.6 158.6h4.9M1485.5 161h2.5M1527.2 161h2.5M1532.1 161h2.5M1551.7 161h2.5M1559 161h2.5M1563.9 161h7.4M1581.1 161h4.9M1595.8 161h2.5M1603.1 161h2.5M1539.4 163.4h2.5M1551.7 163.4h2.5M1556.6 163.4h2.5M1566.4 163.4h7.4M1576.2 163.4h2.5M1605.6 163.4h2.5M1517.4 165.9h2.5M1546.8 165.9h2.5M1566.4 165.9h2.5M1571.3 165.9h2.5M1578.6 165.9h4.9M1598.2 165.9h2.5M1603.1 165.9h2.5M1541.9 168.4h2.5M1551.7 168.4h4.9M1566.4 168.4h2.5M1578.6 168.4h2.5M1583.5 168.4h2.5M1588.4 168.4h7.4M1563.9 170.8h4.9M1581.1 170.8h2.5M1586 170.8h4.9M1603.1 170.8h2.5M1615.4 170.8h2.5M1539.4 173.2h4.9M1549.2 173.2h2.5M1554.1 173.2h2.5M1583.5 173.2h2.5M1590.9 173.2h4.9M1598.2 173.2h2.5M1605.6 173.2h2.5M1625.2 173.2h2.5M1524.7 175.7h2.5M1563.9 175.7h2.5M1571.3 175.7h2.5M1576.2 175.7h2.5M1586 175.7h2.5M1593.3 175.7h7.4M1559 178.2h2.5M1566.4 178.2h2.5M1571.3 178.2h17.2M1610.5 178.2h2.5M1534.5 180.6h2.5M1568.8 180.6h4.9M1576.2 180.6h2.5M1590.9 180.6h2.5M1622.7 180.6h2.5M1554.1 183.1h2.5M1559 183.1h7.4M1578.6 183.1h4.9M1586 183.1h4.9M1595.8 183.1h2.5M1559 185.5h4.9M1566.4 185.5h2.5M1571.3 185.5h4.9M1581.1 185.5h12.2M1529.6 187.9h2.5M1561.5 187.9h2.5M1571.3 187.9h7.4M1581.1 187.9h2.5M1586 187.9h4.9M1598.2 187.9h4.9M1605.6 187.9h2.5M1610.5 187.9h2.5M1539.4 190.4h2.5M1551.7 190.4h2.5M1561.5 190.4h2.5M1573.7 190.4h19.6M1595.8 190.4h2.5M1544.3 192.9h2.5M1554.1 192.9h2.5M1566.4 192.9h2.5M1576.2 192.9h4.9M1583.5 192.9h2.5M1588.4 192.9h4.9M1610.5 192.9h2.5M1554.1 195.3h4.9M1561.5 195.3h2.5M1566.4 195.3h4.9M1573.7 195.3h2.5M1578.6 195.3h2.5M1583.5 195.3h7.4M1593.3 195.3h4.9M1603.1 195.3h2.5M1554.1 197.8h2.5M1559 197.8h9.8M1571.3 197.8h9.8M1588.4 197.8h2.5M1593.3 197.8h2.5M1598.2 197.8h2.5M1603.1 197.8h2.5M1539.4 200.2h2.5M1556.6 200.2h2.5M1566.4 200.2h4.9M1573.7 200.2h4.9M1581.1 200.2h2.5M1586 200.2h7.4M1595.8 200.2h2.5M1600.7 200.2h2.5M1605.6 200.2h2.5M1527.2 202.7h2.5M1537 202.7h2.5M1544.3 202.7h2.5M1549.2 202.7h2.5M1556.6 202.7h4.9M1566.4 202.7h2.5M1571.3 202.7h12.2M1588.4 202.7h2.5M1593.3 202.7h7.4M1603.1 202.7h4.9M1632.5 202.7h2.5M1541.9 205.1h2.5M1546.8 205.1h2.5M1554.1 205.1h7.4M1568.8 205.1h7.4M1581.1 205.1h9.8M1593.3 205.1h4.9M1608 205.1h4.9M1512.5 207.6h2.5M1524.7 207.6h2.5M1551.7 207.6h2.5M1556.6 207.6h2.5M1563.9 207.6h9.8M1576.2 207.6h7.4M1586 207.6h2.5M1590.9 207.6h2.5M1595.8 207.6h7.4M1546.8 210h2.5M1556.6 210h2.5M1563.9 210h2.5M1568.8 210h7.4M1578.6 210h4.9M1586 210h4.9M1595.8 210h12.2M1546.8 212.5h2.5M1551.7 212.5h4.9M1559 212.5h2.5M1563.9 212.5h9.8M1578.6 212.5h2.5M1586 212.5h7.4M1595.8 212.5h4.9M1632.5 212.5h2.5M1539.4 214.9h4.9M1549.2 214.9h2.5M1554.1 214.9h2.5M1561.5 214.9h26.9M1590.9 214.9h2.5M1595.8 214.9h4.9M1615.4 214.9h2.5M1544.3 217.4h7.4M1561.5 217.4h7.4M1571.3 217.4h2.5M1576.2 217.4h14.7M1593.3 217.4h9.8M1544.3 219.8h4.9M1554.1 219.8h2.5M1559 219.8h4.9M1566.4 219.8h2.5M1571.3 219.8h22.1M1595.8 219.8h4.9M1541.9 222.2h4.9M1551.7 222.2h24.5M1581.1 222.2h19.6M1612.9 222.2h2.5M1532.1 224.7h2.5M1546.8 224.7h2.5M1551.7 224.7h2.5M1556.6 224.7h2.5M1561.5 224.7h34.3M1524.7 227.2h2.5M1537 227.2h7.4M1546.8 227.2h46.6M1595.8 227.2h2.5M1603.1 227.2h2.5M1549.2 229.6h4.9M1559 229.6h7.4M1568.8 229.6h17.2M1590.9 229.6h7.4M1603.1 229.6h2.5M1549.2 232.1h2.5M1559 232.1h9.8M1571.3 232.1h17.2M1590.9 232.1h7.4M1600.7 232.1h4.9M1608 232.1h2.5M1546.8 234.5h9.8M1559 234.5h24.5M1586 234.5h12.2M1615.4 234.5h4.9M1532.1 237h4.9M1546.8 237h2.5M1551.7 237h24.5M1578.6 237h17.2M1598.2 237h2.5M1608 237h2.5M1534.5 239.4h2.5M1549.2 239.4h36.8M1588.4 239.4h2.5M1593.3 239.4h2.5M1598.2 239.4h7.4M1617.8 239.4h2.5M1556.6 241.9h36.8M1595.8 241.9h4.9M1527.2 244.3h2.5M1537 244.3h2.5M1551.7 244.3h46.6M1600.7 244.3h2.5M1524.7 246.8h2.5M1532.1 246.8h2.5M1541.9 246.8h4.9M1551.7 246.8h2.5M1556.6 246.8h26.9M1586 246.8h7.4M1554.1 249.2h41.7M1598.2 249.2h2.5M1608 249.2h2.5M1522.3 251.7h4.9M1539.4 251.7h2.5M1544.3 251.7h2.5M1549.2 251.7h2.5M1554.1 251.7h4.9M1561.5 251.7h4.9M1568.8 251.7h9.8M1581.1 251.7h4.9M1588.4 251.7h9.8M1620.3 251.7h2.5M1534.5 254.1h4.9M1549.2 254.1h2.5M1554.1 254.1h4.9M1561.5 254.1h39.2M1605.6 254.1h2.5M1610.5 254.1h2.5M1627.6 254.1h2.5M1544.3 256.6h4.9M1554.1 256.6h41.7M1600.7 256.6h2.5M1625.2 256.6h2.5M1539.4 259h2.5M1544.3 259h2.5M1554.1 259h9.8M1566.4 259h22.1M1593.3 259h2.5M1537 261.5h2.5M1541.9 261.5h2.5M1551.7 261.5h2.5M1559 261.5h4.9M1566.4 261.5h26.9M1598.2 261.5h2.5M1537 263.9h2.5M1541.9 263.9h4.9M1554.1 263.9h4.9M1561.5 263.9h29.4M1595.8 263.9h2.5M1600.7 263.9h2.5M1537 266.4h2.5M1544.3 266.4h2.5M1551.7 266.4h2.5M1559 266.4h24.5M1593.3 266.4h2.5M1610.5 266.4h2.5M1539.4 268.8h7.4M1549.2 268.8h2.5M1554.1 268.8h9.8M1566.4 268.8h14.7M1583.5 268.8h2.5M1590.9 268.8h4.9M1600.7 268.8h4.9M1612.9 268.8h2.5M1625.2 268.8h2.5M1470.8 271.2h2.5M1485.5 271.2h2.5M1497.8 271.2h2.5M1524.7 271.2h2.5M1546.8 271.2h4.9M1554.1 271.2h2.5M1559 271.2h14.7M1576.2 271.2h14.7M1598.2 271.2h7.4M1610.5 271.2h2.5M1412 273.7h2.5M1434.1 273.7h2.5M1443.9 273.7h2.5M1465.9 273.7h2.5M1480.6 273.7h2.5M1485.5 273.7h2.5M1512.5 273.7h2.5M1529.6 273.7h2.5M1544.3 273.7h4.9M1554.1 273.7h14.7M1571.3 273.7h12.2M1586 273.7h2.5M1600.7 273.7h2.5M1608 273.7h4.9M1473.3 276.1h2.5M1485.5 276.1h2.5M1492.9 276.1h2.5M1517.4 276.1h9.8M1534.5 276.1h9.8M1546.8 276.1h14.7M1566.4 276.1h31.9M1600.7 276.1h2.5M1605.6 276.1h2.5M1446.3 278.6h2.5M1463.5 278.6h2.5M1470.8 278.6h4.9M1514.9 278.6h2.5M1519.8 278.6h9.8M1532.1 278.6h2.5M1541.9 278.6h29.4M1573.7 278.6h4.9M1581.1 278.6h14.7M1605.6 278.6h2.5M1625.2 278.6h4.9M1497.8 281.1h2.5M1524.7 281.1h4.9M1532.1 281.1h2.5M1539.4 281.1h9.8M1554.1 281.1h26.9M1583.5 281.1h4.9M1590.9 281.1h2.5M1595.8 281.1h2.5M1617.8 281.1h2.5M1458.6 283.5h2.5M1478.2 283.5h2.5M1502.7 283.5h2.5M1517.4 283.5h4.9M1527.2 283.5h2.5M1539.4 283.5h2.5M1544.3 283.5h7.4M1556.6 283.5h7.4M1566.4 283.5h29.4M1612.9 283.5h2.5M1617.8 283.5h2.5M1390 286h2.5M1404.7 286h2.5M1431.6 286h2.5M1480.6 286h2.5M1495.3 286h2.5M1507.6 286h2.5M1517.4 286h2.5M1522.3 286h2.5M1527.2 286h2.5M1532.1 286h17.2M1551.7 286h9.8M1563.9 286h24.5M1590.9 286h4.9M1598.2 286h2.5M1453.7 288.4h2.5M1458.6 288.4h2.5M1463.5 288.4h2.5M1490.4 288.4h2.5M1502.7 288.4h2.5M1507.6 288.4h2.5M1512.5 288.4h2.5M1522.3 288.4h2.5M1527.2 288.4h9.8M1539.4 288.4h24.5M1566.4 288.4h22.1M1590.9 288.4h9.8M1603.1 288.4h2.5M1500.2 290.9h4.9M1512.5 290.9h2.5M1517.4 290.9h4.9M1524.7 290.9h2.5M1529.6 290.9h2.5M1534.5 290.9h34.3M1571.3 290.9h19.6M1593.3 290.9h2.5M1605.6 290.9h2.5M1407.1 293.3h2.5M1463.5 293.3h2.5M1468.4 293.3h2.5M1478.2 293.3h2.5M1492.9 293.3h2.5M1497.8 293.3h2.5M1505.1 293.3h4.9M1512.5 293.3h2.5M1517.4 293.3h2.5M1524.7 293.3h4.9M1534.5 293.3h58.8M1595.8 293.3h2.5M1603.1 293.3h2.5M1617.8 293.3h2.5M1622.7 293.3h2.5M1429.2 295.8h2.5M1468.4 295.8h2.5M1475.7 295.8h7.4M1485.5 295.8h9.8M1497.8 295.8h2.5M1507.6 295.8h2.5M1517.4 295.8h2.5M1529.6 295.8h2.5M1534.5 295.8h53.9M1590.9 295.8h4.9M1600.7 295.8h2.5M1453.7 298.2h2.5M1465.9 298.2h2.5M1473.3 298.2h2.5M1478.2 298.2h4.9M1485.5 298.2h2.5M1500.2 298.2h2.5M1507.6 298.2h2.5M1517.4 298.2h2.5M1529.6 298.2h66.2M1598.2 298.2h2.5M1603.1 298.2h2.5M1608 298.2h2.5M1326.3 300.6h2.5M1402.2 300.6h4.9M1421.8 300.6h2.5M1426.7 300.6h2.5M1453.7 300.6h2.5M1461 300.6h4.9M1468.4 300.6h4.9M1480.6 300.6h2.5M1505.1 300.6h2.5M1510 300.6h2.5M1514.9 300.6h9.8M1532.1 300.6h58.8M1593.3 300.6h7.4M1603.1 300.6h2.5M1615.4 300.6h2.5M1338.5 303.1h2.5M1414.5 303.1h2.5M1431.6 303.1h2.5M1453.7 303.1h2.5M1490.4 303.1h2.5M1497.8 303.1h2.5M1510 303.1h2.5M1517.4 303.1h4.9M1524.7 303.1h2.5M1529.6 303.1h12.2M1544.3 303.1h7.4M1554.1 303.1h46.6M1321.4 305.6h2.5M1370.4 305.6h2.5M1380.2 305.6h2.5M1443.9 305.6h4.9M1458.6 305.6h2.5M1465.9 305.6h2.5M1492.9 305.6h2.5M1510 305.6h4.9M1527.2 305.6h2.5M1532.1 305.6h71.1M1605.6 305.6h2.5M1350.8 308h2.5M1416.9 308h2.5M1434.1 308h4.9M1441.4 308h7.4M1463.5 308h2.5M1473.3 308h2.5M1488 308h2.5M1495.3 308h2.5M1500.2 308h2.5M1514.9 308h2.5M1519.8 308h14.7M1537 308h49M1588.4 308h12.2M1603.1 308h2.5M1345.9 310.5h2.5M1367.9 310.5h2.5M1451.2 310.5h2.5M1461 310.5h4.9M1473.3 310.5h2.5M1490.4 310.5h2.5M1500.2 310.5h2.5M1510 310.5h2.5M1517.4 310.5h2.5M1524.7 310.5h68.6M1595.8 310.5h4.9M1603.1 310.5h2.5M1627.6 310.5h2.5M1316.5 312.9h2.5M1333.6 312.9h2.5M1426.7 312.9h2.5M1463.5 312.9h2.5M1470.8 312.9h2.5M1480.6 312.9h2.5M1485.5 312.9h4.9M1500.2 312.9h7.4M1512.5 312.9h12.2M1527.2 312.9h2.5M1532.1 312.9h34.3M1568.8 312.9h26.9M1598.2 312.9h4.9M1605.6 312.9h2.5M1318.9 315.4h2.5M1424.3 315.4h2.5M1458.6 315.4h4.9M1470.8 315.4h2.5M1475.7 315.4h2.5M1483.1 315.4h2.5M1488 315.4h2.5M1495.3 315.4h2.5M1502.7 315.4h2.5M1507.6 315.4h4.9M1517.4 315.4h2.5M1524.7 315.4h73.5M1360.6 317.8h2.5M1392.4 317.8h2.5M1434.1 317.8h2.5M1451.2 317.8h2.5M1458.6 317.8h4.9M1468.4 317.8h2.5M1485.5 317.8h2.5M1490.4 317.8h2.5M1497.8 317.8h2.5M1510 317.8h2.5M1519.8 317.8h4.9M1527.2 317.8h61.3M1590.9 317.8h7.4M1600.7 317.8h7.4M1617.8 317.8h2.5M1365.5 320.2h2.5M1394.9 320.2h2.5M1407.1 320.2h2.5M1421.8 320.2h7.4M1443.9 320.2h2.5M1451.2 320.2h2.5M1458.6 320.2h2.5M1473.3 320.2h2.5M1480.6 320.2h2.5M1490.4 320.2h2.5M1500.2 320.2h2.5M1505.1 320.2h2.5M1514.9 320.2h88.2M1630.1 320.2h2.5M1316.5 322.7h2.5M1345.9 322.7h4.9M1380.2 322.7h2.5M1397.3 322.7h2.5M1434.1 322.7h2.5M1441.4 322.7h2.5M1453.7 322.7h2.5M1470.8 322.7h2.5M1480.6 322.7h7.4M1495.3 322.7h7.4M1505.1 322.7h2.5M1512.5 322.7h2.5M1517.4 322.7h9.8M1529.6 322.7h61.3M1593.3 322.7h2.5M1598.2 322.7h4.9M1608 322.7h4.9M1321.4 325.2h2.5M1429.2 325.2h4.9M1451.2 325.2h2.5M1456.1 325.2h2.5M1461 325.2h4.9M1473.3 325.2h2.5M1478.2 325.2h4.9M1488 325.2h2.5M1492.9 325.2h2.5M1500.2 325.2h2.5M1507.6 325.2h2.5M1512.5 325.2h4.9M1519.8 325.2h34.3M1556.6 325.2h39.2M1598.2 325.2h2.5M1605.6 325.2h2.5M1348.3 327.6h2.5M1404.7 327.6h2.5M1431.6 327.6h2.5M1456.1 327.6h2.5M1463.5 327.6h2.5M1473.3 327.6h2.5M1480.6 327.6h2.5M1490.4 327.6h2.5M1495.3 327.6h2.5M1500.2 327.6h2.5M1507.6 327.6h2.5M1514.9 327.6h2.5M1522.3 327.6h53.9M1578.6 327.6h19.6M1600.7 327.6h4.9M1392.4 330.1h2.5M1424.3 330.1h2.5M1436.5 330.1h2.5M1443.9 330.1h2.5M1465.9 330.1h2.5M1473.3 330.1h2.5M1483.1 330.1h2.5M1488 330.1h7.4M1510 330.1h9.8M1522.3 330.1h73.5M1598.2 330.1h7.4M1608 330.1h2.5M1318.9 332.5h2.5M1336.1 332.5h4.9M1363 332.5h2.5M1458.6 332.5h2.5M1463.5 332.5h2.5M1483.1 332.5h4.9M1490.4 332.5h2.5M1495.3 332.5h4.9M1502.7 332.5h102.9M1380.2 335h2.5M1407.1 335h2.5M1441.4 335h2.5M1453.7 335h2.5M1483.1 335h9.8M1495.3 335h7.4M1507.6 335h2.5M1512.5 335h88.2M1608 335h2.5M1316.5 337.4h2.5M1436.5 337.4h4.9M1451.2 337.4h2.5M1461 337.4h2.5M1473.3 337.4h2.5M1478.2 337.4h12.2M1492.9 337.4h9.8M1505.1 337.4h4.9M1512.5 337.4h4.9M1522.3 337.4h61.3M1586 337.4h7.4M1598.2 337.4h2.5M1603.1 337.4h2.5M1630.1 337.4h2.5M1421.8 339.9h2.5M1426.7 339.9h4.9M1443.9 339.9h2.5M1470.8 339.9h2.5M1480.6 339.9h2.5M1485.5 339.9h4.9M1492.9 339.9h2.5M1497.8 339.9h4.9M1507.6 339.9h85.8M1598.2 339.9h4.9M1605.6 339.9h2.5M1314 342.3h2.5M1360.6 342.3h4.9M1439 342.3h4.9M1448.8 342.3h4.9M1463.5 342.3h2.5M1468.4 342.3h2.5M1478.2 342.3h4.9M1485.5 342.3h2.5M1490.4 342.3h2.5M1495.3 342.3h2.5M1505.1 342.3h7.4M1517.4 342.3h2.5M1524.7 342.3h76M1311.6 344.8h2.5M1370.4 344.8h2.5M1377.7 344.8h2.5M1431.6 344.8h2.5M1465.9 344.8h2.5M1470.8 344.8h2.5M1478.2 344.8h4.9M1488 344.8h4.9M1497.8 344.8h2.5M1502.7 344.8h2.5M1507.6 344.8h2.5M1512.5 344.8h2.5M1517.4 344.8h76M1595.8 344.8h14.7M1409.6 347.2h4.9M1439 347.2h2.5M1453.7 347.2h2.5M1458.6 347.2h4.9M1465.9 347.2h2.5M1492.9 347.2h12.2M1507.6 347.2h2.5M1514.9 347.2h63.7M1581.1 347.2h14.7M1598.2 347.2h7.4M1309.1 349.7h2.5M1367.9 349.7h2.5M1385.1 349.7h2.5M1416.9 349.7h2.5M1424.3 349.7h2.5M1448.8 349.7h2.5M1453.7 349.7h2.5M1463.5 349.7h2.5M1468.4 349.7h9.8M1483.1 349.7h17.2M1502.7 349.7h7.4M1517.4 349.7h78.4M1608 349.7h2.5M1343.4 352.1h2.5M1348.3 352.1h2.5M1446.3 352.1h4.9M1456.1 352.1h7.4M1473.3 352.1h2.5M1478.2 352.1h7.4M1490.4 352.1h19.6M1519.8 352.1h39.2M1561.5 352.1h39.2M1617.8 352.1h2.5M1309.1 354.6h2.5M1323.8 354.6h2.5M1382.6 354.6h2.5M1387.5 354.6h2.5M1431.6 354.6h2.5M1448.8 354.6h2.5M1453.7 354.6h2.5M1461 354.6h2.5M1468.4 354.6h2.5M1480.6 354.6h2.5M1488 354.6h2.5M1495.3 354.6h2.5M1502.7 354.6h4.9M1510 354.6h14.7M1527.2 354.6h58.8M1588.4 354.6h9.8M1600.7 354.6h2.5M1612.9 354.6h2.5M1333.6 357h2.5M1394.9 357h2.5M1439 357h2.5M1465.9 357h4.9M1475.7 357h2.5M1480.6 357h2.5M1505.1 357h4.9M1512.5 357h2.5M1517.4 357h44.1M1563.9 357h39.2M1608 357h2.5M1617.8 357h2.5M1363 359.5h2.5M1446.3 359.5h2.5M1473.3 359.5h2.5M1480.6 359.5h4.9M1490.4 359.5h4.9M1500.2 359.5h7.4M1512.5 359.5h9.8M1524.7 359.5h76M1612.9 359.5h2.5M1625.2 359.5h2.5M1316.5 361.9h2.5M1377.7 361.9h2.5M1397.3 361.9h2.5M1416.9 361.9h2.5M1453.7 361.9h4.9M1465.9 361.9h7.4M1475.7 361.9h12.2M1492.9 361.9h2.5M1497.8 361.9h2.5M1502.7 361.9h2.5M1510 361.9h2.5M1517.4 361.9h80.9M1610.5 361.9h2.5M1331.2 364.4h2.5M1360.6 364.4h2.5M1377.7 364.4h2.5M1392.4 364.4h2.5M1414.5 364.4h7.4M1441.4 364.4h2.5M1451.2 364.4h2.5M1458.6 364.4h2.5M1470.8 364.4h2.5M1478.2 364.4h2.5M1485.5 364.4h2.5M1495.3 364.4h7.4M1505.1 364.4h2.5M1510 364.4h4.9M1517.4 364.4h2.5M1522.3 364.4h9.8M1534.5 364.4h61.3M1598.2 364.4h2.5M1610.5 364.4h2.5M1402.2 366.8h2.5M1409.6 366.8h2.5M1416.9 366.8h2.5M1429.2 366.8h2.5M1443.9 366.8h4.9M1453.7 366.8h2.5M1475.7 366.8h7.4M1490.4 366.8h2.5M1505.1 366.8h2.5M1510 366.8h2.5M1514.9 366.8h4.9M1522.3 366.8h68.6M1593.3 366.8h9.8M1311.6 369.2h2.5M1377.7 369.2h2.5M1421.8 369.2h2.5M1431.6 369.2h2.5M1441.4 369.2h2.5M1473.3 369.2h2.5M1478.2 369.2h2.5M1483.1 369.2h9.8M1500.2 369.2h2.5M1505.1 369.2h4.9M1517.4 369.2h83.3M1610.5 369.2h2.5M1353.2 371.7h2.5M1363 371.7h2.5M1375.3 371.7h2.5M1404.7 371.7h4.9M1441.4 371.7h2.5M1451.2 371.7h2.5M1458.6 371.7h2.5M1463.5 371.7h2.5M1470.8 371.7h2.5M1478.2 371.7h2.5M1497.8 371.7h2.5M1502.7 371.7h7.4M1512.5 371.7h2.5M1517.4 371.7h2.5M1522.3 371.7h19.6M1544.3 371.7h51.5M1367.9 374.2h2.5M1404.7 374.2h2.5M1463.5 374.2h2.5M1468.4 374.2h2.5M1475.7 374.2h2.5M1480.6 374.2h4.9M1488 374.2h2.5M1495.3 374.2h2.5M1500.2 374.2h2.5M1514.9 374.2h88.2M1605.6 374.2h2.5M1360.6 376.6h2.5M1402.2 376.6h2.5M1409.6 376.6h2.5M1434.1 376.6h2.5M1451.2 376.6h2.5M1456.1 376.6h2.5M1465.9 376.6h2.5M1500.2 376.6h12.2M1514.9 376.6h2.5M1522.3 376.6h36.8M1561.5 376.6h9.8M1573.7 376.6h24.5M1600.7 376.6h4.9M1318.9 379.1h2.5M1382.6 379.1h2.5M1421.8 379.1h2.5M1431.6 379.1h4.9M1446.3 379.1h2.5M1453.7 379.1h7.4M1475.7 379.1h2.5M1495.3 379.1h4.9M1502.7 379.1h4.9M1510 379.1h2.5M1514.9 379.1h2.5M1519.8 379.1h78.4M1600.7 379.1h4.9M1426.7 381.5h2.5M1468.4 381.5h2.5M1475.7 381.5h7.4M1490.4 381.5h2.5M1500.2 381.5h2.5M1505.1 381.5h4.9M1512.5 381.5h4.9M1519.8 381.5h51.5M1573.7 381.5h24.5M1608 381.5h2.5M1620.3 381.5h2.5M1331.2 384h2.5M1387.5 384h2.5M1404.7 384h2.5M1451.2 384h2.5M1468.4 384h2.5M1483.1 384h2.5M1492.9 384h4.9M1502.7 384h4.9M1510 384h2.5M1514.9 384h83.3M1353.2 386.4h2.5M1397.3 386.4h2.5M1404.7 386.4h2.5M1443.9 386.4h4.9M1453.7 386.4h2.5M1468.4 386.4h2.5M1478.2 386.4h4.9M1490.4 386.4h2.5M1502.7 386.4h2.5M1510 386.4h2.5M1519.8 386.4h51.5M1573.7 386.4h24.5M1600.7 386.4h2.5M1414.5 388.9h2.5M1443.9 388.9h2.5M1453.7 388.9h2.5M1458.6 388.9h2.5M1468.4 388.9h2.5M1480.6 388.9h2.5M1485.5 388.9h2.5M1495.3 388.9h2.5M1500.2 388.9h2.5M1510 388.9h2.5M1514.9 388.9h2.5M1524.7 388.9h39.2M1566.4 388.9h24.5M1593.3 388.9h7.4M1331.2 391.3h4.9M1424.3 391.3h2.5M1434.1 391.3h2.5M1443.9 391.3h2.5M1451.2 391.3h4.9M1458.6 391.3h2.5M1490.4 391.3h4.9M1502.7 391.3h2.5M1507.6 391.3h4.9M1514.9 391.3h4.9M1522.3 391.3h7.4M1532.1 391.3h66.2M1605.6 391.3h2.5M1326.3 393.8h2.5M1345.9 393.8h2.5M1434.1 393.8h2.5M1451.2 393.8h2.5M1461 393.8h2.5M1470.8 393.8h4.9M1485.5 393.8h2.5M1490.4 393.8h9.8M1502.7 393.8h2.5M1510 393.8h2.5M1514.9 393.8h2.5M1519.8 393.8h78.4M1341 396.2h2.5M1360.6 396.2h2.5M1453.7 396.2h2.5M1478.2 396.2h4.9M1495.3 396.2h2.5M1502.7 396.2h7.4M1512.5 396.2h9.8M1524.7 396.2h68.6M1595.8 396.2h9.8M1309.1 398.7h2.5M1419.4 398.7h2.5M1431.6 398.7h2.5M1443.9 398.7h2.5M1453.7 398.7h2.5M1468.4 398.7h2.5M1495.3 398.7h2.5M1505.1 398.7h4.9M1517.4 398.7h4.9M1524.7 398.7h66.2M1593.3 398.7h7.4M1429.2 401.1h2.5M1434.1 401.1h2.5M1448.8 401.1h4.9M1465.9 401.1h12.2M1495.3 401.1h2.5M1500.2 401.1h4.9M1507.6 401.1h2.5M1514.9 401.1h12.2M1529.6 401.1h22.1M1554.1 401.1h41.7M1603.1 401.1h2.5M1309.1 403.6h2.5M1426.7 403.6h2.5M1451.2 403.6h2.5M1456.1 403.6h2.5M1465.9 403.6h2.5M1473.3 403.6h2.5M1485.5 403.6h2.5M1497.8 403.6h4.9M1514.9 403.6h2.5M1519.8 403.6h7.4M1529.6 403.6h73.5M1390 406h2.5M1441.4 406h2.5M1453.7 406h2.5M1461 406h2.5M1480.6 406h4.9M1495.3 406h2.5M1500.2 406h2.5M1510 406h2.5M1514.9 406h4.9M1522.3 406h76M1338.5 408.5h2.5M1355.7 408.5h2.5M1404.7 408.5h2.5M1426.7 408.5h2.5M1468.4 408.5h2.5M1485.5 408.5h2.5M1490.4 408.5h2.5M1502.7 408.5h2.5M1510 408.5h4.9M1522.3 408.5h34.3M1559 408.5h39.2M1311.6 410.9h2.5M1424.3 410.9h4.9M1485.5 410.9h4.9M1495.3 410.9h2.5M1507.6 410.9h2.5M1512.5 410.9h2.5M1519.8 410.9h2.5M1524.7 410.9h73.5M1600.7 410.9h2.5M1617.8 410.9h2.5M1365.5 413.4h4.9M1404.7 413.4h4.9M1431.6 413.4h2.5M1436.5 413.4h2.5M1443.9 413.4h2.5M1463.5 413.4h2.5M1468.4 413.4h2.5M1485.5 413.4h2.5M1512.5 413.4h2.5M1517.4 413.4h7.4M1527.2 413.4h68.6M1600.7 413.4h2.5M1605.6 413.4h2.5M1610.5 413.4h2.5M1497.8 415.8h4.9M1505.1 415.8h4.9M1514.9 415.8h9.8M1527.2 415.8h24.5M1554.1 415.8h12.2M1568.8 415.8h24.5M1598.2 415.8h2.5M1355.7 418.2h2.5M1434.1 418.2h4.9M1448.8 418.2h2.5M1453.7 418.2h2.5M1465.9 418.2h2.5M1490.4 418.2h4.9M1512.5 418.2h2.5M1517.4 418.2h4.9M1527.2 418.2h4.9M1534.5 418.2h4.9M1544.3 418.2h2.5M1549.2 418.2h12.2M1563.9 418.2h7.4M1573.7 418.2h17.2M1321.4 420.7h4.9M1407.1 420.7h2.5M1436.5 420.7h2.5M1461 420.7h2.5M1502.7 420.7h2.5M1507.6 420.7h7.4M1522.3 420.7h2.5M1527.2 420.7h9.8M1541.9 420.7h2.5M1546.8 420.7h14.7M1568.8 420.7h2.5M1573.7 420.7h29.4" stroke="#ff00ff" stroke-width="2.5" fill="none"/>
<path d="M1500.2 102.2h2.5M1556.6 107.1h2.5M1407.1 109.6h2.5M1468.4 109.6h2.5M1544.3 109.6h2.5M1463.5 112h2.5M1475.7 112h2.5M1483.1 112h2.5M1502.7 112h2.5M1556.6 112h2.5M1439 114.5h2.5M1456.1 114.5h2.5M1492.9 114.5h2.5M1522.3 114.5h2.5M1561.5 114.5h2.5M1399.8 116.9h2.5M1426.7 116.9h2.5M1465.9 116.9h2.5M1475.7 116.9h2.5M1485.5 116.9h2.5M1502.7 116.9h2.5M1544.3 116.9h2.5M1549.2 116.9h2.5M1566.4 116.9h2.5M1590.9 116.9h2.5M1431.6 119.3h2.5M1446.3 119.3h2.5M1473.3 119.3h2.5M1488 119.3h2.5M1527.2 119.3h2.5M1539.4 119.3h2.5M1419.4 121.8h2.5M1448.8 121.8h2.5M1495.3 121.8h2.5M1512.5 121.8h2.5M1529.6 121.8h2.5M1541.9 121.8h2.5M1566.4 121.8h2.5M1370.4 124.2h2.5M1473.3 124.2h2.5M1488 124.2h4.9M1497.8 124.2h4.9M1510 124.2h7.4M1519.8 124.2h2.5M1527.2 124.2h2.5M1537 124.2h2.5M1546.8 124.2h9.8M1563.9 124.2h2.5M1586 124.2h2.5M1451.2 126.7h2.5M1461 126.7h2.5M1480.6 126.7h2.5M1488 126.7h4.9M1495.3 126.7h2.5M1500.2 126.7h2.5M1507.6 126.7h2.5M1514.9 126.7h2.5M1519.8 126.7h2.5M1524.7 126.7h4.9M1537 126.7h2.5M1544.3 126.7h2.5M1551.7 126.7h2.5M1566.4 126.7h2.5M1321.4 129.2h2.5M1461 129.2h2.5M1465.9 129.2h2.5M1473.3 129.2h2.5M1485.5 129.2h7.4M1497.8 129.2h2.5M1505.1 129.2h2.5M1512.5 129.2h4.9M1519.8 129.2h2.5M1524.7 129.2h2.5M1532.1 129.2h7.4M1544.3 129.2h12.2M1561.5 129.2h9.8M1573.7 129.2h2.5M1578.6 129.2h2.5M1586 129.2h2.5M1353.2 131.6h2.5M1358.1 131.6h2.5M1453.7 131.6h2.5M1473.3 131.6h2.5M1478.2 131.6h2.5M1483.1 131.6h2.5M1488 131.6h7.4M1497.8 131.6h9.8M1510 131.6h4.9M1519.8 131.6h4.9M1532.1 131.6h4.9M1539.4 131.6h7.4M1551.7 131.6h2.5M1556.6 131.6h7.4M1568.8 131.6h2.5M1314 134.1h2.5M1333.6 134.1h2.5M1367.9 134.1h2.5M1426.7 134.1h2.5M1451.2 134.1h2.5M1456.1 134.1h2.5M1461 134.1h2.5M1473.3 134.1h9.8M1485.5 134.1h2.5M1490.4 134.1h4.9M1497.8 134.1h2.5M1505.1 134.1h2.5M1510 134.1h14.7M1527.2 134.1h9.8M1539.4 134.1h12.2M1559 134.1h4.9M1566.4 134.1h7.4M1576.2 134.1h2.5M1595.8 134.1h2.5M1289.5 136.5h2.5M1323.8 136.5h2.5M1355.7 136.5h2.5M1365.5 136.5h2.5M1375.3 136.5h2.5M1439 136.5h2.5M1473.3 136.5h17.2M1492.9 136.5h2.5M1497.8 136.5h4.9M1505.1 136.5h2.5M1510 136.5h2.5M1514.9 136.5h14.7M1534.5 136.5h9.8M1551.7 136.5h2.5M1559 136.5h2.5M1568.8 136.5h4.9M1578.6 136.5h4.9M1321.4 138.9h2.5M1348.3 138.9h2.5M1358.1 138.9h4.9M1365.5 138.9h2.5M1370.4 138.9h4.9M1382.6 138.9h4.9M1397.3 138.9h2.5M1407.1 138.9h2.5M1414.5 138.9h2.5M1446.3 138.9h2.5M1458.6 138.9h4.9M1478.2 138.9h4.9M1485.5 138.9h2.5M1490.4 138.9h2.5M1497.8 138.9h9.8M1510 138.9h7.4M1519.8 138.9h19.6M1541.9 138.9h9.8M1554.1 138.9h2.5M1561.5 138.9h2.5M1573.7 138.9h7.4M1586 138.9h2.5M1304.2 141.4h4.9M1348.3 141.4h2.5M1372.8 141.4h2.5M1429.2 141.4h2.5M1448.8 141.4h2.5M1453.7 141.4h2.5M1468.4 141.4h2.5M1473.3 141.4h4.9M1480.6 141.4h7.4M1490.4 141.4h12.2M1510 141.4h14.7M1527.2 141.4h24.5M1554.1 141.4h2.5M1559 141.4h2.5M1568.8 141.4h2.5M1573.7 141.4h4.9M1590.9 141.4h2.5M1299.3 143.9h2.5M1328.7 143.9h2.5M1341 143.9h7.4M1353.2 143.9h2.5M1358.1 143.9h2.5M1363 143.9h4.9M1372.8 143.9h2.5M1402.2 143.9h2.5M1456.1 143.9h2.5M1463.5 143.9h2.5M1470.8 143.9h4.9M1480.6 143.9h9.8M1495.3 143.9h19.6M1517.4 143.9h4.9M1524.7 143.9h7.4M1534.5 143.9h17.2M1556.6 143.9h7.4M1568.8 143.9h4.9M1578.6 143.9h9.8M1316.5 146.3h2.5M1336.1 146.3h2.5M1341 146.3h9.8M1353.2 146.3h2.5M1358.1 146.3h2.5M1377.7 146.3h7.4M1399.8 146.3h2.5M1426.7 146.3h4.9M1453.7 146.3h4.9M1461 146.3h14.7M1478.2 146.3h2.5M1485.5 146.3h4.9M1492.9 146.3h2.5M1497.8 146.3h9.8M1510 146.3h9.8M1522.3 146.3h9.8M1534.5 146.3h31.9M1568.8 146.3h2.5M1583.5 146.3h2.5M1292 148.8h2.5M1311.6 148.8h2.5M1333.6 148.8h2.5M1353.2 148.8h4.9M1360.6 148.8h2.5M1453.7 148.8h12.2M1468.4 148.8h4.9M1475.7 148.8h4.9M1483.1 148.8h7.4M1492.9 148.8h19.6M1514.9 148.8h49M1566.4 148.8h4.9M1576.2 148.8h2.5M1581.1 148.8h2.5M1304.2 151.2h2.5M1331.2 151.2h2.5M1338.5 151.2h2.5M1343.4 151.2h2.5M1348.3 151.2h4.9M1355.7 151.2h2.5M1363 151.2h2.5M1375.3 151.2h7.4M1392.4 151.2h2.5M1414.5 151.2h2.5M1421.8 151.2h2.5M1429.2 151.2h4.9M1448.8 151.2h2.5M1453.7 151.2h7.4M1463.5 151.2h4.9M1473.3 151.2h7.4M1485.5 151.2h2.5M1490.4 151.2h26.9M1519.8 151.2h12.2M1534.5 151.2h19.6M1556.6 151.2h9.8M1571.3 151.2h2.5M1583.5 151.2h2.5M1593.3 151.2h2.5M1598.2 151.2h2.5M1323.8 153.7h2.5M1336.1 153.7h2.5M1341 153.7h14.7M1360.6 153.7h2.5M1375.3 153.7h7.4M1412 153.7h2.5M1436.5 153.7h2.5M1443.9 153.7h2.5M1451.2 153.7h2.5M1461 153.7h12.2M1478.2 153.7h36.8M1517.4 153.7h4.9M1524.7 153.7h41.7M1568.8 153.7h4.9M1578.6 153.7h4.9M1593.3 153.7h2.5M1600.7 153.7h2.5M1306.7 156.1h2.5M1318.9 156.1h2.5M1326.3 156.1h2.5M1338.5 156.1h2.5M1348.3 156.1h2.5M1358.1 156.1h2.5M1365.5 156.1h2.5M1392.4 156.1h2.5M1441.4 156.1h2.5M1456.1 156.1h2.5M1463.5 156.1h71.1M1537 156.1h22.1M1561.5 156.1h14.7M1581.1 156.1h4.9M1593.3 156.1h2.5M1316.5 158.6h2.5M1326.3 158.6h2.5M1331.2 158.6h4.9M1338.5 158.6h2.5M1343.4 158.6h4.9M1353.2 158.6h7.4M1363 158.6h2.5M1377.7 158.6h2.5M1421.8 158.6h2.5M1446.3 158.6h2.5M1461 158.6h9.8M1475.7 158.6h2.5M1480.6 158.6h31.9M1514.9 158.6h9.8M1527.2 158.6h14.7M1544.3 158.6h7.4M1554.1 158.6h14.7M1573.7 158.6h2.5M1583.5 158.6h2.5M1588.4 158.6h2.5M1314 161h7.4M1328.7 161h4.9M1338.5 161h7.4M1348.3 161h4.9M1355.7 161h2.5M1365.5 161h2.5M1370.4 161h7.4M1404.7 161h2.5M1443.9 161h2.5M1448.8 161h2.5M1463.5 161h2.5M1468.4 161h7.4M1478.2 161h7.4M1490.4 161h36.8M1529.6 161h2.5M1534.5 161h17.2M1554.1 161h4.9M1561.5 161h2.5M1571.3 161h2.5M1576.2 161h2.5M1586 161h2.5M1593.3 161h2.5M1299.3 163.4h2.5M1311.6 163.4h2.5M1323.8 163.4h2.5M1328.7 163.4h7.4M1338.5 163.4h12.2M1353.2 163.4h2.5M1363 163.4h2.5M1367.9 163.4h2.5M1416.9 163.4h2.5M1446.3 163.4h2.5M1453.7 163.4h2.5M1463.5 163.4h2.5M1468.4 163.4h2.5M1473.3 163.4h4.9M1480.6 163.4h58.8M1541.9 163.4h9.8M1559 163.4h4.9M1573.7 163.4h2.5M1578.6 163.4h7.4M1590.9 163.4h2.5M1289.5 165.9h2.5M1304.2 165.9h2.5M1333.6 165.9h7.4M1343.4 165.9h7.4M1353.2 165.9h2.5M1358.1 165.9h7.4M1377.7 165.9h7.4M1392.4 165.9h2.5M1414.5 165.9h2.5M1451.2 165.9h2.5M1458.6 165.9h7.4M1470.8 165.9h2.5M1475.7 165.9h7.4M1488 165.9h29.4M1519.8 165.9h26.9M1549.2 165.9h12.2M1563.9 165.9h2.5M1576.2 165.9h2.5M1583.5 165.9h4.9M1593.3 165.9h2.5M1331.2 168.4h2.5M1338.5 168.4h7.4M1348.3 168.4h7.4M1372.8 168.4h2.5M1385.1 168.4h2.5M1394.9 168.4h2.5M1404.7 168.4h2.5M1414.5 168.4h2.5M1431.6 168.4h4.9M1446.3 168.4h2.5M1456.1 168.4h2.5M1468.4 168.4h2.5M1473.3 168.4h17.2M1492.9 168.4h49M1544.3 168.4h7.4M1556.6 168.4h9.8M1568.8 168.4h2.5M1573.7 168.4h4.9M1581.1 168.4h2.5M1306.7 170.8h2.5M1314 170.8h2.5M1321.4 170.8h9.8M1336.1 170.8h2.5M1343.4 170.8h2.5M1375.3 170.8h2.5M1380.2 170.8h2.5M1416.9 170.8h2.5M1453.7 170.8h2.5M1461 170.8h39.2M1502.7 170.8h61.3M1568.8 170.8h4.9M1576.2 170.8h4.9M1583.5 170.8h2.5M1333.6 173.2h2.5M1338.5 173.2h4.9M1348.3 173.2h2.5M1353.2 173.2h2.5M1363 173.2h4.9M1397.3 173.2h2.5M1441.4 173.2h7.4M1451.2 173.2h2.5M1456.1 173.2h2.5M1465.9 173.2h2.5M1470.8 173.2h68.6M1544.3 173.2h4.9M1551.7 173.2h2.5M1559 173.2h19.6M1581.1 173.2h2.5M1323.8 175.7h2.5M1341 175.7h7.4M1350.8 175.7h4.9M1358.1 175.7h2.5M1365.5 175.7h4.9M1392.4 175.7h2.5M1421.8 175.7h2.5M1426.7 175.7h2.5M1439 175.7h4.9M1451.2 175.7h2.5M1461 175.7h2.5M1465.9 175.7h2.5M1470.8 175.7h4.9M1480.6 175.7h44.1M1527.2 175.7h4.9M1534.5 175.7h29.4M1566.4 175.7h4.9M1573.7 175.7h2.5M1578.6 175.7h4.9M1588.4 175.7h2.5M1318.9 178.2h2.5M1331.2 178.2h2.5M1348.3 178.2h2.5M1358.1 178.2h4.9M1365.5 178.2h2.5M1394.9 178.2h2.5M1448.8 178.2h2.5M1463.5 178.2h4.9M1470.8 178.2h85.8M1561.5 178.2h2.5M1568.8 178.2h2.5M1600.7 178.2h2.5M1306.7 180.6h2.5M1336.1 180.6h9.8M1350.8 180.6h2.5M1358.1 180.6h4.9M1372.8 180.6h2.5M1412 180.6h2.5M1429.2 180.6h2.5M1439 180.6h4.9M1446.3 180.6h14.7M1463.5 180.6h9.8M1475.7 180.6h2.5M1480.6 180.6h22.1M1505.1 180.6h29.4M1537 180.6h22.1M1561.5 180.6h7.4M1573.7 180.6h2.5M1581.1 180.6h2.5M1326.3 183.1h2.5M1343.4 183.1h4.9M1350.8 183.1h2.5M1365.5 183.1h2.5M1397.3 183.1h4.9M1426.7 183.1h2.5M1431.6 183.1h2.5M1439 183.1h2.5M1453.7 183.1h2.5M1461 183.1h4.9M1468.4 183.1h53.9M1524.7 183.1h29.4M1556.6 183.1h2.5M1566.4 183.1h9.8M1583.5 183.1h2.5M1590.9 183.1h2.5M1292 185.5h2.5M1316.5 185.5h2.5M1326.3 185.5h2.5M1341 185.5h4.9M1387.5 185.5h2.5M1392.4 185.5h2.5M1451.2 185.5h2.5M1463.5 185.5h7.4M1473.3 185.5h85.8M1563.9 185.5h2.5M1568.8 185.5h2.5M1576.2 185.5h4.9M1593.3 185.5h2.5M1341 187.9h4.9M1350.8 187.9h2.5M1360.6 187.9h4.9M1380.2 187.9h2.5M1421.8 187.9h2.5M1463.5 187.9h2.5M1470.8 187.9h14.7M1488 187.9h41.7M1532.1 187.9h17.2M1551.7 187.9h9.8M1566.4 187.9h4.9M1578.6 187.9h2.5M1583.5 187.9h2.5M1336.1 190.4h2.5M1341 190.4h2.5M1360.6 190.4h2.5M1367.9 190.4h2.5M1419.4 190.4h2.5M1431.6 190.4h2.5M1461 190.4h2.5M1465.9 190.4h2.5M1470.8 190.4h4.9M1478.2 190.4h7.4M1490.4 190.4h12.2M1505.1 190.4h2.5M1510 190.4h29.4M1541.9 190.4h9.8M1554.1 190.4h7.4M1563.9 190.4h2.5M1568.8 190.4h4.9M1318.9 192.9h2.5M1348.3 192.9h2.5M1358.1 192.9h2.5M1367.9 192.9h2.5M1439 192.9h4.9M1453.7 192.9h4.9M1461 192.9h2.5M1468.4 192.9h12.2M1483.1 192.9h56.4M1541.9 192.9h2.5M1546.8 192.9h7.4M1556.6 192.9h9.8M1571.3 192.9h4.9M1598.2 192.9h2.5M1311.6 195.3h2.5M1341 195.3h2.5M1363 195.3h2.5M1394.9 195.3h2.5M1434.1 195.3h2.5M1443.9 195.3h4.9M1461 195.3h7.4M1470.8 195.3h4.9M1478.2 195.3h4.9M1488 195.3h12.2M1502.7 195.3h4.9M1510 195.3h2.5M1517.4 195.3h9.8M1529.6 195.3h7.4M1539.4 195.3h14.7M1559 195.3h2.5M1571.3 195.3h2.5M1581.1 195.3h2.5M1385.1 197.8h4.9M1453.7 197.8h4.9M1461 197.8h2.5M1468.4 197.8h2.5M1473.3 197.8h29.4M1505.1 197.8h19.6M1527.2 197.8h9.8M1541.9 197.8h4.9M1556.6 197.8h2.5M1568.8 197.8h2.5M1581.1 197.8h7.4M1595.8 197.8h2.5M1436.5 200.2h2.5M1443.9 200.2h2.5M1451.2 200.2h2.5M1465.9 200.2h7.4M1475.7 200.2h2.5M1480.6 200.2h7.4M1492.9 200.2h4.9M1500.2 200.2h7.4M1510 200.2h9.8M1522.3 200.2h4.9M1529.6 200.2h2.5M1534.5 200.2h4.9M1541.9 200.2h2.5M1549.2 200.2h2.5M1554.1 200.2h2.5M1559 200.2h4.9M1571.3 200.2h2.5M1578.6 200.2h2.5M1583.5 200.2h2.5M1593.3 200.2h2.5M1603.1 200.2h2.5M1463.5 202.7h4.9M1480.6 202.7h2.5M1485.5 202.7h7.4M1495.3 202.7h2.5M1500.2 202.7h2.5M1505.1 202.7h12.2M1519.8 202.7h2.5M1529.6 202.7h2.5M1539.4 202.7h4.9M1561.5 202.7h2.5M1426.7 205.1h2.5M1431.6 205.1h2.5M1463.5 205.1h2.5M1468.4 205.1h2.5M1473.3 205.1h2.5M1478.2 205.1h4.9M1488 205.1h2.5M1492.9 205.1h4.9M1502.7 205.1h9.8M1514.9 205.1h2.5M1519.8 205.1h7.4M1532.1 205.1h2.5M1537 205.1h4.9M1544.3 205.1h2.5M1549.2 205.1h2.5M1563.9 205.1h2.5M1576.2 205.1h2.5M1590.9 205.1h2.5M1341 207.6h2.5M1387.5 207.6h2.5M1453.7 207.6h4.9M1475.7 207.6h2.5M1492.9 207.6h7.4M1502.7 207.6h2.5M1507.6 207.6h2.5M1514.9 207.6h4.9M1527.2 207.6h2.5M1532.1 207.6h2.5M1539.4 207.6h2.5M1546.8 207.6h4.9M1554.1 207.6h2.5M1561.5 207.6h2.5M1573.7 207.6h2.5M1593.3 207.6h2.5M1603.1 207.6h2.5M1470.8 210h2.5M1488 210h2.5M1495.3 210h2.5M1505.1 210h2.5M1510 210h12.2M1524.7 210h4.9M1532.1 210h4.9M1539.4 210h2.5M1549.2 210h2.5M1559 210h4.9M1566.4 210h2.5M1576.2 210h2.5M1590.9 210h2.5M1441.4 212.5h2.5M1451.2 212.5h2.5M1456.1 212.5h2.5M1461 212.5h2.5M1475.7 212.5h4.9M1483.1 212.5h2.5M1495.3 212.5h7.4M1512.5 212.5h2.5M1517.4 212.5h2.5M1527.2 212.5h2.5M1539.4 212.5h4.9M1556.6 212.5h2.5M1561.5 212.5h2.5M1583.5 212.5h2.5M1603.1 212.5h2.5M1461 214.9h2.5M1478.2 214.9h2.5M1488 214.9h2.5M1514.9 214.9h2.5M1551.7 214.9h2.5M1588.4 214.9h2.5M1461 217.4h2.5M1490.4 217.4h2.5M1502.7 217.4h2.5M1524.7 217.4h2.5M1532.1 217.4h2.5M1559 217.4h2.5M1495.3 219.8h2.5M1524.7 219.8h2.5M1556.6 219.8h2.5M1563.9 219.8h2.5M1568.8 219.8h2.5M1490.4 222.2h2.5M1497.8 222.2h4.9M1505.1 222.2h2.5M1512.5 222.2h2.5M1576.2 222.2h4.9M1456.1 224.7h2.5M1485.5 224.7h2.5M1505.1 227.2h2.5M1544.3 229.6h2.5M1465.9 234.5h2.5M1497.8 237h2.5M1524.7 241.9h2.5M1537 249.2h2.5M1492.9 256.6h2.5M1551.7 268.8h2.5M1563.9 276.1h2.5" stroke="#0000ff" stroke-width="2.5" fill="none"/>
<path d="M1261.05 94H1271.05M1261.05 176H1271.05M1261.05 265H1271.05M1265.55 151.32H1271.05M1265.55 136.88H1271.05M1265.55 126.63H1271.05M1265.55 118.68H1271.05M1265.55 112.19H1271.05M1265.55 106.7H1271.05M1265.55 101.95H1271.05M1265.55 97.75H1271.05M1265.55 238.21H1271.05M1265.55 222.54H1271.05M1265.55 211.42H1271.05M1265.55 202.79H1271.05M1265.55 195.74H1271.05M1265.55 189.79H1271.05M1265.55 184.62H1271.05M1265.55 180.07H1271.05M1265.55 325.11H1271.05M1265.55 309.97H1271.05M1265.55 299.22H1271.05M1265.55 290.89H1271.05M1265.55 284.08H1271.05M1265.55 278.32H1271.05M1265.55 273.33H1271.05M1265.55 268.94H1271.05" stroke="#333" stroke-width="1.3" fill="none"/>
<path d="M1261.05 351H1271.05M1265.55 353.31H1271.05M1265.55 355.61H1271.05M1265.55 357.92H1271.05M1265.55 360.22H1271.05M1265.55 362.53H1271.05M1265.55 364.83H1271.05M1265.55 367.14H1271.05M1261.05 369.44H1271.05M1261.05 371.75H1271.05M1261.05 374.06H1271.05M1261.05 376.36H1271.05M1265.55 378.67H1271.05M1265.55 380.97H1271.05M1265.55 383.28H1271.05M1265.55 385.58H1271.05M1265.55 387.89H1271.05M1265.55 390.19H1271.05M1261.05 392.5H1271.05" stroke="#333" stroke-width="1.3" fill="none" opacity="0.85"/>
<path d="M1306.5 432.8V442.8M1349.5 432.8V442.8M1432 432.8V442.8M1519.5 432.8V442.8M1600.4 432.8V442.8M1374.33 432.8V437.3M1388.86 432.8V437.3M1399.17 432.8V437.3M1407.17 432.8V437.3M1413.7 432.8V437.3M1419.22 432.8V437.3M1424 432.8V437.3M1428.23 432.8V437.3M1458.34 432.8V437.3M1473.75 432.8V437.3M1484.68 432.8V437.3M1493.16 432.8V437.3M1500.09 432.8V437.3M1505.95 432.8V437.3M1511.02 432.8V437.3M1515.5 432.8V437.3M1543.85 432.8V437.3M1558.1 432.8V437.3M1568.21 432.8V437.3M1576.05 432.8V437.3M1582.45 432.8V437.3M1587.87 432.8V437.3M1592.56 432.8V437.3M1596.7 432.8V437.3" stroke="#333" stroke-width="1.3" fill="none"/>
<path d="M1308.65 432.8V436.3M1310.8 432.8V436.3M1312.95 432.8V436.3M1315.1 432.8V436.3M1317.25 432.8V436.3M1319.4 432.8V436.3M1321.55 432.8V436.3M1323.7 432.8V436.3M1325.85 432.8V442.8M1328 432.8V442.8M1330.15 432.8V442.8M1332.3 432.8V436.3M1334.45 432.8V436.3M1336.6 432.8V436.3M1338.75 432.8V436.3M1340.9 432.8V436.3M1343.05 432.8V436.3M1345.2 432.8V436.3M1347.35 432.8V436.3" stroke="#333" stroke-width="1.3" fill="none" opacity="0.85"/>
<line x1="1273.5" y1="59.6" x2="1635.6" y2="59.6" stroke="#2a2a2a" stroke-width="1.7"/>
<line x1="1634.8" y1="59.6" x2="1634.8" y2="429.8" stroke="#2a2a2a" stroke-width="1.7"/>
<line x1="1401.4" y1="59.6" x2="1401.4" y2="429.8" stroke="#111" stroke-width="1.5"/>
<line x1="1273.5" y1="306" x2="1634.8" y2="306" stroke="#111" stroke-width="1.5"/>
<path d="M1273.5 59.1V429.8H1636" fill="none" stroke="#000" stroke-width="5.45" stroke-linecap="round" stroke-linejoin="round"/>
<rect x="1271.05" y="61.6" width="4.9" height="370.2" fill="#000"/>
<rect x="1272.05" y="426.8" width="362.75" height="6" fill="#000"/>
<text transform="translate(1387.43 498.2) scale(0.8961 1)" font-size="28.5" fill="#262626" word-spacing="-3.5" stroke="#262626" stroke-width="0.3">CD7 APC-A</text>
<text transform="translate(1208.4 330.86) rotate(-90) scale(0.9702 1)" font-size="27" fill="#262626" word-spacing="-1" stroke="#262626" stroke-width="0.3">CD3 PE-Cy7-A</text>
<text transform="translate(1287.97 473) scale(0.8771 1)" font-size="20" fill="#2c2530">-10</text>
<text x="1316.5" y="465.8" font-size="17.8" fill="#2c2530">2</text>
<text transform="translate(1336.66 473) scale(0.7950 1)" font-size="20" fill="#2c2530">10</text>
<text x="1356.8" y="465.8" font-size="17.8" fill="#2c2530">2</text>
<text transform="translate(1420.16 473) scale(0.7950 1)" font-size="20" fill="#2c2530">10</text>
<text x="1440.3" y="465.8" font-size="17.8" fill="#2c2530">3</text>
<text transform="translate(1507.16 473) scale(0.7950 1)" font-size="20" fill="#2c2530">10</text>
<text x="1527.3" y="465.8" font-size="17.8" fill="#2c2530">4</text>
<text transform="translate(1588.36 473) scale(0.7950 1)" font-size="20" fill="#2c2530">10</text>
<text x="1608.5" y="465.8" font-size="17.8" fill="#2c2530">5</text>
<text transform="translate(1229.57 189.8) scale(0.7846 1)" font-size="19.5" fill="#2c2530">10</text>
<text transform="translate(1247.53 182.1) scale(0.8324 1)" font-size="18.5" fill="#2c2530">4</text>
<text transform="translate(1229.57 278.8) scale(0.7846 1)" font-size="19.5" fill="#2c2530">10</text>
<text transform="translate(1247.29 271.1) scale(0.8800 1)" font-size="18.5" fill="#2c2530">3</text>
<text transform="translate(1229.57 384.5) scale(0.7846 1)" font-size="19.5" fill="#2c2530">10</text>
<text transform="translate(1246.51 376.8) scale(0.9625 1)" font-size="18.5" fill="#2c2530">1</text>
<text transform="translate(1222.1 407) scale(0.8710 1)" font-size="19.5" fill="#2c2530">-10</text>
<text transform="translate(1247.02 399.3) scale(0.9333 1)" font-size="18.5" fill="#2c2530">2</text>
<text transform="translate(1540.18 62) scale(0.9678 1)" font-size="31.3" fill="#000" font-weight="bold">22.3%</text>
<text transform="translate(1175.98 91.1) scale(0.9839 1)" font-size="31.3" fill="#000" font-weight="bold">1.5%</text>
<text transform="translate(1176.39 461.4) scale(0.9612 1)" font-size="31.3" fill="#000" font-weight="bold">5.3%</text>
<text transform="translate(1537.43 461.6) scale(0.9741 1)" font-size="31.3" fill="#000" font-weight="bold">70.9%</text>
<rect x="1247.5" y="93" width="9" height="8" fill="#fff"/>
<text transform="translate(1229.57 107.8) scale(0.7846 1)" font-size="19.5" fill="#2c2530">10</text>
<text transform="translate(1247.29 100.1) scale(0.8800 1)" font-size="18.5" fill="#2c2530">5</text>
<text transform="translate(1166.58 33.6) scale(0.7867 1)" font-size="46.8" fill="#000" stroke="#000" stroke-width="0.5">C</text>
<path d="M265.5 600.4h2.5M277.8 607.7h2.5M219 688.5h2.5M223.9 710.6h2.5M145.5 715.5h2.5M189.6 715.5h2.5M201.8 715.5h2.5M189.6 718h2.5M201.8 718h2.5M155.3 720.4h2.5M187.1 720.4h2.5M192 720.4h2.5M221.4 720.4h2.5M150.4 722.9h2.5M182.2 722.9h2.5M187.1 722.9h2.5M194.5 722.9h2.5M253.3 722.9h2.5M182.2 725.3h2.5M187.1 725.3h2.5M199.4 725.3h2.5M211.6 725.3h2.5M226.3 725.3h2.5M157.7 727.8h2.5M177.3 727.8h4.9M187.1 727.8h2.5M196.9 727.8h2.5M165.1 730.2h2.5M174.9 730.2h4.9M199.4 730.2h2.5M167.5 732.6h2.5M187.1 732.6h2.5M253.3 732.6h2.5M177.3 735.1h2.5M184.7 735.1h2.5M192 735.1h2.5M209.2 735.1h2.5M143 737.5h4.9M162.6 737.5h2.5M167.5 737.5h2.5M174.9 737.5h4.9M187.1 737.5h2.5M196.9 737.5h2.5M214.1 737.5h2.5M228.8 737.5h2.5M152.8 740h2.5M172.4 740h7.4M182.2 740h4.9M192 740h4.9M201.8 740h2.5M157.7 742.5h2.5M167.5 742.5h4.9M189.6 742.5h2.5M199.4 742.5h2.5M204.3 742.5h2.5M216.5 742.5h2.5M157.7 744.9h4.9M165.1 744.9h2.5M172.4 744.9h2.5M194.5 744.9h4.9M206.7 744.9h2.5M238.6 744.9h2.5M155.3 747.4h2.5M160.2 747.4h4.9M170 747.4h9.8M182.2 747.4h4.9M189.6 747.4h2.5M204.3 747.4h2.5M140.6 749.8h2.5M160.2 749.8h2.5M170 749.8h2.5M179.8 749.8h4.9M192 749.8h2.5M211.6 749.8h4.9M143 752.2h2.5M162.6 752.2h4.9M177.3 752.2h2.5M182.2 752.2h2.5M187.1 752.2h7.4M199.4 752.2h2.5M209.2 752.2h2.5M250.8 752.2h2.5M147.9 754.7h4.9M160.2 754.7h2.5M167.5 754.7h2.5M174.9 754.7h2.5M184.7 754.7h2.5M201.8 754.7h2.5M140.6 757.1h2.5M152.8 757.1h2.5M187.1 757.1h2.5M201.8 757.1h2.5M253.3 757.1h2.5M143 759.6h2.5M147.9 759.6h2.5M170 759.6h4.9M182.2 759.6h4.9M189.6 759.6h14.7M209.2 759.6h2.5M221.4 759.6h2.5M231.2 759.6h2.5M145.5 762h2.5M162.6 762h2.5M174.9 762h2.5M179.8 762h17.2M199.4 762h4.9M228.8 762h2.5M160.2 764.5h2.5M165.1 764.5h4.9M182.2 764.5h9.8M236.1 764.5h2.5M268 764.5h2.5M275.3 764.5h2.5M157.7 767h2.5M165.1 767h2.5M177.3 767h2.5M184.7 767h4.9M192 767h4.9M201.8 767h2.5M221.4 767h2.5M253.3 767h2.5M160.2 769.4h2.5M165.1 769.4h2.5M174.9 769.4h4.9M187.1 769.4h2.5M206.7 769.4h2.5M260.6 769.4h2.5M165.1 771.9h4.9M199.4 771.9h2.5M160.2 774.3h2.5M167.5 774.3h4.9M174.9 774.3h7.4M184.7 774.3h2.5M196.9 774.3h2.5M277.8 774.3h2.5M157.7 776.8h2.5M170 776.8h2.5M177.3 776.8h2.5M184.7 776.8h2.5M189.6 776.8h12.2M292.5 776.8h2.5M150.4 779.2h2.5M157.7 779.2h4.9M167.5 779.2h2.5M179.8 779.2h2.5M187.1 779.2h2.5M192 779.2h2.5M199.4 779.2h2.5M143 781.6h2.5M152.8 781.6h2.5M162.6 781.6h2.5M170 781.6h4.9M177.3 781.6h2.5M182.2 781.6h2.5M187.1 781.6h2.5M192 781.6h4.9M201.8 781.6h7.4M214.1 781.6h2.5M265.5 781.6h2.5M160.2 784.1h2.5M167.5 784.1h2.5M172.4 784.1h2.5M182.2 784.1h4.9M189.6 784.1h4.9M204.3 784.1h2.5M211.6 784.1h2.5M304.7 784.1h2.5M157.7 786.5h2.5M170 786.5h2.5M177.3 786.5h2.5M182.2 786.5h2.5M187.1 786.5h2.5M201.8 786.5h9.8M302.3 786.5h2.5M167.5 789h2.5M174.9 789h2.5M179.8 789h2.5M184.7 789h2.5M192 789h7.4M204.3 789h4.9M211.6 789h2.5M280.2 789h2.5M147.9 791.5h2.5M162.6 791.5h7.4M172.4 791.5h2.5M187.1 791.5h7.4M216.5 791.5h2.5M223.9 791.5h2.5M270.4 791.5h2.5M167.5 793.9h2.5M184.7 793.9h2.5M199.4 793.9h4.9M206.7 793.9h2.5M214.1 793.9h2.5M238.6 793.9h2.5M150.4 796.4h4.9M170 796.4h7.4M179.8 796.4h9.8M192 796.4h4.9M201.8 796.4h2.5M260.6 796.4h2.5M265.5 796.4h2.5M143 798.8h2.5M150.4 798.8h2.5M170 798.8h4.9M177.3 798.8h2.5M187.1 798.8h2.5M194.5 798.8h7.4M211.6 798.8h2.5M221.4 798.8h2.5M231.2 798.8h2.5M275.3 798.8h4.9M152.8 801.2h7.4M167.5 801.2h2.5M172.4 801.2h2.5M177.3 801.2h2.5M184.7 801.2h7.4M196.9 801.2h4.9M268 801.2h2.5M287.6 801.2h2.5M294.9 801.2h2.5M165.1 803.7h2.5M174.9 803.7h7.4M184.7 803.7h4.9M201.8 803.7h2.5M206.7 803.7h2.5M214.1 803.7h2.5M250.8 803.7h2.5M270.4 803.7h4.9M280.2 803.7h2.5M299.8 803.7h2.5M155.3 806.1h2.5M160.2 806.1h2.5M165.1 806.1h2.5M170 806.1h9.8M206.7 806.1h2.5M216.5 806.1h2.5M147.9 808.6h2.5M155.3 808.6h2.5M162.6 808.6h2.5M170 808.6h2.5M179.8 808.6h7.4M189.6 808.6h2.5M236.1 808.6h2.5M280.2 808.6h2.5M309.6 808.6h2.5M155.3 811h2.5M167.5 811h7.4M177.3 811h4.9M184.7 811h2.5M189.6 811h2.5M196.9 811h4.9M214.1 811h2.5M258.2 811h2.5M138.1 813.5h2.5M162.6 813.5h12.2M177.3 813.5h2.5M182.2 813.5h7.4M199.4 813.5h2.5M209.2 813.5h2.5M253.3 813.5h2.5M297.4 813.5h2.5M162.6 816h2.5M167.5 816h2.5M172.4 816h9.8M192 816h2.5M231.2 816h2.5M275.3 816h2.5M167.5 818.4h7.4M179.8 818.4h2.5M184.7 818.4h2.5M194.5 818.4h4.9M201.8 818.4h2.5M250.8 818.4h2.5M275.3 818.4h2.5M307.2 818.4h2.5M319.4 818.4h2.5M157.7 820.9h2.5M167.5 820.9h4.9M174.9 820.9h4.9M182.2 820.9h2.5M199.4 820.9h2.5M223.9 820.9h2.5M238.6 820.9h2.5M243.5 820.9h2.5M292.5 820.9h4.9M155.3 823.3h2.5M160.2 823.3h2.5M165.1 823.3h2.5M174.9 823.3h9.8M187.1 823.3h2.5M199.4 823.3h4.9M211.6 823.3h2.5M265.5 823.3h4.9M309.6 823.3h2.5M155.3 825.8h2.5M162.6 825.8h2.5M174.9 825.8h2.5M179.8 825.8h7.4M255.7 825.8h2.5M265.5 825.8h2.5M290 825.8h4.9M319.4 825.8h2.5M162.6 828.2h2.5M170 828.2h7.4M179.8 828.2h7.4M189.6 828.2h2.5M211.6 828.2h2.5M216.5 828.2h2.5M245.9 828.2h2.5M152.8 830.6h4.9M160.2 830.6h2.5M167.5 830.6h2.5M172.4 830.6h17.2M192 830.6h7.4M206.7 830.6h2.5M260.6 830.6h2.5M282.7 830.6h2.5M319.4 830.6h2.5M334.1 830.6h2.5M150.4 833.1h2.5M157.7 833.1h34.3M194.5 833.1h4.9M268 833.1h2.5M290 833.1h2.5M152.8 835.5h4.9M160.2 835.5h29.4M192 835.5h2.5M196.9 835.5h2.5M204.3 835.5h7.4M270.4 835.5h2.5M152.8 838h2.5M157.7 838h34.3M196.9 838h2.5M204.3 838h2.5M211.6 838h2.5M260.6 838h2.5M299.8 838h2.5M157.7 840.5h14.7M174.9 840.5h22.1M211.6 840.5h2.5M282.7 840.5h2.5M304.7 840.5h2.5M312.1 840.5h4.9M140.6 842.9h2.5M150.4 842.9h2.5M155.3 842.9h41.7M206.7 842.9h2.5M214.1 842.9h2.5M226.3 842.9h2.5M241 842.9h2.5M260.6 842.9h4.9M270.4 842.9h2.5M277.8 842.9h2.5M285.1 842.9h2.5M297.4 842.9h2.5M147.9 845.4h17.2M167.5 845.4h22.1M194.5 845.4h2.5M253.3 845.4h2.5M277.8 845.4h2.5M290 845.4h4.9M152.8 847.8h4.9M160.2 847.8h34.3M201.8 847.8h2.5M211.6 847.8h2.5M290 847.8h2.5M304.7 847.8h2.5M147.9 850.2h2.5M152.8 850.2h34.3M189.6 850.2h7.4M260.6 850.2h2.5M307.2 850.2h2.5M314.5 850.2h2.5M152.8 852.7h44.1M221.4 852.7h4.9M231.2 852.7h2.5M241 852.7h2.5M263.1 852.7h2.5M285.1 852.7h2.5M294.9 852.7h2.5M147.9 855.2h12.2M162.6 855.2h29.4M194.5 855.2h2.5M223.9 855.2h2.5M263.1 855.2h2.5M280.2 855.2h2.5M152.8 857.6h17.2M172.4 857.6h2.5M177.3 857.6h17.2M196.9 857.6h7.4M214.1 857.6h2.5M130.8 860h2.5M140.6 860h56.4M258.2 860h2.5M147.9 862.5h17.2M167.5 862.5h14.7M184.7 862.5h9.8M196.9 862.5h2.5M248.4 862.5h2.5M292.5 862.5h2.5M150.4 865h4.9M157.7 865h39.2M143 867.4h36.8M182.2 867.4h9.8M196.9 867.4h2.5M201.8 867.4h2.5M263.1 867.4h2.5M280.2 867.4h2.5M145.5 869.9h26.9M174.9 869.9h22.1M263.1 869.9h2.5M140.6 872.3h4.9M147.9 872.3h46.6M299.8 872.3h2.5M147.9 874.8h2.5M152.8 874.8h39.2M199.4 874.8h2.5M219 874.8h2.5M143 877.2h7.4M152.8 877.2h2.5M157.7 877.2h26.9M187.1 877.2h7.4M145.5 879.7h7.4M155.3 879.7h26.9M184.7 879.7h7.4M199.4 879.7h2.5M125.9 882.1h2.5M143 882.1h2.5M150.4 882.1h49M282.7 882.1h2.5M143 884.5h2.5M150.4 884.5h24.5M177.3 884.5h12.2M201.8 884.5h2.5M260.6 884.5h2.5M140.6 887h9.8M152.8 887h12.2M167.5 887h22.1M140.6 889.5h2.5M147.9 889.5h2.5M152.8 889.5h24.5M179.8 889.5h7.4M196.9 889.5h2.5M140.6 891.9h2.5M145.5 891.9h2.5M152.8 891.9h12.2M167.5 891.9h7.4M177.3 891.9h9.8M192 891.9h2.5M199.4 891.9h2.5M268 891.9h2.5M285.1 891.9h2.5M140.6 894.4h2.5M147.9 894.4h12.2M162.6 894.4h19.6M184.7 894.4h7.4M147.9 896.8h44.1M216.5 896.8h2.5M150.4 899.2h2.5M155.3 899.2h7.4M165.1 899.2h7.4M174.9 899.2h7.4M184.7 899.2h7.4M150.4 901.7h2.5M155.3 901.7h2.5M160.2 901.7h7.4M170 901.7h2.5M174.9 901.7h7.4M189.6 901.7h2.5M133.2 904.2h2.5M150.4 904.2h2.5M167.5 904.2h4.9M174.9 904.2h4.9M182.2 904.2h2.5M143 906.6h2.5M162.6 906.6h2.5M182.2 906.6h2.5M187.1 906.6h2.5M145.5 909h4.9M167.5 909h2.5M184.7 909h7.4M209.2 909h2.5M147.9 911.5h2.5M155.3 911.5h2.5M187.1 911.5h2.5M174.9 914h2.5M219 914h2.5M170 916.4h2.5M187.1 916.4h2.5M152.8 921.3h2.5" stroke="#808080" stroke-width="2.5" fill="none"/>
<path d="M228.8 595.5h2.5M243.5 600.4h2.5M231.2 602.8h2.5M231.2 605.2h2.5M238.6 605.2h4.9M138.1 615h2.5M194.5 615h2.5M245.9 615h2.5M138.1 617.5h2.5M167.5 617.5h2.5M174.9 617.5h2.5M211.6 617.5h2.5M140.6 620h2.5M150.4 620h2.5M165.1 620h4.9M199.4 620h4.9M206.7 620h9.8M228.8 620h2.5M238.6 620h2.5M111.2 622.4h2.5M130.8 622.4h7.4M152.8 622.4h4.9M162.6 622.4h17.2M184.7 622.4h4.9M209.2 622.4h2.5M219 622.4h4.9M226.3 622.4h2.5M233.7 622.4h2.5M111.2 624.9h2.5M118.5 624.9h4.9M130.8 624.9h2.5M138.1 624.9h7.4M147.9 624.9h4.9M160.2 624.9h4.9M167.5 624.9h14.7M187.1 624.9h22.1M211.6 624.9h9.8M233.7 624.9h2.5M118.5 627.3h2.5M125.9 627.3h4.9M133.2 627.3h9.8M145.5 627.3h68.6M216.5 627.3h9.8M231.2 627.3h2.5M241 627.3h2.5M245.9 627.3h2.5M111.2 629.8h2.5M116.1 629.8h2.5M121 629.8h2.5M125.9 629.8h93.1M221.4 629.8h4.9M238.6 629.8h2.5M113.6 632.2h115.2M236.1 632.2h2.5M241 632.2h2.5M108.7 634.6h115.2M228.8 634.6h4.9M238.6 634.6h2.5M243.5 634.6h2.5M111.2 637.1h115.2M233.7 637.1h9.8M248.4 637.1h2.5M111.2 639.5h115.2M228.8 639.5h7.4M238.6 639.5h2.5M108.7 642h2.5M113.6 642h122.5M241 642h2.5M108.7 644.5h120.1M233.7 644.5h2.5M106.3 646.9h2.5M111.2 646.9h122.5M108.7 649.4h117.6M233.7 649.4h2.5M111.2 651.8h112.7M116.1 654.2h110.3M228.8 654.2h7.4M241 654.2h2.5M108.7 656.7h120.1M233.7 656.7h2.5M118.5 659.1h107.8M233.7 659.1h2.5M243.5 659.1h2.5M116.1 661.6h105.4M223.9 661.6h2.5M116.1 664h2.5M123.4 664h102.9M231.2 664h2.5M241 664h2.5M121 666.5h107.8M241 666.5h2.5M118.5 669h105.4M116.1 671.4h2.5M121 671.4h102.9M108.7 673.9h2.5M121 673.9h4.9M128.3 673.9h93.1M226.3 673.9h2.5M125.9 676.3h2.5M130.8 676.3h95.6M231.2 676.3h2.5M123.4 678.8h102.9M116.1 681.2h2.5M123.4 681.2h2.5M128.3 681.2h49M179.8 681.2h44.1M128.3 683.6h2.5M133.2 683.6h85.8M221.4 683.6h2.5M231.2 683.6h2.5M123.4 686.1h2.5M133.2 686.1h78.4M214.1 686.1h2.5M128.3 688.5h2.5M133.2 688.5h49M184.7 688.5h29.4M125.9 691h2.5M135.7 691h76M138.1 693.5h78.4M133.2 695.9h2.5M140.6 695.9h71.1M143 698.4h24.5M170 698.4h41.7M130.8 700.8h2.5M140.6 700.8h68.6M140.6 703.2h61.3M204.3 703.2h2.5M147.9 705.7h34.3M184.7 705.7h19.6M145.5 708.1h4.9M152.8 708.1h51.5M152.8 710.6h51.5M150.4 713h26.9M179.8 713h19.6M150.4 715.5h4.9M160.2 715.5h29.4M147.9 718h2.5M155.3 718h34.3M147.9 720.4h2.5M157.7 720.4h29.4M162.6 722.9h17.2M184.7 722.9h2.5M167.5 725.3h4.9M177.3 725.3h4.9M162.6 727.8h4.9M174.9 727.8h2.5M182.2 727.8h2.5M170 732.6h2.5M182.2 732.6h2.5" stroke="#ff00ff" stroke-width="2.5" fill="none"/>
<path d="M307.2 629.8h2.5M341.5 632.2h2.5M324.3 637.1h2.5M312.1 639.5h2.5M329.2 642h2.5M361.1 644.5h2.5M383.1 644.5h2.5M329.2 646.9h2.5M336.6 646.9h2.5M380.7 646.9h2.5M348.8 649.4h4.9M356.2 649.4h2.5M363.5 649.4h2.5M373.3 649.4h4.9M334.1 651.8h2.5M356.2 651.8h2.5M375.8 651.8h2.5M383.1 651.8h2.5M392.9 651.8h2.5M400.3 651.8h2.5M255.7 654.2h2.5M317 654.2h2.5M326.8 654.2h2.5M331.7 654.2h2.5M336.6 654.2h9.8M351.3 654.2h2.5M370.9 654.2h4.9M378.2 654.2h2.5M383.1 654.2h2.5M388 654.2h4.9M400.3 654.2h2.5M324.3 656.7h2.5M329.2 656.7h7.4M341.5 656.7h4.9M348.8 656.7h2.5M353.7 656.7h2.5M358.6 656.7h2.5M375.8 656.7h4.9M388 656.7h2.5M397.8 656.7h2.5M405.2 656.7h2.5M324.3 659.1h2.5M329.2 659.1h2.5M334.1 659.1h14.7M353.7 659.1h2.5M361.1 659.1h9.8M375.8 659.1h2.5M380.7 659.1h2.5M385.6 659.1h7.4M395.4 659.1h2.5M307.2 661.6h2.5M312.1 661.6h9.8M324.3 661.6h7.4M334.1 661.6h14.7M351.3 661.6h4.9M358.6 661.6h7.4M368.4 661.6h7.4M378.2 661.6h4.9M385.6 661.6h2.5M390.5 661.6h2.5M307.2 664h4.9M314.5 664h2.5M319.4 664h2.5M324.3 664h4.9M331.7 664h12.2M346.4 664h2.5M351.3 664h2.5M356.2 664h9.8M368.4 664h17.2M390.5 664h4.9M299.8 666.5h2.5M314.5 666.5h2.5M321.9 666.5h7.4M331.7 666.5h4.9M339 666.5h26.9M368.4 666.5h12.2M383.1 666.5h9.8M304.7 669h2.5M312.1 669h12.2M326.8 669h2.5M334.1 669h2.5M339 669h4.9M348.8 669h9.8M361.1 669h4.9M368.4 669h24.5M395.4 669h2.5M402.7 669h2.5M307.2 671.4h19.6M329.2 671.4h24.5M356.2 671.4h2.5M361.1 671.4h14.7M378.2 671.4h2.5M383.1 671.4h9.8M395.4 671.4h4.9M285.1 673.9h2.5M307.2 673.9h7.4M319.4 673.9h4.9M326.8 673.9h14.7M343.9 673.9h2.5M348.8 673.9h4.9M356.2 673.9h17.2M375.8 673.9h2.5M380.7 673.9h4.9M388 673.9h7.4M405.2 673.9h2.5M277.8 676.3h2.5M287.6 676.3h2.5M299.8 676.3h2.5M304.7 676.3h2.5M309.6 676.3h2.5M314.5 676.3h4.9M321.9 676.3h22.1M346.4 676.3h4.9M353.7 676.3h17.2M373.3 676.3h7.4M383.1 676.3h2.5M388 676.3h2.5M395.4 676.3h4.9M245.9 678.8h2.5M268 678.8h2.5M297.4 678.8h4.9M304.7 678.8h24.5M331.7 678.8h2.5M336.6 678.8h4.9M343.9 678.8h2.5M348.8 678.8h12.2M363.5 678.8h31.9M177.3 681.2h2.5M263.1 681.2h2.5M280.2 681.2h4.9M292.5 681.2h2.5M302.3 681.2h9.8M314.5 681.2h7.4M324.3 681.2h22.1M348.8 681.2h9.8M361.1 681.2h2.5M366 681.2h29.4M292.5 683.6h49M343.9 683.6h19.6M366 683.6h24.5M211.6 686.1h2.5M270.4 686.1h2.5M282.7 686.1h4.9M292.5 686.1h26.9M324.3 686.1h7.4M334.1 686.1h2.5M339 686.1h7.4M348.8 686.1h4.9M356.2 686.1h17.2M375.8 686.1h4.9M385.6 686.1h4.9M395.4 686.1h2.5M415 686.1h2.5M182.2 688.5h2.5M287.6 688.5h9.8M299.8 688.5h7.4M309.6 688.5h4.9M317 688.5h2.5M324.3 688.5h7.4M336.6 688.5h2.5M343.9 688.5h14.7M361.1 688.5h2.5M368.4 688.5h26.9M211.6 691h2.5M280.2 691h2.5M287.6 691h2.5M292.5 691h4.9M299.8 691h4.9M307.2 691h4.9M314.5 691h9.8M326.8 691h17.2M346.4 691h2.5M351.3 691h4.9M358.6 691h4.9M368.4 691h19.6M390.5 691h2.5M395.4 691h4.9M270.4 693.5h2.5M275.3 693.5h2.5M282.7 693.5h2.5M287.6 693.5h17.2M307.2 693.5h2.5M312.1 693.5h7.4M321.9 693.5h2.5M326.8 693.5h7.4M336.6 693.5h29.4M368.4 693.5h12.2M383.1 693.5h2.5M388 693.5h4.9M395.4 693.5h2.5M138.1 695.9h2.5M263.1 695.9h4.9M280.2 695.9h17.2M299.8 695.9h2.5M304.7 695.9h9.8M317 695.9h22.1M341.5 695.9h12.2M356.2 695.9h22.1M385.6 695.9h4.9M167.5 698.4h2.5M236.1 698.4h2.5M258.2 698.4h4.9M272.9 698.4h2.5M282.7 698.4h14.7M299.8 698.4h7.4M309.6 698.4h14.7M326.8 698.4h2.5M339 698.4h2.5M346.4 698.4h2.5M353.7 698.4h24.5M383.1 698.4h2.5M388 698.4h2.5M270.4 700.8h4.9M282.7 700.8h2.5M290 700.8h12.2M304.7 700.8h2.5M312.1 700.8h7.4M321.9 700.8h19.6M343.9 700.8h9.8M356.2 700.8h7.4M366 700.8h12.2M383.1 700.8h2.5M253.3 703.2h2.5M265.5 703.2h2.5M270.4 703.2h2.5M275.3 703.2h2.5M280.2 703.2h9.8M292.5 703.2h36.8M331.7 703.2h7.4M341.5 703.2h17.2M361.1 703.2h4.9M368.4 703.2h12.2M383.1 703.2h4.9M392.9 703.2h2.5M135.7 705.7h2.5M182.2 705.7h2.5M270.4 705.7h2.5M275.3 705.7h2.5M280.2 705.7h7.4M290 705.7h7.4M299.8 705.7h2.5M307.2 705.7h4.9M314.5 705.7h2.5M319.4 705.7h2.5M324.3 705.7h7.4M334.1 705.7h14.7M351.3 705.7h12.2M366 705.7h17.2M209.2 708.1h2.5M255.7 708.1h2.5M280.2 708.1h4.9M290 708.1h2.5M294.9 708.1h29.4M326.8 708.1h12.2M341.5 708.1h4.9M348.8 708.1h7.4M358.6 708.1h2.5M363.5 708.1h2.5M368.4 708.1h4.9M375.8 708.1h7.4M388 708.1h2.5M275.3 710.6h12.2M290 710.6h22.1M314.5 710.6h7.4M324.3 710.6h9.8M339 710.6h12.2M353.7 710.6h26.9M395.4 710.6h2.5M177.3 713h2.5M248.4 713h2.5M260.6 713h2.5M265.5 713h4.9M280.2 713h14.7M297.4 713h9.8M309.6 713h9.8M321.9 713h29.4M353.7 713h12.2M368.4 713h2.5M373.3 713h2.5M192 715.5h2.5M265.5 715.5h4.9M277.8 715.5h2.5M282.7 715.5h17.2M304.7 715.5h7.4M314.5 715.5h2.5M321.9 715.5h14.7M343.9 715.5h12.2M361.1 715.5h9.8M375.8 715.5h2.5M243.5 718h2.5M282.7 718h2.5M287.6 718h22.1M312.1 718h14.7M329.2 718h9.8M341.5 718h22.1M366 718h4.9M373.3 718h4.9M189.6 720.4h2.5M228.8 720.4h2.5M248.4 720.4h2.5M290 720.4h12.2M304.7 720.4h9.8M317 720.4h2.5M321.9 720.4h26.9M351.3 720.4h4.9M358.6 720.4h2.5M370.9 720.4h2.5M383.1 720.4h2.5M245.9 722.9h2.5M258.2 722.9h2.5M282.7 722.9h4.9M292.5 722.9h12.2M307.2 722.9h2.5M314.5 722.9h2.5M321.9 722.9h7.4M336.6 722.9h2.5M341.5 722.9h2.5M346.4 722.9h9.8M366 722.9h2.5M370.9 722.9h2.5M270.4 725.3h2.5M290 725.3h4.9M297.4 725.3h2.5M307.2 725.3h2.5M326.8 725.3h2.5M334.1 725.3h12.2M348.8 725.3h2.5M356.2 725.3h2.5M368.4 725.3h2.5M123.4 727.8h2.5M150.4 727.8h2.5M290 727.8h2.5M302.3 727.8h2.5M309.6 727.8h2.5M314.5 727.8h2.5M321.9 727.8h7.4M334.1 727.8h4.9M361.1 727.8h2.5M366 727.8h2.5M128.3 730.2h2.5M133.2 730.2h2.5M162.6 730.2h2.5M317 730.2h4.9M331.7 730.2h2.5M343.9 730.2h2.5M356.2 730.2h2.5M373.3 730.2h2.5M174.9 732.6h2.5M268 732.6h2.5M282.7 732.6h4.9M314.5 732.6h4.9M287.6 735.1h4.9M204.3 737.5h2.5M143 740h2.5M317 740h2.5M329.2 740h2.5M172.4 742.5h2.5M194.5 747.4h2.5M177.3 749.8h2.5M196.9 754.7h2.5M174.9 757.1h2.5M179.8 757.1h2.5M206.7 759.6h2.5M285.1 791.5h2.5M329.2 796.4h2.5M302.3 798.8h2.5M375.8 801.2h2.5M324.3 806.1h2.5M314.5 808.6h2.5M368.4 808.6h2.5M358.6 811h2.5M375.8 813.5h2.5M388 818.4h2.5M375.8 820.9h2.5M339 830.6h2.5M272.9 833.1h2.5M277.8 835.5h2.5M287.6 838h2.5M282.7 855.2h2.5M348.8 865h2.5M373.3 865h2.5M351.3 867.4h2.5M383.1 867.4h2.5M285.1 882.1h2.5M383.1 884.5h2.5M302.3 887h2.5M385.6 887h2.5M388 894.4h2.5M280.2 901.7h2.5M309.6 901.7h2.5M353.7 906.6h2.5" stroke="#0000ff" stroke-width="2.5" fill="none"/>
<path d="M90.75 623H100.75M90.75 706.7H100.75M90.75 796.3H100.75M95.25 681.5H100.75M95.25 666.76H100.75M95.25 656.31H100.75M95.25 648.2H100.75M95.25 641.57H100.75M95.25 635.97H100.75M95.25 631.11H100.75M95.25 626.83H100.75M95.25 769.33H100.75M95.25 753.55H100.75M95.25 742.36H100.75M95.25 733.67H100.75M95.25 726.58H100.75M95.25 720.58H100.75M95.25 715.38H100.75M95.25 710.8H100.75M95.25 856.2H100.75M95.25 841.11H100.75M95.25 830.4H100.75M95.25 822.1H100.75M95.25 815.31H100.75M95.25 809.58H100.75M95.25 804.61H100.75M95.25 800.22H100.75" stroke="#333" stroke-width="1.3" fill="none"/>
<path d="M90.75 882H100.75M95.25 884.37H100.75M95.25 886.73H100.75M95.25 889.1H100.75M95.25 891.47H100.75M95.25 893.83H100.75M95.25 896.2H100.75M95.25 898.57H100.75M90.75 900.93H100.75M90.75 903.3H100.75M90.75 905.67H100.75M90.75 908.03H100.75M95.25 910.4H100.75M95.25 912.77H100.75M95.25 915.13H100.75M95.25 917.5H100.75M95.25 919.87H100.75M95.25 922.23H100.75M90.75 924.6H100.75" stroke="#333" stroke-width="1.3" fill="none" opacity="0.85"/>
<path d="M137 963.2V973.2M180 963.2V973.2M262.6 963.2V973.2M351.6 963.2V973.2M432 963.2V973.2M204.87 963.2V967.7M219.41 963.2V967.7M229.73 963.2V967.7M237.73 963.2V967.7M244.28 963.2V967.7M249.81 963.2V967.7M254.6 963.2V967.7M258.82 963.2V967.7M289.39 963.2V967.7M305.06 963.2V967.7M316.18 963.2V967.7M324.81 963.2V967.7M331.86 963.2V967.7M337.81 963.2V967.7M342.98 963.2V967.7M347.53 963.2V967.7M375.8 963.2V967.7M389.96 963.2V967.7M400.01 963.2V967.7M407.8 963.2V967.7M414.16 963.2V967.7M419.55 963.2V967.7M424.21 963.2V967.7M428.32 963.2V967.7" stroke="#333" stroke-width="1.3" fill="none"/>
<path d="M139.15 963.2V966.7M141.3 963.2V966.7M143.45 963.2V966.7M145.6 963.2V966.7M147.75 963.2V966.7M149.9 963.2V966.7M152.05 963.2V966.7M154.2 963.2V966.7M156.35 963.2V973.2M158.5 963.2V973.2M160.65 963.2V973.2M162.8 963.2V966.7M164.95 963.2V966.7M167.1 963.2V966.7M169.25 963.2V966.7M171.4 963.2V966.7M173.55 963.2V966.7M175.7 963.2V966.7M177.85 963.2V966.7" stroke="#333" stroke-width="1.3" fill="none" opacity="0.85"/>
<line x1="103.3" y1="590.2" x2="466.4" y2="590.2" stroke="#2a2a2a" stroke-width="1.7"/>
<line x1="465.6" y1="590.2" x2="465.6" y2="960.5" stroke="#2a2a2a" stroke-width="1.7"/>
<line x1="230.2" y1="590.2" x2="230.2" y2="960.5" stroke="#111" stroke-width="1.5"/>
<line x1="103.3" y1="807.9" x2="465.6" y2="807.9" stroke="#111" stroke-width="1.5"/>
<path d="M103.3 589.7V960.5H466.8" fill="none" stroke="#000" stroke-width="5.25" stroke-linecap="round" stroke-linejoin="round"/>
<rect x="100.75" y="592.2" width="5.1" height="370" fill="#000"/>
<rect x="101.75" y="957.8" width="363.85" height="5.4" fill="#000"/>
<text transform="translate(169.93 1029.6) scale(0.8960 1)" font-size="28.5" fill="#262626" word-spacing="-3.5" stroke="#262626" stroke-width="0.3">CD5 PerCP-Cy5-5-A</text>
<text transform="translate(37.6 843.75) rotate(-90) scale(0.8820 1)" font-size="27" fill="#262626" word-spacing="-1" stroke="#262626" stroke-width="0.3">CD2 APC-A</text>
<text transform="translate(117.67 1004.5) scale(0.8771 1)" font-size="20" fill="#2c2530">-10</text>
<text x="146.2" y="997.3" font-size="17.8" fill="#2c2530">2</text>
<text transform="translate(166.66 1004.5) scale(0.7950 1)" font-size="20" fill="#2c2530">10</text>
<text x="186.8" y="997.3" font-size="17.8" fill="#2c2530">2</text>
<text transform="translate(250.16 1004.5) scale(0.7950 1)" font-size="20" fill="#2c2530">10</text>
<text x="270.3" y="997.3" font-size="17.8" fill="#2c2530">3</text>
<text transform="translate(338.16 1004.5) scale(0.7950 1)" font-size="20" fill="#2c2530">10</text>
<text x="358.3" y="997.3" font-size="17.8" fill="#2c2530">4</text>
<text transform="translate(59.57 721.9) scale(0.7846 1)" font-size="19.5" fill="#2c2530">10</text>
<text transform="translate(77.53 714.2) scale(0.8324 1)" font-size="18.5" fill="#2c2530">4</text>
<text transform="translate(59.57 811.5) scale(0.7846 1)" font-size="19.5" fill="#2c2530">10</text>
<text transform="translate(77.29 803.8) scale(0.8800 1)" font-size="18.5" fill="#2c2530">3</text>
<text transform="translate(59.57 915.2) scale(0.7846 1)" font-size="19.5" fill="#2c2530">10</text>
<text transform="translate(76.51 907.5) scale(0.9625 1)" font-size="18.5" fill="#2c2530">1</text>
<text transform="translate(52.1 939) scale(0.8710 1)" font-size="19.5" fill="#2c2530">-10</text>
<text transform="translate(77.02 931.3) scale(0.9333 1)" font-size="18.5" fill="#2c2530">2</text>
<rect x="357" y="975" width="15" height="23" fill="#fff"/>
<rect x="362" y="962.8" width="45" height="13.2" fill="#fff"/>
<text transform="translate(1.08 621.7) scale(0.9747 1)" font-size="31.3" fill="#000" font-weight="bold">80.3%</text>
<text transform="translate(1.02 993.3) scale(0.9805 1)" font-size="31.3" fill="#000" font-weight="bold">6.5%</text>
<text transform="translate(362.43 993.3) scale(0.9747 1)" font-size="31.3" fill="#000" font-weight="bold">0.6%</text>
<rect x="77" y="622.5" width="9.5" height="9.5" fill="#fff"/>
<text transform="translate(59.57 638.2) scale(0.7846 1)" font-size="19.5" fill="#2c2530">10</text>
<text transform="translate(77.29 630.5) scale(0.8800 1)" font-size="18.5" fill="#2c2530">5</text>
<rect x="420.5" y="989" width="16.5" height="17" fill="#fff"/>
<text transform="translate(420.16 1004.5) scale(0.7950 1)" font-size="20" fill="#2c2530">10</text>
<text x="440.3" y="997.3" font-size="17.8" fill="#2c2530">5</text>
<text transform="translate(5.27 558.9) scale(0.8814 1)" font-size="46.8" fill="#000" stroke="#000" stroke-width="0.5">D</text>
<path d="M810.3 797.9h2.5M829.9 797.9h2.5M817.7 802.8h2.5M827.5 802.8h2.5M817.7 805.2h2.5M825 805.2h2.5M829.9 805.2h2.5M817.7 807.7h2.5M825 812.6h4.9M807.9 815h2.5M834.8 815h2.5M817.7 817.5h4.9M834.8 817.5h4.9M798.1 820h2.5M805.4 820h2.5M825 820h4.9M832.4 820h2.5M837.3 820h2.5M825 822.4h2.5M829.9 822.4h2.5M834.8 822.4h2.5M800.5 824.9h2.5M822.6 824.9h2.5M827.5 824.9h2.5M834.8 824.9h2.5M807.9 827.3h2.5M815.2 827.3h2.5M825 827.3h2.5M815.2 829.8h2.5M820.1 829.8h2.5M827.5 829.8h7.4M832.4 832.2h2.5M817.7 834.6h2.5M839.7 834.6h2.5M839.7 837.1h2.5M810.3 839.5h2.5M837.3 839.5h2.5M812.8 844.5h2.5M842.2 844.5h2.5M790.7 846.9h2.5M812.8 846.9h2.5M825 846.9h2.5M829.9 846.9h2.5M837.3 846.9h2.5M825 849.4h2.5M832.4 849.4h2.5M805.4 851.8h2.5M817.7 854.2h2.5M842.2 854.2h2.5M820.1 856.7h2.5M829.9 861.6h2.5M822.6 866.5h2.5M807.9 878.8h2.5M839.7 881.2h2.5" stroke="#808080" stroke-width="2.5" fill="none"/>
<path d="M829.9 817.5h2.5M852 829.8h2.5M751.5 832.2h2.5M829.9 834.6h2.5M856.9 834.6h2.5M827.5 837.1h2.5M739.3 839.5h2.5M756.4 839.5h2.5M768.7 839.5h2.5M773.6 839.5h2.5M778.5 839.5h2.5M785.8 839.5h2.5M734.4 842h4.9M744.2 842h2.5M758.9 842h4.9M766.2 842h9.8M785.8 842h2.5M793.2 842h2.5M800.5 842h2.5M861.8 842h2.5M739.3 844.5h4.9M746.6 844.5h2.5M751.5 844.5h2.5M758.9 844.5h2.5M763.8 844.5h12.2M778.5 844.5h2.5M785.8 844.5h4.9M793.2 844.5h2.5M800.5 844.5h2.5M807.9 844.5h2.5M729.5 846.9h2.5M741.7 846.9h7.4M751.5 846.9h7.4M763.8 846.9h26.9M795.6 846.9h2.5M815.2 846.9h2.5M842.2 846.9h2.5M731.9 849.4h2.5M739.3 849.4h2.5M744.2 849.4h2.5M749.1 849.4h39.2M790.7 849.4h7.4M800.5 849.4h2.5M805.4 849.4h2.5M817.7 849.4h2.5M822.6 849.4h2.5M829.9 849.4h2.5M852 849.4h2.5M856.9 849.4h2.5M729.5 851.8h41.7M773.6 851.8h26.9M807.9 851.8h2.5M820.1 851.8h2.5M827.5 851.8h2.5M834.8 851.8h2.5M839.7 851.8h4.9M864.2 851.8h2.5M724.6 854.2h7.4M734.4 854.2h12.2M749.1 854.2h24.5M776 854.2h17.2M795.6 854.2h7.4M810.3 854.2h2.5M820.1 854.2h2.5M849.5 854.2h2.5M722.1 856.7h2.5M727 856.7h88.2M825 856.7h4.9M832.4 856.7h2.5M856.9 856.7h2.5M712.3 859.2h2.5M717.2 859.2h93.1M812.8 859.2h2.5M817.7 859.2h2.5M832.4 859.2h2.5M847.1 859.2h2.5M852 859.2h2.5M866.7 859.2h2.5M717.2 861.6h2.5M724.6 861.6h24.5M751.5 861.6h61.3M842.2 861.6h2.5M847.1 861.6h2.5M856.9 861.6h2.5M702.5 864h2.5M719.7 864h9.8M731.9 864h22.1M756.4 864h51.5M810.3 864h2.5M817.7 864h4.9M844.6 864h2.5M709.9 866.5h2.5M714.8 866.5h2.5M722.1 866.5h88.2M815.2 866.5h4.9M844.6 866.5h2.5M717.2 869h93.1M812.8 869h2.5M817.7 869h4.9M825 869h4.9M834.8 869h2.5M854.4 869h2.5M898.5 869h2.5M717.2 871.4h93.1M815.2 871.4h2.5M820.1 871.4h2.5M832.4 871.4h2.5M714.8 873.9h2.5M719.7 873.9h29.4M751.5 873.9h56.4M810.3 873.9h2.5M815.2 873.9h2.5M822.6 873.9h2.5M839.7 873.9h4.9M881.4 873.9h2.5M714.8 876.3h2.5M719.7 876.3h31.9M754 876.3h61.3M820.1 876.3h4.9M827.5 876.3h2.5M849.5 876.3h2.5M717.2 878.8h90.7M810.3 878.8h2.5M822.6 878.8h4.9M829.9 878.8h4.9M837.3 878.8h7.4M849.5 878.8h2.5M712.3 881.2h4.9M719.7 881.2h83.3M805.4 881.2h7.4M820.1 881.2h2.5M825 881.2h9.8M842.2 881.2h2.5M719.7 883.7h14.7M736.8 883.7h29.4M768.7 883.7h39.2M810.3 883.7h9.8M822.6 883.7h2.5M827.5 883.7h4.9M837.3 883.7h2.5M842.2 883.7h2.5M719.7 886.1h19.6M741.7 886.1h80.9M834.8 886.1h4.9M847.1 886.1h2.5M719.7 888.5h71.1M793.2 888.5h14.7M810.3 888.5h9.8M822.6 888.5h2.5M837.3 888.5h2.5M714.8 891h2.5M722.1 891h88.2M815.2 891h2.5M822.6 891h4.9M829.9 891h2.5M834.8 891h4.9M844.6 891h2.5M849.5 891h2.5M722.1 893.5h90.7M817.7 893.5h4.9M834.8 893.5h2.5M849.5 893.5h2.5M709.9 895.9h2.5M714.8 895.9h2.5M719.7 895.9h2.5M724.6 895.9h2.5M729.5 895.9h4.9M736.8 895.9h76M834.8 895.9h2.5M724.6 898.4h9.8M736.8 898.4h71.1M810.3 898.4h9.8M827.5 898.4h2.5M837.3 898.4h2.5M844.6 898.4h2.5M722.1 900.8h2.5M729.5 900.8h2.5M736.8 900.8h56.4M795.6 900.8h9.8M812.8 900.8h4.9M827.5 900.8h2.5M727 903.2h2.5M736.8 903.2h63.7M815.2 903.2h7.4M825 903.2h4.9M832.4 903.2h2.5M837.3 903.2h2.5M842.2 903.2h2.5M734.4 905.7h2.5M739.3 905.7h53.9M798.1 905.7h2.5M807.9 905.7h2.5M820.1 905.7h2.5M844.6 905.7h2.5M852 905.7h2.5M736.8 908.2h14.7M754 908.2h12.2M768.7 908.2h29.4M810.3 908.2h2.5M820.1 908.2h2.5M847.1 908.2h2.5M744.2 910.6h4.9M754 910.6h39.2M800.5 910.6h2.5M812.8 910.6h7.4M837.3 910.6h4.9M756.4 913h24.5M785.8 913h4.9M793.2 913h2.5M825 913h2.5M754 915.5h2.5M758.9 915.5h4.9M768.7 915.5h2.5M783.4 915.5h4.9M790.7 915.5h2.5M798.1 915.5h2.5M812.8 915.5h2.5M751.5 918h7.4M763.8 918h2.5M768.7 918h4.9M842.2 918h2.5M771.1 920.4h2.5M776 920.4h2.5M768.7 922.9h2.5M773.6 922.9h2.5M820.1 922.9h2.5M856.9 925.3h2.5M822.6 932.7h2.5M825 940h2.5" stroke="#ff00ff" stroke-width="2.5" fill="none"/>
<path d="M739.3 665.6h2.5M756.4 665.6h2.5M793.2 675.4h2.5M800.5 675.4h2.5M785.8 677.9h2.5M773.6 680.3h2.5M758.9 685.2h2.5M741.7 687.6h2.5M727 690.1h2.5M751.5 690.1h4.9M773.6 690.1h2.5M788.3 690.1h2.5M793.2 690.1h2.5M754 695h2.5M766.2 695h2.5M795.6 695h2.5M800.5 695h2.5M754 697.5h2.5M795.6 697.5h2.5M768.7 699.9h4.9M783.4 699.9h4.9M798.1 699.9h2.5M741.7 702.4h2.5M776 702.4h2.5M741.7 704.8h2.5M768.7 704.8h2.5M773.6 704.8h2.5M722.1 707.2h2.5M729.5 707.2h2.5M746.6 707.2h4.9M783.4 707.2h2.5M793.2 707.2h2.5M810.3 707.2h2.5M729.5 709.7h2.5M741.7 709.7h2.5M751.5 709.7h2.5M780.9 709.7h2.5M749.1 712.1h2.5M754 712.1h2.5M766.2 712.1h4.9M783.4 712.1h2.5M714.8 714.6h2.5M754 714.6h2.5M692.7 717h2.5M736.8 717h4.9M754 717h2.5M766.2 717h2.5M785.8 717h7.4M815.2 717h2.5M736.8 719.5h2.5M749.1 719.5h9.8M761.3 719.5h2.5M771.1 719.5h4.9M778.5 719.5h2.5M697.6 722h2.5M741.7 722h2.5M746.6 722h2.5M758.9 722h2.5M766.2 722h2.5M785.8 722h2.5M722.1 724.4h2.5M739.3 724.4h2.5M756.4 724.4h2.5M771.1 724.4h2.5M778.5 724.4h2.5M783.4 724.4h4.9M795.6 724.4h4.9M746.6 726.9h2.5M756.4 726.9h2.5M780.9 726.9h2.5M746.6 729.3h9.8M771.1 729.3h2.5M780.9 729.3h7.4M793.2 729.3h2.5M832.4 729.3h2.5M719.7 731.8h2.5M727 731.8h2.5M731.9 731.8h2.5M756.4 731.8h9.8M773.6 731.8h2.5M783.4 731.8h2.5M744.2 734.2h2.5M751.5 734.2h2.5M771.1 734.2h4.9M805.4 734.2h2.5M729.5 736.6h2.5M734.4 736.6h4.9M741.7 736.6h2.5M758.9 736.6h4.9M778.5 736.6h2.5M783.4 736.6h4.9M820.1 736.6h2.5M727 739.1h2.5M736.8 739.1h2.5M749.1 739.1h2.5M768.7 739.1h4.9M776 739.1h2.5M783.4 739.1h2.5M795.6 739.1h2.5M744.2 741.5h2.5M749.1 741.5h2.5M756.4 741.5h4.9M771.1 741.5h2.5M776 741.5h2.5M795.6 741.5h2.5M736.8 744h2.5M746.6 744h4.9M758.9 744h2.5M763.8 744h7.4M785.8 744h2.5M729.5 746.5h2.5M741.7 746.5h4.9M756.4 746.5h2.5M761.3 746.5h4.9M768.7 746.5h2.5M773.6 746.5h7.4M788.3 746.5h4.9M727 748.9h4.9M734.4 748.9h2.5M758.9 748.9h2.5M768.7 748.9h2.5M790.7 748.9h2.5M798.1 748.9h2.5M807.9 748.9h2.5M731.9 751.4h2.5M736.8 751.4h2.5M741.7 751.4h2.5M746.6 751.4h4.9M754 751.4h4.9M763.8 751.4h2.5M768.7 751.4h2.5M780.9 751.4h2.5M788.3 751.4h2.5M739.3 753.8h2.5M754 753.8h2.5M766.2 753.8h4.9M783.4 753.8h2.5M788.3 753.8h2.5M817.7 753.8h2.5M724.6 756.2h2.5M731.9 756.2h2.5M746.6 756.2h2.5M751.5 756.2h2.5M758.9 756.2h2.5M771.1 756.2h12.2M788.3 756.2h2.5M822.6 756.2h2.5M729.5 758.7h2.5M734.4 758.7h2.5M741.7 758.7h2.5M751.5 758.7h4.9M766.2 758.7h2.5M773.6 758.7h2.5M788.3 758.7h2.5M820.1 758.7h2.5M727 761.1h2.5M739.3 761.1h2.5M756.4 761.1h4.9M766.2 761.1h2.5M771.1 761.1h9.8M783.4 761.1h2.5M788.3 761.1h4.9M805.4 761.1h2.5M717.2 763.6h2.5M739.3 763.6h2.5M756.4 763.6h2.5M761.3 763.6h12.2M788.3 763.6h4.9M729.5 766h2.5M734.4 766h2.5M741.7 766h4.9M756.4 766h4.9M773.6 766h2.5M793.2 766h2.5M798.1 766h2.5M707.4 768.5h2.5M731.9 768.5h4.9M749.1 768.5h2.5M754 768.5h2.5M768.7 768.5h4.9M783.4 768.5h2.5M734.4 771h4.9M756.4 771h2.5M766.2 771h2.5M773.6 771h2.5M783.4 771h2.5M790.7 771h9.8M803 771h2.5M729.5 773.4h2.5M739.3 773.4h2.5M754 773.4h2.5M768.7 773.4h7.4M783.4 773.4h2.5M815.2 773.4h2.5M727 775.9h2.5M731.9 775.9h2.5M739.3 775.9h4.9M749.1 775.9h2.5M756.4 775.9h2.5M766.2 775.9h4.9M778.5 775.9h4.9M822.6 775.9h2.5M731.9 778.3h2.5M746.6 778.3h4.9M758.9 778.3h2.5M768.7 778.3h2.5M790.7 778.3h2.5M758.9 780.8h2.5M766.2 780.8h4.9M778.5 780.8h2.5M785.8 780.8h2.5M746.6 783.2h2.5M754 783.2h2.5M773.6 783.2h4.9M783.4 783.2h2.5M790.7 783.2h2.5M746.6 785.6h2.5M754 785.6h4.9M761.3 785.6h2.5M773.6 785.6h2.5M785.8 785.6h2.5M793.2 785.6h2.5M741.7 788.1h2.5M751.5 788.1h2.5M758.9 788.1h4.9M780.9 788.1h2.5M788.3 788.1h2.5M810.3 788.1h2.5M746.6 790.5h2.5M751.5 790.5h2.5M761.3 790.5h2.5M766.2 790.5h2.5M729.5 793h2.5M739.3 793h2.5M746.6 793h2.5M754 793h2.5M766.2 793h4.9M773.6 793h4.9M780.9 793h2.5M722.1 795.5h2.5M739.3 795.5h2.5M751.5 795.5h2.5M761.3 795.5h2.5M768.7 795.5h2.5M776 795.5h2.5M783.4 795.5h2.5M751.5 797.9h2.5M761.3 797.9h2.5M768.7 797.9h2.5M776 797.9h2.5M793.2 797.9h4.9M731.9 800.4h2.5M746.6 800.4h2.5M734.4 802.8h2.5M746.6 802.8h2.5M751.5 802.8h2.5M756.4 802.8h2.5M768.7 802.8h2.5M731.9 805.2h2.5M739.3 805.2h2.5M749.1 805.2h2.5M758.9 805.2h4.9M793.2 805.2h2.5M780.9 807.7h2.5M741.7 810.1h2.5M756.4 810.1h2.5M815.2 810.1h2.5M744.2 812.6h2.5M795.6 812.6h2.5M859.3 812.6h2.5M751.5 815h2.5M763.8 815h2.5M768.7 815h2.5M739.3 817.5h2.5M751.5 817.5h2.5M763.8 817.5h2.5M798.1 817.5h2.5M741.7 820h2.5M749.1 820h2.5M766.2 820h4.9M744.2 822.4h2.5M780.9 822.4h2.5M793.2 822.4h2.5M910.8 824.9h2.5M788.3 827.3h2.5M756.4 829.8h2.5M768.7 829.8h2.5M778.5 829.8h2.5M864.2 829.8h2.5M905.9 832.2h2.5M918.1 832.2h2.5M749.1 834.6h2.5M825 834.6h2.5M893.6 834.6h2.5M905.9 834.6h2.5M707.4 837.1h2.5M746.6 837.1h2.5M856.9 837.1h2.5M883.8 837.1h2.5M883.8 839.5h2.5M905.9 839.5h2.5M778.5 842h2.5M829.9 842h2.5M834.8 842h2.5M888.7 842h2.5M913.2 842h9.8M749.1 844.5h2.5M839.7 844.5h2.5M859.3 844.5h2.5M874 844.5h2.5M878.9 844.5h2.5M883.8 844.5h2.5M891.2 844.5h2.5M908.3 844.5h2.5M736.8 846.9h2.5M839.7 846.9h2.5M852 846.9h2.5M876.5 846.9h4.9M893.6 846.9h7.4M920.6 846.9h2.5M854.4 849.4h2.5M861.8 849.4h2.5M883.8 849.4h2.5M888.7 849.4h4.9M896.1 849.4h2.5M901 849.4h2.5M905.9 849.4h2.5M910.8 849.4h4.9M920.6 849.4h2.5M837.3 851.8h2.5M847.1 851.8h2.5M854.4 851.8h2.5M866.7 851.8h4.9M883.8 851.8h4.9M891.2 851.8h14.7M908.3 851.8h4.9M731.9 854.2h2.5M812.8 854.2h4.9M827.5 854.2h2.5M844.6 854.2h2.5M861.8 854.2h2.5M869.1 854.2h7.4M881.4 854.2h2.5M888.7 854.2h17.2M908.3 854.2h4.9M915.7 854.2h2.5M923 854.2h2.5M954.9 854.2h2.5M834.8 856.7h2.5M844.6 856.7h2.5M854.4 856.7h2.5M859.3 856.7h14.7M876.5 856.7h14.7M896.1 856.7h12.2M910.8 856.7h2.5M918.1 856.7h2.5M927.9 856.7h2.5M945.1 856.7h2.5M834.8 859.2h2.5M842.2 859.2h4.9M856.9 859.2h4.9M864.2 859.2h2.5M874 859.2h2.5M878.9 859.2h2.5M883.8 859.2h7.4M893.6 859.2h2.5M898.5 859.2h17.2M918.1 859.2h2.5M925.5 859.2h2.5M839.7 861.6h2.5M849.5 861.6h2.5M864.2 861.6h17.2M883.8 861.6h7.4M893.6 861.6h4.9M901 861.6h2.5M905.9 861.6h2.5M915.7 861.6h2.5M925.5 861.6h2.5M930.4 861.6h2.5M822.6 864h2.5M832.4 864h2.5M837.3 864h2.5M849.5 864h12.2M864.2 864h2.5M869.1 864h17.2M888.7 864h17.2M908.3 864h4.9M915.7 864h2.5M923 864h2.5M927.9 864h2.5M829.9 866.5h7.4M847.1 866.5h2.5M852 866.5h7.4M861.8 866.5h26.9M891.2 866.5h7.4M901 866.5h7.4M913.2 866.5h2.5M940.2 866.5h2.5M815.2 869h2.5M829.9 869h2.5M844.6 869h9.8M856.9 869h17.2M878.9 869h14.7M896.1 869h2.5M901 869h19.6M923 869h2.5M822.6 871.4h2.5M837.3 871.4h9.8M849.5 871.4h2.5M854.4 871.4h14.7M874 871.4h14.7M891.2 871.4h4.9M898.5 871.4h2.5M903.4 871.4h9.8M925.5 871.4h2.5M952.4 871.4h2.5M749.1 873.9h2.5M829.9 873.9h2.5M834.8 873.9h2.5M844.6 873.9h7.4M854.4 873.9h26.9M883.8 873.9h26.9M913.2 873.9h4.9M920.6 873.9h2.5M751.5 876.3h2.5M825 876.3h2.5M829.9 876.3h7.4M847.1 876.3h2.5M852 876.3h26.9M883.8 876.3h9.8M896.1 876.3h24.5M820.1 878.8h2.5M827.5 878.8h2.5M847.1 878.8h2.5M852 878.8h4.9M859.3 878.8h36.8M898.5 878.8h2.5M903.4 878.8h17.2M930.4 878.8h2.5M803 881.2h2.5M834.8 881.2h4.9M844.6 881.2h4.9M852 881.2h24.5M878.9 881.2h9.8M891.2 881.2h2.5M896.1 881.2h26.9M925.5 881.2h2.5M820.1 883.7h2.5M832.4 883.7h4.9M839.7 883.7h2.5M844.6 883.7h4.9M852 883.7h2.5M856.9 883.7h7.4M866.7 883.7h24.5M893.6 883.7h24.5M825 886.1h2.5M829.9 886.1h2.5M842.2 886.1h2.5M849.5 886.1h7.4M859.3 886.1h34.3M898.5 886.1h12.2M913.2 886.1h2.5M923 886.1h2.5M935.3 886.1h2.5M959.8 886.1h2.5M820.1 888.5h2.5M829.9 888.5h7.4M839.7 888.5h7.4M849.5 888.5h36.8M891.2 888.5h4.9M898.5 888.5h17.2M923 888.5h2.5M932.8 888.5h2.5M820.1 891h2.5M827.5 891h2.5M832.4 891h2.5M839.7 891h4.9M852 891h4.9M859.3 891h26.9M888.7 891h24.5M915.7 891h2.5M920.6 891h2.5M844.6 893.5h4.9M852 893.5h9.8M864.2 893.5h24.5M891.2 893.5h2.5M896.1 893.5h7.4M908.3 893.5h2.5M913.2 893.5h4.9M923 893.5h2.5M930.4 893.5h2.5M937.7 893.5h4.9M829.9 895.9h2.5M837.3 895.9h14.7M854.4 895.9h29.4M886.3 895.9h14.7M903.4 895.9h7.4M925.5 895.9h2.5M930.4 895.9h2.5M829.9 898.4h4.9M849.5 898.4h17.2M869.1 898.4h4.9M876.5 898.4h36.8M915.7 898.4h4.9M927.9 898.4h2.5M839.7 900.8h2.5M844.6 900.8h17.2M864.2 900.8h7.4M874 900.8h7.4M886.3 900.8h26.9M915.7 900.8h2.5M844.6 903.2h29.4M878.9 903.2h9.8M891.2 903.2h12.2M908.3 903.2h7.4M849.5 905.7h2.5M854.4 905.7h2.5M859.3 905.7h12.2M874 905.7h2.5M878.9 905.7h9.8M891.2 905.7h26.9M920.6 905.7h2.5M844.6 908.2h2.5M852 908.2h2.5M859.3 908.2h31.9M893.6 908.2h2.5M898.5 908.2h7.4M910.8 908.2h9.8M829.9 910.6h2.5M844.6 910.6h2.5M849.5 910.6h4.9M856.9 910.6h2.5M861.8 910.6h24.5M888.7 910.6h9.8M901 910.6h17.2M920.6 910.6h2.5M927.9 910.6h2.5M829.9 913h2.5M852 913h2.5M856.9 913h29.4M888.7 913h7.4M898.5 913h12.2M913.2 913h2.5M918.1 913h2.5M861.8 915.5h4.9M869.1 915.5h34.3M905.9 915.5h4.9M913.2 915.5h7.4M832.4 918h2.5M854.4 918h7.4M871.6 918h17.2M893.6 918h12.2M908.3 918h2.5M915.7 918h4.9M829.9 920.4h2.5M837.3 920.4h2.5M844.6 920.4h2.5M849.5 920.4h2.5M856.9 920.4h2.5M861.8 920.4h4.9M869.1 920.4h4.9M876.5 920.4h36.8M920.6 920.4h2.5M859.3 922.9h2.5M869.1 922.9h2.5M874 922.9h2.5M883.8 922.9h2.5M888.7 922.9h4.9M896.1 922.9h2.5M910.8 922.9h2.5M832.4 925.3h2.5M869.1 925.3h4.9M893.6 925.3h4.9M927.9 925.3h2.5M844.6 927.8h2.5M886.3 927.8h4.9M898.5 927.8h2.5M915.7 927.8h2.5M869.1 930.2h2.5M886.3 930.2h2.5M903.4 930.2h2.5M915.7 930.2h2.5M874 932.7h2.5M896.1 932.7h2.5M822.6 935.1h2.5M859.3 935.1h2.5M871.6 935.1h2.5M886.3 935.1h2.5M903.4 935.1h2.5M954.9 935.1h2.5M883.8 937.5h2.5M915.7 937.5h2.5M901 940h2.5M866.7 942.5h2.5M896.1 942.5h2.5M849.5 944.9h2.5M886.3 947.4h2.5M901 947.4h2.5M891.2 954.7h2.5" stroke="#0000ff" stroke-width="2.5" fill="none"/>
<path d="M674.3 626.4H684.3M674.3 709.6H684.3M674.3 797.7H684.3M678.8 684.55H684.3M678.8 669.9H684.3M678.8 659.51H684.3M678.8 651.45H684.3M678.8 644.86H684.3M678.8 639.29H684.3M678.8 634.46H684.3M678.8 630.21H684.3M678.8 771.18H684.3M678.8 755.67H684.3M678.8 744.66H684.3M678.8 736.12H684.3M678.8 729.14H684.3M678.8 723.25H684.3M678.8 718.14H684.3M678.8 713.63H684.3M678.8 858.02H684.3M678.8 842.82H684.3M678.8 832.04H684.3M678.8 823.68H684.3M678.8 816.85H684.3M678.8 811.07H684.3M678.8 806.06H684.3M678.8 801.65H684.3" stroke="#333" stroke-width="1.3" fill="none"/>
<path d="M674.3 884H684.3M678.8 886.36H684.3M678.8 888.72H684.3M678.8 891.08H684.3M678.8 893.44H684.3M678.8 895.81H684.3M678.8 898.17H684.3M678.8 900.53H684.3M674.3 902.89H684.3M674.3 905.25H684.3M674.3 907.61H684.3M674.3 909.97H684.3M678.8 912.33H684.3M678.8 914.69H684.3M678.8 917.06H684.3M678.8 919.42H684.3M678.8 921.78H684.3M678.8 924.14H684.3M674.3 926.5H684.3" stroke="#333" stroke-width="1.3" fill="none" opacity="0.85"/>
<path d="M719.5 964.45V974.45M762.4 964.45V974.45M844.7 964.45V974.45M932.2 964.45V974.45M1012.4 964.45V974.45M787.17 964.45V968.95M801.67 964.45V968.95M811.95 964.45V968.95M819.93 964.45V968.95M826.44 964.45V968.95M831.95 964.45V968.95M836.72 964.45V968.95M840.93 964.45V968.95M871.04 964.45V968.95M886.45 964.45V968.95M897.38 964.45V968.95M905.86 964.45V968.95M912.79 964.45V968.95M918.65 964.45V968.95M923.72 964.45V968.95M928.2 964.45V968.95M956.34 964.45V968.95M970.47 964.45V968.95M980.49 964.45V968.95M988.26 964.45V968.95M994.61 964.45V968.95M999.98 964.45V968.95M1004.63 964.45V968.95M1008.73 964.45V968.95" stroke="#333" stroke-width="1.3" fill="none"/>
<path d="M721.64 964.45V967.95M723.79 964.45V967.95M725.93 964.45V967.95M728.08 964.45V967.95M730.23 964.45V967.95M732.37 964.45V967.95M734.51 964.45V967.95M736.66 964.45V967.95M738.8 964.45V974.45M740.95 964.45V974.45M743.1 964.45V974.45M745.24 964.45V967.95M747.38 964.45V967.95M749.53 964.45V967.95M751.67 964.45V967.95M753.82 964.45V967.95M755.97 964.45V967.95M758.11 964.45V967.95M760.25 964.45V967.95" stroke="#333" stroke-width="1.3" fill="none" opacity="0.85"/>
<line x1="686.9" y1="593.8" x2="1047.2" y2="593.8" stroke="#2a2a2a" stroke-width="1.7"/>
<line x1="1046.4" y1="593.8" x2="1046.4" y2="961.7" stroke="#2a2a2a" stroke-width="1.7"/>
<line x1="812.5" y1="593.8" x2="812.5" y2="961.7" stroke="#111" stroke-width="1.5"/>
<line x1="686.9" y1="809.2" x2="1046.4" y2="809.2" stroke="#111" stroke-width="1.5"/>
<path d="M686.9 593.3V961.7H1047.6" fill="none" stroke="#000" stroke-width="5.35" stroke-linecap="round" stroke-linejoin="round"/>
<rect x="684.3" y="595.8" width="5.2" height="367.65" fill="#000"/>
<rect x="685.3" y="958.95" width="361.1" height="5.5" fill="#000"/>
<text transform="translate(778.31 1030.2) scale(0.8783 1)" font-size="28.5" fill="#262626" word-spacing="-3.5" stroke="#262626" stroke-width="0.3">TCR A/B FITC-A</text>
<text transform="translate(623.4 864.13) rotate(-90) scale(0.9682 1)" font-size="27" fill="#262626" word-spacing="-1" stroke="#262626" stroke-width="0.3">TCR G/D PE-A</text>
<text transform="translate(699.97 1005) scale(0.8771 1)" font-size="20" fill="#2c2530">-10</text>
<text x="728.5" y="997.8" font-size="17.8" fill="#2c2530">2</text>
<text transform="translate(750.16 1005) scale(0.7950 1)" font-size="20" fill="#2c2530">10</text>
<text x="770.3" y="997.8" font-size="17.8" fill="#2c2530">2</text>
<text transform="translate(833.06 1005) scale(0.7950 1)" font-size="20" fill="#2c2530">10</text>
<text x="853.2" y="997.8" font-size="17.8" fill="#2c2530">3</text>
<text transform="translate(919.66 1005) scale(0.7950 1)" font-size="20" fill="#2c2530">10</text>
<text x="939.8" y="997.8" font-size="17.8" fill="#2c2530">4</text>
<text transform="translate(643.07 641.8) scale(0.7846 1)" font-size="19.5" fill="#2c2530">10</text>
<text transform="translate(660.79 634.1) scale(0.8800 1)" font-size="18.5" fill="#2c2530">5</text>
<text transform="translate(643.07 725) scale(0.7846 1)" font-size="19.5" fill="#2c2530">10</text>
<text transform="translate(661.03 717.3) scale(0.8324 1)" font-size="18.5" fill="#2c2530">4</text>
<text transform="translate(643.07 813.1) scale(0.7846 1)" font-size="19.5" fill="#2c2530">10</text>
<text transform="translate(660.79 805.4) scale(0.8800 1)" font-size="18.5" fill="#2c2530">3</text>
<text transform="translate(643.07 917.5) scale(0.7846 1)" font-size="19.5" fill="#2c2530">10</text>
<text transform="translate(660.01 909.8) scale(0.9625 1)" font-size="18.5" fill="#2c2530">1</text>
<text transform="translate(635.6 940) scale(0.8710 1)" font-size="19.5" fill="#2c2530">-10</text>
<text transform="translate(660.52 932.3) scale(0.9333 1)" font-size="18.5" fill="#2c2530">2</text>
<rect x="976.9" y="560" width="44.1" height="37" fill="#fff"/>
<text transform="translate(977.32 584.7) scale(0.9805 1)" font-size="31.3" fill="#000" font-weight="bold">0.9%</text>
<text transform="translate(586.69 992.9) scale(0.9598 1)" font-size="31.3" fill="#000" font-weight="bold">83.2%</text>
<text transform="translate(945.41 992.7) scale(0.9686 1)" font-size="31.3" fill="#000" font-weight="bold">14.5%</text>
<rect x="1001.5" y="990" width="16.5" height="16.5" fill="#fff"/>
<text transform="translate(1001.16 1005) scale(0.7950 1)" font-size="20" fill="#2c2530">10</text>
<text x="1021.3" y="997.8" font-size="17.8" fill="#2c2530">5</text>
<text transform="translate(597.13 573.8) scale(0.6923 1)" font-size="46.8" fill="#000" stroke="#000" stroke-width="0.5">E</text>
<path d="M1349.4 732.2h2.5M1354.3 732.2h4.9M1361.6 732.2h2.5M1369 732.2h2.5M1373.9 732.2h2.5M1400.8 732.2h2.5M1405.7 732.2h2.5M1420.4 732.2h2.5M1427.8 732.2h2.5M1437.6 732.2h2.5M1518.4 732.2h2.5M1545.4 732.2h2.5M1552.7 732.2h2.5M1324.9 734.6h2.5M1339.6 734.6h2.5M1344.5 734.6h4.9M1354.3 734.6h2.5M1364.1 734.6h4.9M1408.2 734.6h2.5M1425.3 734.6h4.9M1471.9 734.6h2.5M1496.4 734.6h2.5M1511.1 734.6h2.5M1516 734.6h2.5M1538 734.6h2.5M1565 734.6h2.5M1582.1 734.6h2.5M1332.2 737.1h2.5M1339.6 737.1h2.5M1346.9 737.1h2.5M1351.8 737.1h2.5M1366.5 737.1h2.5M1376.3 737.1h4.9M1388.6 737.1h2.5M1398.4 737.1h2.5M1410.6 737.1h2.5M1422.9 737.1h4.9M1430.2 737.1h4.9M1437.6 737.1h2.5M1457.2 737.1h2.5M1572.3 737.1h2.5M1334.7 739.5h9.8M1346.9 739.5h4.9M1356.7 739.5h2.5M1361.6 739.5h7.4M1371.4 739.5h2.5M1376.3 739.5h2.5M1489 739.5h2.5M1555.2 739.5h4.9M1562.5 739.5h2.5M1567.4 739.5h2.5M1327.3 742h2.5M1339.6 742h2.5M1344.5 742h4.9M1351.8 742h2.5M1356.7 742h2.5M1364.1 742h12.2M1378.8 742h2.5M1388.6 742h2.5M1395.9 742h2.5M1420.4 742h2.5M1432.7 742h2.5M1444.9 742h2.5M1459.6 742h2.5M1467 742h2.5M1479.2 742h4.9M1496.4 742h2.5M1508.6 742h2.5M1516 742h2.5M1528.2 742h2.5M1555.2 742h2.5M1562.5 742h2.5M1334.7 744.5h2.5M1342 744.5h2.5M1346.9 744.5h2.5M1351.8 744.5h4.9M1359.2 744.5h2.5M1371.4 744.5h4.9M1378.8 744.5h2.5M1400.8 744.5h2.5M1442.5 744.5h2.5M1452.3 744.5h2.5M1459.6 744.5h2.5M1516 744.5h9.8M1530.7 744.5h2.5M1540.5 744.5h2.5M1545.4 744.5h4.9M1577.2 744.5h2.5M1337.1 746.9h9.8M1349.4 746.9h2.5M1356.7 746.9h7.4M1376.3 746.9h2.5M1400.8 746.9h2.5M1435.1 746.9h2.5M1454.7 746.9h2.5M1459.6 746.9h2.5M1471.9 746.9h2.5M1486.6 746.9h4.9M1520.9 746.9h2.5M1528.2 746.9h2.5M1538 746.9h2.5M1550.3 746.9h2.5M1322.4 749.4h4.9M1337.1 749.4h4.9M1346.9 749.4h2.5M1356.7 749.4h2.5M1361.6 749.4h2.5M1366.5 749.4h4.9M1378.8 749.4h2.5M1403.3 749.4h2.5M1415.5 749.4h2.5M1422.9 749.4h4.9M1432.7 749.4h2.5M1437.6 749.4h9.8M1449.8 749.4h2.5M1462.1 749.4h2.5M1491.5 749.4h2.5M1496.4 749.4h2.5M1513.5 749.4h2.5M1535.6 749.4h2.5M1579.7 749.4h2.5M1324.9 751.8h2.5M1339.6 751.8h2.5M1346.9 751.8h2.5M1351.8 751.8h2.5M1359.2 751.8h9.8M1376.3 751.8h2.5M1405.7 751.8h4.9M1479.2 751.8h2.5M1332.2 754.2h7.4M1342 754.2h2.5M1346.9 754.2h2.5M1351.8 754.2h2.5M1366.5 754.2h2.5M1373.9 754.2h4.9M1403.3 754.2h2.5M1447.4 754.2h2.5M1474.3 754.2h2.5M1481.7 754.2h2.5M1513.5 754.2h4.9M1528.2 754.2h2.5M1329.8 756.7h2.5M1334.7 756.7h2.5M1342 756.7h4.9M1354.3 756.7h2.5M1359.2 756.7h2.5M1366.5 756.7h2.5M1373.9 756.7h4.9M1430.2 756.7h2.5M1435.1 756.7h2.5M1447.4 756.7h4.9M1484.1 756.7h2.5M1489 756.7h2.5M1520.9 756.7h2.5M1555.2 756.7h2.5M1329.8 759.1h2.5M1337.1 759.1h2.5M1356.7 759.1h7.4M1373.9 759.1h4.9M1403.3 759.1h4.9M1413.1 759.1h4.9M1420.4 759.1h2.5M1430.2 759.1h2.5M1440 759.1h2.5M1452.3 759.1h2.5M1469.4 759.1h2.5M1476.8 759.1h2.5M1486.6 759.1h2.5M1501.3 759.1h2.5M1540.5 759.1h2.5M1547.8 759.1h2.5M1557.6 759.1h2.5M1569.9 759.1h4.9M1579.7 759.1h2.5M1332.2 761.6h7.4M1342 761.6h4.9M1349.4 761.6h12.2M1376.3 761.6h2.5M1400.8 761.6h2.5M1408.2 761.6h2.5M1418 761.6h2.5M1422.9 761.6h2.5M1427.8 761.6h2.5M1462.1 761.6h4.9M1496.4 761.6h4.9M1520.9 761.6h2.5M1327.3 764h2.5M1337.1 764h4.9M1344.5 764h9.8M1356.7 764h4.9M1366.5 764h2.5M1371.4 764h4.9M1398.4 764h2.5M1403.3 764h2.5M1408.2 764h4.9M1418 764h4.9M1440 764h2.5M1449.8 764h2.5M1462.1 764h2.5M1481.7 764h2.5M1513.5 764h2.5M1523.3 764h2.5M1530.7 764h2.5M1547.8 764h2.5M1557.6 764h2.5M1562.5 764h2.5M1567.4 764h2.5M1334.7 766.5h2.5M1342 766.5h4.9M1349.4 766.5h2.5M1354.3 766.5h4.9M1364.1 766.5h4.9M1371.4 766.5h2.5M1378.8 766.5h2.5M1383.7 766.5h4.9M1391 766.5h2.5M1398.4 766.5h7.4M1427.8 766.5h2.5M1484.1 766.5h2.5M1567.4 766.5h2.5M1582.1 766.5h2.5M1332.2 769h4.9M1339.6 769h2.5M1344.5 769h4.9M1354.3 769h2.5M1359.2 769h4.9M1383.7 769h2.5M1388.6 769h2.5M1393.5 769h2.5M1400.8 769h7.4M1437.6 769h2.5M1444.9 769h2.5M1457.2 769h2.5M1462.1 769h2.5M1471.9 769h2.5M1498.8 769h2.5M1525.8 769h2.5M1569.9 769h2.5M1327.3 771.4h2.5M1332.2 771.4h2.5M1344.5 771.4h2.5M1351.8 771.4h2.5M1356.7 771.4h2.5M1361.6 771.4h2.5M1366.5 771.4h2.5M1373.9 771.4h4.9M1398.4 771.4h2.5M1413.1 771.4h2.5M1430.2 771.4h2.5M1437.6 771.4h2.5M1454.7 771.4h2.5M1459.6 771.4h2.5M1491.5 771.4h2.5M1503.7 771.4h2.5M1547.8 771.4h2.5M1337.1 773.9h2.5M1342 773.9h4.9M1351.8 773.9h2.5M1356.7 773.9h2.5M1361.6 773.9h2.5M1366.5 773.9h2.5M1371.4 773.9h2.5M1415.5 773.9h2.5M1422.9 773.9h2.5M1427.8 773.9h2.5M1435.1 773.9h2.5M1481.7 773.9h2.5M1498.8 773.9h4.9M1523.3 773.9h2.5M1560.1 773.9h2.5M1565 773.9h2.5M1327.3 776.3h4.9M1342 776.3h9.8M1359.2 776.3h2.5M1371.4 776.3h7.4M1381.2 776.3h2.5M1386.1 776.3h2.5M1398.4 776.3h2.5M1418 776.3h2.5M1427.8 776.3h2.5M1435.1 776.3h2.5M1454.7 776.3h4.9M1513.5 776.3h2.5M1518.4 776.3h2.5M1535.6 776.3h2.5M1557.6 776.3h2.5M1565 776.3h2.5M1317.5 778.8h2.5M1337.1 778.8h2.5M1342 778.8h2.5M1346.9 778.8h2.5M1351.8 778.8h2.5M1361.6 778.8h4.9M1369 778.8h4.9M1381.2 778.8h2.5M1413.1 778.8h4.9M1422.9 778.8h2.5M1427.8 778.8h2.5M1467 778.8h2.5M1489 778.8h2.5M1516 778.8h2.5M1567.4 778.8h2.5M1572.3 778.8h2.5M1329.8 781.2h4.9M1337.1 781.2h2.5M1344.5 781.2h4.9M1356.7 781.2h2.5M1361.6 781.2h2.5M1369 781.2h2.5M1383.7 781.2h2.5M1388.6 781.2h2.5M1415.5 781.2h4.9M1427.8 781.2h2.5M1491.5 781.2h2.5M1498.8 781.2h2.5M1513.5 781.2h2.5M1562.5 781.2h2.5M1582.1 781.2h2.5M1327.3 783.6h2.5M1334.7 783.6h7.4M1351.8 783.6h2.5M1356.7 783.6h2.5M1361.6 783.6h2.5M1366.5 783.6h2.5M1373.9 783.6h2.5M1378.8 783.6h2.5M1386.1 783.6h2.5M1403.3 783.6h2.5M1413.1 783.6h2.5M1449.8 783.6h2.5M1459.6 783.6h2.5M1479.2 783.6h2.5M1496.4 783.6h2.5M1503.7 783.6h2.5M1508.6 783.6h4.9M1540.5 783.6h2.5M1550.3 783.6h2.5M1562.5 783.6h2.5M1577.2 783.6h2.5M1322.4 786.1h2.5M1332.2 786.1h2.5M1339.6 786.1h2.5M1349.4 786.1h4.9M1359.2 786.1h4.9M1371.4 786.1h2.5M1378.8 786.1h2.5M1391 786.1h4.9M1415.5 786.1h2.5M1427.8 786.1h4.9M1440 786.1h2.5M1449.8 786.1h2.5M1523.3 786.1h4.9M1545.4 786.1h2.5M1552.7 786.1h2.5M1557.6 786.1h2.5M1562.5 786.1h2.5M1569.9 786.1h2.5M1339.6 788.5h2.5M1354.3 788.5h2.5M1366.5 788.5h4.9M1391 788.5h4.9M1408.2 788.5h7.4M1425.3 788.5h2.5M1437.6 788.5h4.9M1462.1 788.5h2.5M1484.1 788.5h2.5M1503.7 788.5h2.5M1523.3 788.5h2.5M1530.7 788.5h2.5M1552.7 788.5h2.5M1329.8 791h2.5M1337.1 791h4.9M1344.5 791h7.4M1354.3 791h4.9M1361.6 791h4.9M1371.4 791h2.5M1376.3 791h2.5M1388.6 791h2.5M1400.8 791h4.9M1425.3 791h2.5M1493.9 791h2.5M1513.5 791h2.5M1518.4 791h2.5M1567.4 791h2.5M1329.8 793.5h2.5M1337.1 793.5h9.8M1349.4 793.5h4.9M1356.7 793.5h4.9M1364.1 793.5h7.4M1373.9 793.5h2.5M1378.8 793.5h2.5M1391 793.5h4.9M1405.7 793.5h2.5M1418 793.5h2.5M1452.3 793.5h7.4M1462.1 793.5h2.5M1489 793.5h2.5M1535.6 793.5h2.5M1567.4 793.5h2.5M1327.3 795.9h2.5M1337.1 795.9h22.1M1361.6 795.9h2.5M1366.5 795.9h7.4M1376.3 795.9h7.4M1425.3 795.9h7.4M1459.6 795.9h2.5M1464.5 795.9h4.9M1489 795.9h2.5M1501.3 795.9h2.5M1518.4 795.9h2.5M1535.6 795.9h4.9M1542.9 795.9h2.5M1565 795.9h2.5M1572.3 795.9h2.5M1327.3 798.4h2.5M1337.1 798.4h7.4M1346.9 798.4h2.5M1351.8 798.4h9.8M1366.5 798.4h2.5M1388.6 798.4h2.5M1405.7 798.4h4.9M1432.7 798.4h2.5M1440 798.4h2.5M1518.4 798.4h2.5M1540.5 798.4h2.5M1560.1 798.4h2.5M1324.9 800.8h4.9M1332.2 800.8h2.5M1339.6 800.8h14.7M1356.7 800.8h4.9M1366.5 800.8h2.5M1376.3 800.8h2.5M1388.6 800.8h2.5M1403.3 800.8h2.5M1432.7 800.8h2.5M1454.7 800.8h4.9M1464.5 800.8h2.5M1481.7 800.8h2.5M1337.1 803.2h4.9M1344.5 803.2h2.5M1349.4 803.2h4.9M1356.7 803.2h12.2M1378.8 803.2h2.5M1388.6 803.2h4.9M1408.2 803.2h2.5M1415.5 803.2h4.9M1449.8 803.2h4.9M1493.9 803.2h2.5M1572.3 803.2h2.5M1337.1 805.7h2.5M1344.5 805.7h4.9M1351.8 805.7h7.4M1364.1 805.7h4.9M1373.9 805.7h2.5M1398.4 805.7h4.9M1440 805.7h2.5M1449.8 805.7h9.8M1474.3 805.7h2.5M1484.1 805.7h2.5M1518.4 805.7h2.5M1525.8 805.7h2.5M1533.1 805.7h2.5M1572.3 805.7h2.5M1332.2 808.1h2.5M1337.1 808.1h2.5M1342 808.1h2.5M1351.8 808.1h4.9M1361.6 808.1h7.4M1378.8 808.1h2.5M1398.4 808.1h2.5M1405.7 808.1h2.5M1484.1 808.1h2.5M1493.9 808.1h2.5M1513.5 808.1h2.5M1528.2 808.1h2.5M1542.9 808.1h2.5M1579.7 808.1h2.5M1324.9 810.6h2.5M1329.8 810.6h2.5M1334.7 810.6h2.5M1342 810.6h2.5M1349.4 810.6h4.9M1356.7 810.6h9.8M1378.8 810.6h2.5M1408.2 810.6h2.5M1420.4 810.6h2.5M1425.3 810.6h2.5M1444.9 810.6h2.5M1479.2 810.6h2.5M1518.4 810.6h2.5M1525.8 810.6h2.5M1538 810.6h2.5M1327.3 813h2.5M1332.2 813h2.5M1342 813h9.8M1354.3 813h2.5M1359.2 813h4.9M1366.5 813h4.9M1376.3 813h2.5M1403.3 813h2.5M1415.5 813h4.9M1452.3 813h2.5M1474.3 813h2.5M1484.1 813h2.5M1498.8 813h2.5M1503.7 813h2.5M1520.9 813h2.5M1542.9 813h2.5M1557.6 813h4.9M1569.9 813h2.5M1342 815.5h2.5M1354.3 815.5h4.9M1366.5 815.5h9.8M1395.9 815.5h2.5M1422.9 815.5h2.5M1435.1 815.5h2.5M1449.8 815.5h4.9M1459.6 815.5h2.5M1464.5 815.5h4.9M1506.2 815.5h2.5M1545.4 815.5h2.5M1334.7 818h9.8M1346.9 818h2.5M1351.8 818h2.5M1356.7 818h12.2M1371.4 818h4.9M1383.7 818h2.5M1393.5 818h2.5M1447.4 818h2.5M1464.5 818h2.5M1479.2 818h2.5M1489 818h2.5M1508.6 818h2.5M1528.2 818h2.5M1538 818h4.9M1545.4 818h2.5M1557.6 818h2.5M1344.5 820.4h2.5M1356.7 820.4h2.5M1364.1 820.4h2.5M1369 820.4h4.9M1383.7 820.4h2.5M1440 820.4h2.5M1444.9 820.4h2.5M1520.9 820.4h2.5M1528.2 820.4h2.5M1547.8 820.4h2.5M1337.1 822.9h2.5M1342 822.9h2.5M1346.9 822.9h2.5M1354.3 822.9h2.5M1359.2 822.9h12.2M1373.9 822.9h2.5M1381.2 822.9h2.5M1386.1 822.9h2.5M1403.3 822.9h2.5M1413.1 822.9h2.5M1442.5 822.9h2.5M1449.8 822.9h2.5M1454.7 822.9h2.5M1474.3 822.9h2.5M1481.7 822.9h2.5M1540.5 822.9h2.5M1552.7 822.9h2.5M1565 822.9h2.5M1344.5 825.3h2.5M1349.4 825.3h2.5M1354.3 825.3h4.9M1361.6 825.3h4.9M1369 825.3h2.5M1376.3 825.3h2.5M1386.1 825.3h2.5M1422.9 825.3h2.5M1435.1 825.3h2.5M1457.2 825.3h2.5M1469.4 825.3h4.9M1476.8 825.3h2.5M1481.7 825.3h2.5M1501.3 825.3h2.5M1518.4 825.3h2.5M1523.3 825.3h2.5M1545.4 825.3h2.5M1329.8 827.8h2.5M1337.1 827.8h4.9M1359.2 827.8h2.5M1369 827.8h2.5M1388.6 827.8h2.5M1393.5 827.8h4.9M1449.8 827.8h4.9M1489 827.8h2.5M1496.4 827.8h2.5M1501.3 827.8h2.5M1513.5 827.8h2.5M1520.9 827.8h4.9M1538 827.8h4.9M1545.4 827.8h2.5M1552.7 827.8h2.5M1567.4 827.8h2.5M1315.1 830.2h2.5M1342 830.2h2.5M1346.9 830.2h4.9M1361.6 830.2h2.5M1371.4 830.2h4.9M1400.8 830.2h4.9M1418 830.2h2.5M1425.3 830.2h2.5M1447.4 830.2h2.5M1452.3 830.2h2.5M1462.1 830.2h2.5M1471.9 830.2h2.5M1476.8 830.2h2.5M1501.3 830.2h2.5M1508.6 830.2h2.5M1513.5 830.2h2.5M1530.7 830.2h4.9M1540.5 830.2h2.5M1567.4 830.2h2.5M1324.9 832.6h2.5M1339.6 832.6h2.5M1366.5 832.6h4.9M1395.9 832.6h4.9M1410.6 832.6h2.5M1432.7 832.6h2.5M1437.6 832.6h2.5M1452.3 832.6h2.5M1457.2 832.6h2.5M1471.9 832.6h2.5M1520.9 832.6h4.9M1533.1 832.6h2.5M1538 832.6h2.5M1552.7 832.6h2.5M1560.1 832.6h2.5M1567.4 832.6h2.5M1574.8 832.6h2.5M1332.2 835.1h2.5M1337.1 835.1h4.9M1344.5 835.1h2.5M1351.8 835.1h9.8M1364.1 835.1h2.5M1371.4 835.1h2.5M1391 835.1h2.5M1444.9 835.1h2.5M1479.2 835.1h2.5M1486.6 835.1h4.9M1513.5 835.1h4.9M1530.7 835.1h2.5M1574.8 835.1h2.5M1332.2 837.5h4.9M1339.6 837.5h2.5M1349.4 837.5h2.5M1354.3 837.5h4.9M1361.6 837.5h7.4M1371.4 837.5h4.9M1378.8 837.5h2.5M1415.5 837.5h4.9M1444.9 837.5h4.9M1454.7 837.5h4.9M1462.1 837.5h2.5M1479.2 837.5h2.5M1486.6 837.5h4.9M1493.9 837.5h2.5M1498.8 837.5h4.9M1516 837.5h2.5M1523.3 837.5h4.9M1530.7 837.5h2.5M1542.9 837.5h2.5M1557.6 837.5h2.5M1574.8 837.5h2.5M1339.6 840h4.9M1351.8 840h2.5M1356.7 840h2.5M1364.1 840h9.8M1388.6 840h2.5M1405.7 840h2.5M1413.1 840h2.5M1418 840h7.4M1427.8 840h2.5M1440 840h4.9M1457.2 840h2.5M1469.4 840h2.5M1513.5 840h2.5M1545.4 840h2.5M1560.1 840h4.9M1567.4 840h2.5M1572.3 840h2.5M1329.8 842.5h2.5M1334.7 842.5h2.5M1344.5 842.5h2.5M1359.2 842.5h17.2M1381.2 842.5h2.5M1393.5 842.5h2.5M1440 842.5h2.5M1449.8 842.5h2.5M1454.7 842.5h2.5M1474.3 842.5h2.5M1484.1 842.5h2.5M1491.5 842.5h2.5M1501.3 842.5h2.5M1511.1 842.5h2.5M1520.9 842.5h2.5M1525.8 842.5h2.5M1535.6 842.5h4.9M1545.4 842.5h4.9M1555.2 842.5h2.5M1329.8 844.9h2.5M1334.7 844.9h2.5M1361.6 844.9h2.5M1371.4 844.9h2.5M1378.8 844.9h2.5M1435.1 844.9h2.5M1440 844.9h2.5M1447.4 844.9h2.5M1457.2 844.9h2.5M1464.5 844.9h2.5M1479.2 844.9h2.5M1489 844.9h2.5M1501.3 844.9h2.5M1508.6 844.9h4.9M1516 844.9h2.5M1523.3 844.9h2.5M1528.2 844.9h4.9M1542.9 844.9h2.5M1334.7 847.4h2.5M1351.8 847.4h4.9M1359.2 847.4h2.5M1364.1 847.4h7.4M1378.8 847.4h2.5M1408.2 847.4h2.5M1425.3 847.4h2.5M1430.2 847.4h2.5M1440 847.4h2.5M1459.6 847.4h2.5M1464.5 847.4h2.5M1469.4 847.4h2.5M1496.4 847.4h2.5M1501.3 847.4h9.8M1518.4 847.4h2.5M1525.8 847.4h2.5M1542.9 847.4h2.5M1560.1 847.4h2.5M1334.7 849.8h2.5M1342 849.8h2.5M1351.8 849.8h2.5M1366.5 849.8h7.4M1376.3 849.8h2.5M1398.4 849.8h2.5M1405.7 849.8h2.5M1418 849.8h2.5M1425.3 849.8h2.5M1432.7 849.8h2.5M1444.9 849.8h4.9M1469.4 849.8h4.9M1479.2 849.8h7.4M1491.5 849.8h4.9M1503.7 849.8h2.5M1508.6 849.8h2.5M1513.5 849.8h2.5M1518.4 849.8h2.5M1525.8 849.8h2.5M1530.7 849.8h2.5M1540.5 849.8h2.5M1557.6 849.8h2.5M1572.3 849.8h2.5M1577.2 849.8h2.5M1351.8 852.2h12.2M1369 852.2h9.8M1403.3 852.2h2.5M1413.1 852.2h2.5M1422.9 852.2h2.5M1437.6 852.2h2.5M1442.5 852.2h2.5M1452.3 852.2h4.9M1459.6 852.2h2.5M1464.5 852.2h2.5M1474.3 852.2h2.5M1503.7 852.2h2.5M1538 852.2h2.5M1542.9 852.2h4.9M1565 852.2h4.9M1356.7 854.7h9.8M1381.2 854.7h2.5M1427.8 854.7h2.5M1437.6 854.7h2.5M1444.9 854.7h4.9M1454.7 854.7h2.5M1464.5 854.7h4.9M1491.5 854.7h2.5M1498.8 854.7h2.5M1506.2 854.7h2.5M1513.5 854.7h4.9M1525.8 854.7h2.5M1535.6 854.7h2.5M1545.4 854.7h2.5M1555.2 854.7h2.5M1560.1 854.7h2.5M1565 854.7h2.5M1569.9 854.7h2.5M1577.2 854.7h2.5M1582.1 854.7h2.5M1339.6 857.2h2.5M1344.5 857.2h2.5M1364.1 857.2h2.5M1369 857.2h2.5M1400.8 857.2h2.5M1430.2 857.2h4.9M1444.9 857.2h4.9M1486.6 857.2h2.5M1501.3 857.2h2.5M1508.6 857.2h2.5M1533.1 857.2h2.5M1538 857.2h2.5M1550.3 857.2h2.5M1567.4 857.2h2.5M1317.5 859.6h2.5M1327.3 859.6h2.5M1346.9 859.6h2.5M1351.8 859.6h2.5M1432.7 859.6h2.5M1437.6 859.6h2.5M1442.5 859.6h2.5M1467 859.6h2.5M1476.8 859.6h4.9M1491.5 859.6h2.5M1508.6 859.6h4.9M1516 859.6h2.5M1528.2 859.6h2.5M1540.5 859.6h2.5M1545.4 859.6h7.4M1569.9 859.6h4.9M1327.3 862h2.5M1334.7 862h2.5M1376.3 862h2.5M1391 862h2.5M1395.9 862h2.5M1410.6 862h4.9M1430.2 862h2.5M1437.6 862h2.5M1442.5 862h7.4M1459.6 862h2.5M1491.5 862h2.5M1506.2 862h2.5M1511.1 862h2.5M1520.9 862h2.5M1535.6 862h4.9M1542.9 862h7.4M1560.1 862h2.5M1579.7 862h2.5M1324.9 864.5h2.5M1364.1 864.5h2.5M1369 864.5h4.9M1388.6 864.5h2.5M1403.3 864.5h2.5M1420.4 864.5h2.5M1442.5 864.5h4.9M1481.7 864.5h4.9M1491.5 864.5h4.9M1508.6 864.5h7.4M1518.4 864.5h2.5M1525.8 864.5h2.5M1540.5 864.5h2.5M1550.3 864.5h2.5M1560.1 864.5h2.5M1565 864.5h2.5M1342 867h2.5M1354.3 867h2.5M1373.9 867h2.5M1403.3 867h2.5M1420.4 867h2.5M1432.7 867h2.5M1452.3 867h4.9M1464.5 867h2.5M1471.9 867h2.5M1493.9 867h2.5M1506.2 867h4.9M1518.4 867h2.5M1523.3 867h4.9M1530.7 867h2.5M1538 867h2.5M1547.8 867h4.9M1560.1 867h2.5M1359.2 869.4h2.5M1371.4 869.4h4.9M1378.8 869.4h2.5M1383.7 869.4h2.5M1391 869.4h2.5M1432.7 869.4h2.5M1440 869.4h4.9M1449.8 869.4h2.5M1474.3 869.4h2.5M1491.5 869.4h2.5M1506.2 869.4h2.5M1523.3 869.4h24.5M1550.3 869.4h2.5M1569.9 869.4h2.5M1577.2 869.4h2.5M1582.1 869.4h2.5M1364.1 871.9h2.5M1371.4 871.9h2.5M1413.1 871.9h2.5M1420.4 871.9h2.5M1442.5 871.9h2.5M1454.7 871.9h4.9M1467 871.9h2.5M1474.3 871.9h2.5M1481.7 871.9h2.5M1486.6 871.9h2.5M1491.5 871.9h2.5M1501.3 871.9h2.5M1513.5 871.9h2.5M1530.7 871.9h2.5M1538 871.9h2.5M1542.9 871.9h2.5M1557.6 871.9h2.5M1572.3 871.9h2.5M1329.8 874.3h2.5M1366.5 874.3h2.5M1371.4 874.3h2.5M1376.3 874.3h2.5M1405.7 874.3h2.5M1415.5 874.3h2.5M1430.2 874.3h7.4M1459.6 874.3h2.5M1467 874.3h2.5M1491.5 874.3h2.5M1498.8 874.3h2.5M1508.6 874.3h4.9M1516 874.3h4.9M1528.2 874.3h7.4M1538 874.3h4.9M1545.4 874.3h2.5M1557.6 874.3h4.9M1567.4 874.3h2.5M1577.2 874.3h2.5M1354.3 876.8h2.5M1359.2 876.8h2.5M1373.9 876.8h2.5M1381.2 876.8h2.5M1400.8 876.8h4.9M1408.2 876.8h2.5M1413.1 876.8h4.9M1427.8 876.8h2.5M1452.3 876.8h2.5M1464.5 876.8h4.9M1489 876.8h2.5M1493.9 876.8h4.9M1508.6 876.8h2.5M1513.5 876.8h2.5M1518.4 876.8h2.5M1523.3 876.8h2.5M1533.1 876.8h14.7M1550.3 876.8h2.5M1565 876.8h2.5M1344.5 879.2h2.5M1366.5 879.2h2.5M1376.3 879.2h4.9M1400.8 879.2h2.5M1405.7 879.2h2.5M1437.6 879.2h2.5M1452.3 879.2h2.5M1457.2 879.2h2.5M1462.1 879.2h2.5M1479.2 879.2h2.5M1491.5 879.2h4.9M1511.1 879.2h2.5M1525.8 879.2h2.5M1533.1 879.2h2.5M1540.5 879.2h2.5M1545.4 879.2h2.5M1555.2 879.2h2.5M1572.3 879.2h2.5M1579.7 879.2h2.5M1400.8 881.7h2.5M1427.8 881.7h2.5M1449.8 881.7h2.5M1462.1 881.7h2.5M1471.9 881.7h2.5M1501.3 881.7h2.5M1508.6 881.7h2.5M1525.8 881.7h2.5M1540.5 881.7h4.9M1550.3 881.7h2.5M1560.1 881.7h2.5M1565 881.7h2.5M1329.8 884.1h2.5M1369 884.1h4.9M1383.7 884.1h2.5M1425.3 884.1h4.9M1437.6 884.1h4.9M1474.3 884.1h2.5M1489 884.1h2.5M1498.8 884.1h7.4M1511.1 884.1h2.5M1528.2 884.1h4.9M1535.6 884.1h9.8M1547.8 884.1h7.4M1579.7 884.1h2.5M1425.3 886.5h7.4M1444.9 886.5h2.5M1449.8 886.5h2.5M1454.7 886.5h2.5M1484.1 886.5h2.5M1491.5 886.5h2.5M1501.3 886.5h4.9M1513.5 886.5h9.8M1533.1 886.5h7.4M1545.4 886.5h2.5M1552.7 886.5h2.5M1567.4 886.5h2.5M1574.8 886.5h2.5M1342 889h2.5M1371.4 889h2.5M1430.2 889h2.5M1437.6 889h2.5M1447.4 889h2.5M1452.3 889h2.5M1464.5 889h2.5M1476.8 889h2.5M1518.4 889h2.5M1525.8 889h4.9M1547.8 889h2.5M1555.2 889h2.5M1560.1 889h2.5M1320 891.5h2.5M1329.8 891.5h4.9M1371.4 891.5h2.5M1388.6 891.5h2.5M1410.6 891.5h4.9M1420.4 891.5h2.5M1427.8 891.5h2.5M1437.6 891.5h2.5M1442.5 891.5h2.5M1449.8 891.5h2.5M1454.7 891.5h2.5M1467 891.5h2.5M1474.3 891.5h7.4M1486.6 891.5h2.5M1491.5 891.5h2.5M1506.2 891.5h2.5M1511.1 891.5h2.5M1518.4 891.5h2.5M1523.3 891.5h2.5M1530.7 891.5h7.4M1545.4 891.5h2.5M1552.7 891.5h2.5M1560.1 891.5h2.5M1574.8 891.5h2.5M1364.1 893.9h4.9M1371.4 893.9h2.5M1376.3 893.9h2.5M1403.3 893.9h2.5M1415.5 893.9h2.5M1420.4 893.9h4.9M1444.9 893.9h2.5M1452.3 893.9h2.5M1457.2 893.9h2.5M1484.1 893.9h7.4M1493.9 893.9h2.5M1501.3 893.9h2.5M1508.6 893.9h4.9M1516 893.9h4.9M1523.3 893.9h2.5M1533.1 893.9h2.5M1547.8 893.9h12.2M1577.2 893.9h2.5M1334.7 896.4h2.5M1349.4 896.4h2.5M1364.1 896.4h2.5M1371.4 896.4h2.5M1391 896.4h4.9M1422.9 896.4h2.5M1437.6 896.4h2.5M1442.5 896.4h4.9M1467 896.4h2.5M1491.5 896.4h4.9M1506.2 896.4h2.5M1528.2 896.4h4.9M1550.3 896.4h2.5M1572.3 896.4h2.5M1329.8 898.8h2.5M1337.1 898.8h2.5M1346.9 898.8h2.5M1364.1 898.8h2.5M1371.4 898.8h2.5M1378.8 898.8h2.5M1386.1 898.8h2.5M1418 898.8h2.5M1435.1 898.8h2.5M1447.4 898.8h2.5M1454.7 898.8h2.5M1464.5 898.8h2.5M1479.2 898.8h2.5M1486.6 898.8h2.5M1491.5 898.8h2.5M1498.8 898.8h4.9M1511.1 898.8h2.5M1518.4 898.8h2.5M1324.9 901.2h2.5M1364.1 901.2h2.5M1373.9 901.2h2.5M1435.1 901.2h4.9M1462.1 901.2h4.9M1469.4 901.2h2.5M1547.8 901.2h2.5M1354.3 903.7h2.5M1361.6 903.7h2.5M1369 903.7h7.4M1393.5 903.7h2.5M1410.6 903.7h7.4M1420.4 903.7h2.5M1430.2 903.7h2.5M1437.6 903.7h2.5M1449.8 903.7h2.5M1474.3 903.7h2.5M1491.5 903.7h2.5M1508.6 903.7h2.5M1516 903.7h2.5M1545.4 903.7h2.5M1550.3 903.7h4.9M1557.6 903.7h2.5M1562.5 903.7h2.5M1329.8 906.2h2.5M1346.9 906.2h2.5M1381.2 906.2h2.5M1388.6 906.2h2.5M1422.9 906.2h2.5M1452.3 906.2h2.5M1508.6 906.2h2.5M1528.2 906.2h2.5M1538 906.2h2.5M1550.3 906.2h2.5M1577.2 906.2h2.5M1361.6 908.6h4.9M1369 908.6h2.5M1393.5 908.6h2.5M1425.3 908.6h2.5M1430.2 908.6h2.5M1440 908.6h2.5M1459.6 908.6h2.5M1464.5 908.6h2.5M1471.9 908.6h2.5M1508.6 908.6h2.5M1518.4 908.6h4.9M1525.8 908.6h2.5M1545.4 908.6h4.9M1577.2 908.6h2.5M1359.2 911h2.5M1364.1 911h2.5M1369 911h2.5M1376.3 911h4.9M1440 911h2.5M1444.9 911h2.5M1449.8 911h2.5M1454.7 911h2.5M1486.6 911h2.5M1496.4 911h4.9M1533.1 911h2.5M1574.8 911h2.5M1332.2 913.5h2.5M1359.2 913.5h2.5M1366.5 913.5h2.5M1381.2 913.5h2.5M1388.6 913.5h2.5M1393.5 913.5h2.5M1413.1 913.5h4.9M1420.4 913.5h2.5M1437.6 913.5h4.9M1444.9 913.5h2.5M1474.3 913.5h2.5M1506.2 913.5h2.5M1542.9 913.5h2.5M1329.8 916h2.5M1344.5 916h2.5M1356.7 916h2.5M1361.6 916h2.5M1366.5 916h4.9M1395.9 916h2.5M1403.3 916h4.9M1459.6 916h2.5M1506.2 916h2.5M1520.9 916h2.5M1530.7 916h2.5M1552.7 916h2.5M1351.8 918.4h2.5M1356.7 918.4h2.5M1376.3 918.4h2.5M1405.7 918.4h4.9M1413.1 918.4h2.5M1432.7 918.4h2.5M1442.5 918.4h2.5M1462.1 918.4h2.5M1516 918.4h2.5M1540.5 918.4h2.5M1327.3 920.9h2.5M1339.6 920.9h2.5M1364.1 920.9h2.5M1371.4 920.9h2.5M1378.8 920.9h2.5M1484.1 920.9h2.5M1538 920.9h2.5M1569.9 920.9h2.5M1334.7 923.3h2.5M1351.8 923.3h2.5M1364.1 923.3h2.5M1371.4 923.3h2.5M1425.3 923.3h2.5M1432.7 923.3h2.5M1501.3 923.3h2.5M1506.2 923.3h2.5M1523.3 923.3h4.9M1545.4 923.3h2.5M1565 923.3h2.5M1342 925.8h2.5M1366.5 925.8h2.5M1371.4 925.8h2.5M1376.3 925.8h2.5M1383.7 925.8h4.9M1393.5 925.8h2.5M1427.8 925.8h2.5M1464.5 925.8h2.5M1469.4 925.8h2.5M1476.8 925.8h2.5M1513.5 925.8h4.9M1520.9 925.8h2.5M1525.8 925.8h2.5M1535.6 925.8h2.5M1542.9 925.8h2.5M1354.3 928.2h4.9M1369 928.2h2.5M1400.8 928.2h2.5M1415.5 928.2h2.5M1422.9 928.2h2.5M1430.2 928.2h2.5M1474.3 928.2h2.5M1501.3 928.2h2.5M1511.1 928.2h4.9M1565 928.2h2.5M1329.8 930.7h2.5M1349.4 930.7h2.5M1361.6 930.7h2.5M1369 930.7h4.9M1378.8 930.7h2.5M1408.2 930.7h2.5M1413.1 930.7h2.5M1427.8 930.7h2.5M1432.7 930.7h2.5M1491.5 930.7h2.5M1501.3 930.7h2.5M1533.1 930.7h2.5M1542.9 930.7h2.5M1557.6 930.7h2.5M1565 930.7h2.5M1327.3 933.1h2.5M1332.2 933.1h2.5M1342 933.1h2.5M1349.4 933.1h2.5M1359.2 933.1h2.5M1410.6 933.1h2.5M1447.4 933.1h2.5M1467 933.1h2.5M1481.7 933.1h2.5M1503.7 933.1h2.5M1508.6 933.1h2.5M1577.2 933.1h2.5M1337.1 935.5h2.5M1349.4 935.5h2.5M1361.6 935.5h4.9M1369 935.5h4.9M1376.3 935.5h4.9M1403.3 935.5h2.5M1418 935.5h2.5M1427.8 935.5h2.5M1437.6 935.5h2.5M1442.5 935.5h2.5M1459.6 935.5h2.5M1525.8 935.5h2.5M1550.3 935.5h2.5M1329.8 938h2.5M1418 938h2.5M1437.6 938h2.5M1449.8 938h2.5M1469.4 938h4.9M1508.6 938h2.5M1542.9 938h2.5M1550.3 938h2.5M1562.5 938h2.5M1344.5 940.5h2.5M1369 940.5h2.5M1373.9 940.5h2.5M1378.8 940.5h2.5M1422.9 940.5h2.5M1469.4 940.5h2.5M1479.2 940.5h2.5M1491.5 940.5h2.5M1523.3 940.5h2.5M1547.8 940.5h2.5M1344.5 942.9h2.5M1366.5 942.9h2.5M1415.5 942.9h2.5M1420.4 942.9h2.5M1432.7 942.9h2.5M1496.4 942.9h2.5M1503.7 942.9h2.5M1520.9 942.9h2.5M1530.7 942.9h2.5M1555.2 942.9h2.5M1334.7 945.4h2.5M1342 945.4h2.5M1349.4 945.4h2.5M1405.7 945.4h2.5M1415.5 945.4h2.5M1479.2 945.4h2.5M1508.6 945.4h2.5M1516 945.4h2.5M1538 945.4h2.5M1339.6 947.8h2.5M1369 947.8h2.5M1403.3 947.8h2.5M1432.7 947.8h2.5M1545.4 947.8h2.5M1344.5 950.2h7.4M1364.1 950.2h2.5M1373.9 950.2h4.9M1388.6 950.2h4.9M1430.2 950.2h2.5M1320 952.7h2.5M1339.6 952.7h2.5M1381.2 952.7h2.5M1481.7 952.7h2.5M1511.1 952.7h2.5M1520.9 952.7h2.5M1545.4 952.7h2.5M1557.6 952.7h2.5M1562.5 952.7h2.5M1582.1 952.7h2.5M1369 955.2h2.5M1410.6 955.2h2.5M1420.4 955.2h2.5M1469.4 955.2h2.5M1496.4 955.2h2.5M1523.3 955.2h2.5M1528.2 955.2h2.5" stroke="#808080" stroke-width="2.5" fill="none"/>
<path d="M1324.9 631.8h2.5M1307.7 636.6h2.5M1293 639.1h2.5M1356.7 639.1h7.4M1320 641.5h2.5M1334.7 641.5h2.5M1339.6 641.5h2.5M1351.8 641.5h2.5M1364.1 641.5h2.5M1562.5 641.5h2.5M1577.2 641.5h2.5M1290.6 644h2.5M1295.5 644h2.5M1300.4 644h2.5M1305.3 644h2.5M1312.6 644h2.5M1317.5 644h2.5M1337.1 644h4.9M1354.3 644h2.5M1369 644h7.4M1391 644h2.5M1508.6 644h2.5M1525.8 644h2.5M1285.7 646.5h2.5M1312.6 646.5h2.5M1320 646.5h2.5M1327.3 646.5h2.5M1344.5 646.5h7.4M1359.2 646.5h2.5M1381.2 646.5h2.5M1393.5 646.5h2.5M1403.3 646.5h2.5M1310.2 648.9h2.5M1317.5 648.9h2.5M1324.9 648.9h2.5M1332.2 648.9h2.5M1337.1 648.9h2.5M1349.4 648.9h4.9M1359.2 648.9h2.5M1369 648.9h2.5M1376.3 648.9h2.5M1395.9 648.9h2.5M1420.4 648.9h2.5M1528.2 648.9h2.5M1295.5 651.4h7.4M1305.3 651.4h2.5M1315.1 651.4h2.5M1320 651.4h4.9M1332.2 651.4h2.5M1339.6 651.4h17.2M1369 651.4h2.5M1373.9 651.4h2.5M1388.6 651.4h2.5M1393.5 651.4h2.5M1413.1 651.4h2.5M1435.1 651.4h2.5M1552.7 651.4h2.5M1293 653.8h2.5M1300.4 653.8h2.5M1307.7 653.8h2.5M1312.6 653.8h2.5M1322.4 653.8h2.5M1327.3 653.8h2.5M1342 653.8h12.2M1361.6 653.8h4.9M1369 653.8h2.5M1373.9 653.8h2.5M1381.2 653.8h2.5M1398.4 653.8h2.5M1403.3 653.8h2.5M1422.9 653.8h4.9M1290.6 656.2h2.5M1297.9 656.2h2.5M1307.7 656.2h2.5M1312.6 656.2h2.5M1324.9 656.2h2.5M1332.2 656.2h2.5M1337.1 656.2h2.5M1342 656.2h4.9M1351.8 656.2h2.5M1388.6 656.2h2.5M1398.4 656.2h2.5M1442.5 656.2h2.5M1471.9 656.2h2.5M1545.4 656.2h2.5M1329.8 658.7h2.5M1339.6 658.7h2.5M1351.8 658.7h2.5M1359.2 658.7h2.5M1383.7 658.7h2.5M1393.5 658.7h4.9M1422.9 658.7h2.5M1462.1 658.7h2.5M1297.9 661.1h2.5M1302.8 661.1h2.5M1337.1 661.1h2.5M1354.3 661.1h4.9M1366.5 663.6h2.5M1388.6 663.6h2.5M1410.6 663.6h2.5M1437.6 663.6h2.5M1525.8 663.6h2.5M1327.3 666h2.5M1364.1 666h2.5M1403.3 666h2.5M1420.4 666h4.9M1437.6 666h2.5M1293 668.5h2.5M1525.8 668.5h2.5M1440 671h2.5M1386.1 673.4h2.5M1496.4 673.4h4.9M1530.7 673.4h2.5M1569.9 675.9h2.5M1295.5 678.3h2.5M1447.4 678.3h2.5M1462.1 678.3h2.5M1471.9 678.3h2.5M1511.1 678.3h2.5M1516 678.3h2.5M1444.9 680.8h2.5M1496.4 680.8h2.5M1457.2 683.2h2.5M1479.2 683.2h2.5M1555.2 683.2h2.5M1359.2 685.6h2.5M1422.9 685.6h2.5M1481.7 685.6h2.5M1486.6 685.6h2.5M1562.5 685.6h2.5M1381.2 688.1h2.5M1437.6 688.1h2.5M1447.4 688.1h2.5M1528.2 688.1h2.5M1418 690.5h2.5M1528.2 690.5h2.5M1542.9 690.5h2.5M1395.9 693h2.5M1435.1 693h2.5M1457.2 693h2.5M1471.9 693h2.5M1476.8 693h2.5M1489 693h2.5M1513.5 693h2.5M1520.9 693h2.5M1297.9 695.5h2.5M1400.8 695.5h2.5M1327.3 697.9h2.5M1344.5 697.9h2.5M1391 697.9h2.5M1422.9 697.9h2.5M1535.6 697.9h2.5M1565 697.9h2.5M1388.6 700.4h2.5M1408.2 700.4h2.5M1442.5 700.4h4.9M1481.7 702.8h2.5M1349.4 705.2h2.5M1376.3 705.2h2.5M1420.4 705.2h2.5M1476.8 707.7h2.5M1290.6 712.6h4.9M1351.8 712.6h2.5M1474.3 712.6h2.5M1342 715h2.5M1364.1 715h2.5M1469.4 715h2.5M1574.8 715h2.5M1408.2 717.5h2.5M1555.2 717.5h2.5M1444.9 720h2.5M1462.1 720h2.5M1523.3 720h2.5M1540.5 720h2.5M1552.7 722.4h2.5M1307.7 724.9h2.5M1317.5 724.9h2.5M1361.6 724.9h2.5M1425.3 724.9h2.5M1435.1 724.9h2.5M1442.5 724.9h2.5M1486.6 724.9h2.5M1569.9 724.9h2.5M1354.3 727.3h2.5M1378.8 727.3h2.5M1290.6 729.8h2.5M1506.2 729.8h2.5M1538 729.8h2.5M1481.7 734.6h2.5M1457.2 739.5h2.5M1371.4 746.9h2.5M1373.9 749.4h4.9M1435.1 749.4h2.5M1484.1 749.4h2.5M1320 751.8h2.5M1498.8 751.8h2.5M1381.2 754.2h2.5M1398.4 754.2h2.5M1484.1 754.2h2.5M1400.8 756.7h2.5M1420.4 756.7h2.5M1454.7 759.1h2.5M1479.2 759.1h2.5M1489 759.1h2.5M1459.6 761.6h2.5M1486.6 764h2.5M1405.7 766.5h2.5M1535.6 766.5h2.5M1381.2 769h2.5M1547.8 769h2.5M1567.4 769h2.5M1371.4 771.4h2.5M1560.1 771.4h2.5M1339.6 773.9h2.5M1491.5 773.9h2.5M1503.7 773.9h2.5M1545.4 773.9h2.5M1388.6 776.3h2.5M1471.9 776.3h2.5M1501.3 776.3h2.5M1501.3 778.8h2.5M1511.1 778.8h2.5M1520.9 778.8h2.5M1542.9 778.8h2.5M1422.9 781.2h2.5M1491.5 783.6h2.5M1334.7 786.1h2.5M1364.1 786.1h2.5M1373.9 786.1h2.5M1442.5 786.1h2.5M1459.6 786.1h2.5M1518.4 786.1h2.5M1332.2 788.5h2.5M1491.5 788.5h2.5M1562.5 788.5h2.5M1381.2 791h2.5M1420.4 791h4.9M1506.2 791h2.5M1525.8 791h2.5M1410.6 793.5h2.5M1552.7 793.5h2.5M1388.6 795.9h2.5M1337.1 800.8h2.5M1395.9 800.8h2.5M1422.9 800.8h2.5M1383.7 803.2h2.5M1405.7 803.2h2.5M1447.4 803.2h2.5M1518.4 803.2h2.5M1459.6 805.7h2.5M1486.6 805.7h2.5M1503.7 805.7h2.5M1356.7 808.1h2.5M1393.5 808.1h4.9M1545.4 808.1h2.5M1582.1 808.1h2.5M1332.2 810.6h2.5M1371.4 810.6h2.5M1383.7 810.6h2.5M1511.1 810.6h2.5M1533.1 810.6h2.5M1545.4 810.6h2.5M1351.8 813h2.5M1476.8 813h4.9M1530.7 813h2.5M1327.3 815.5h2.5M1334.7 815.5h2.5M1339.6 815.5h2.5M1346.9 815.5h2.5M1408.2 815.5h2.5M1425.3 815.5h2.5M1437.6 815.5h2.5M1508.6 815.5h2.5M1315.1 818h2.5M1327.3 818h2.5M1395.9 818h2.5M1403.3 818h2.5M1422.9 818h2.5M1432.7 818h2.5M1337.1 820.4h2.5M1342 820.4h2.5M1351.8 820.4h4.9M1359.2 820.4h4.9M1418 820.4h2.5M1425.3 820.4h2.5M1432.7 820.4h2.5M1491.5 820.4h2.5M1516 820.4h2.5M1332.2 822.9h4.9M1339.6 822.9h2.5M1344.5 822.9h2.5M1349.4 822.9h4.9M1356.7 822.9h2.5M1425.3 822.9h2.5M1528.2 822.9h2.5M1550.3 822.9h2.5M1324.9 825.3h2.5M1346.9 825.3h2.5M1351.8 825.3h2.5M1366.5 825.3h2.5M1378.8 825.3h2.5M1403.3 825.3h2.5M1408.2 825.3h2.5M1430.2 825.3h2.5M1506.2 825.3h2.5M1552.7 825.3h2.5M1567.4 825.3h2.5M1342 827.8h2.5M1354.3 827.8h2.5M1361.6 827.8h4.9M1371.4 827.8h4.9M1413.1 827.8h2.5M1430.2 827.8h2.5M1486.6 827.8h2.5M1320 830.2h2.5M1332.2 830.2h2.5M1337.1 830.2h2.5M1344.5 830.2h2.5M1354.3 830.2h2.5M1430.2 830.2h4.9M1506.2 830.2h2.5M1528.2 830.2h2.5M1337.1 832.6h2.5M1342 832.6h2.5M1346.9 832.6h7.4M1356.7 832.6h9.8M1371.4 832.6h2.5M1386.1 832.6h2.5M1427.8 832.6h2.5M1444.9 832.6h2.5M1484.1 832.6h2.5M1501.3 832.6h4.9M1327.3 835.1h2.5M1342 835.1h2.5M1346.9 835.1h2.5M1361.6 835.1h2.5M1476.8 835.1h2.5M1493.9 835.1h4.9M1342 837.5h2.5M1346.9 837.5h2.5M1351.8 837.5h2.5M1359.2 837.5h2.5M1381.2 837.5h2.5M1403.3 837.5h2.5M1432.7 837.5h2.5M1481.7 837.5h4.9M1322.4 840h2.5M1334.7 840h4.9M1344.5 840h7.4M1354.3 840h2.5M1361.6 840h2.5M1373.9 840h2.5M1381.2 840h4.9M1395.9 840h2.5M1565 840h2.5M1317.5 842.5h2.5M1324.9 842.5h4.9M1337.1 842.5h2.5M1342 842.5h2.5M1349.4 842.5h9.8M1388.6 842.5h2.5M1398.4 842.5h2.5M1420.4 842.5h2.5M1457.2 842.5h2.5M1506.2 842.5h2.5M1337.1 844.9h2.5M1342 844.9h4.9M1349.4 844.9h4.9M1356.7 844.9h4.9M1364.1 844.9h7.4M1388.6 844.9h2.5M1432.7 844.9h2.5M1437.6 844.9h2.5M1452.3 844.9h2.5M1496.4 844.9h2.5M1520.9 844.9h2.5M1538 844.9h2.5M1315.1 847.4h2.5M1322.4 847.4h2.5M1327.3 847.4h2.5M1337.1 847.4h2.5M1342 847.4h9.8M1356.7 847.4h2.5M1361.6 847.4h2.5M1410.6 847.4h4.9M1471.9 847.4h2.5M1547.8 847.4h2.5M1552.7 847.4h2.5M1329.8 849.8h2.5M1337.1 849.8h4.9M1344.5 849.8h2.5M1349.4 849.8h2.5M1356.7 849.8h7.4M1378.8 849.8h2.5M1386.1 849.8h2.5M1395.9 849.8h2.5M1454.7 849.8h2.5M1464.5 849.8h2.5M1486.6 849.8h2.5M1520.9 849.8h2.5M1317.5 852.2h2.5M1322.4 852.2h2.5M1329.8 852.2h2.5M1337.1 852.2h14.7M1366.5 852.2h2.5M1386.1 852.2h2.5M1479.2 852.2h2.5M1489 852.2h2.5M1508.6 852.2h2.5M1520.9 852.2h2.5M1547.8 852.2h2.5M1329.8 854.7h2.5M1337.1 854.7h19.6M1366.5 854.7h7.4M1415.5 854.7h2.5M1481.7 854.7h2.5M1503.7 854.7h2.5M1327.3 857.2h4.9M1334.7 857.2h2.5M1342 857.2h2.5M1349.4 857.2h14.7M1366.5 857.2h2.5M1376.3 857.2h4.9M1415.5 857.2h2.5M1440 857.2h2.5M1474.3 857.2h2.5M1540.5 857.2h4.9M1569.9 857.2h2.5M1320 859.6h2.5M1329.8 859.6h2.5M1334.7 859.6h12.2M1349.4 859.6h2.5M1354.3 859.6h2.5M1359.2 859.6h7.4M1371.4 859.6h2.5M1376.3 859.6h4.9M1386.1 859.6h2.5M1489 859.6h2.5M1513.5 859.6h2.5M1315.1 862h2.5M1324.9 862h2.5M1329.8 862h4.9M1339.6 862h2.5M1344.5 862h22.1M1369 862h7.4M1386.1 862h2.5M1496.4 862h2.5M1501.3 862h2.5M1528.2 862h4.9M1562.5 862h2.5M1317.5 864.5h2.5M1329.8 864.5h34.3M1366.5 864.5h2.5M1373.9 864.5h2.5M1418 864.5h2.5M1432.7 864.5h2.5M1317.5 867h2.5M1322.4 867h2.5M1329.8 867h2.5M1337.1 867h2.5M1344.5 867h9.8M1361.6 867h2.5M1369 867h2.5M1388.6 867h2.5M1405.7 867h2.5M1447.4 867h2.5M1324.9 869.4h2.5M1329.8 869.4h2.5M1342 869.4h9.8M1354.3 869.4h2.5M1364.1 869.4h2.5M1369 869.4h2.5M1381.2 869.4h2.5M1518.4 869.4h2.5M1547.8 869.4h2.5M1324.9 871.9h2.5M1329.8 871.9h12.2M1346.9 871.9h7.4M1356.7 871.9h4.9M1366.5 871.9h2.5M1376.3 871.9h2.5M1381.2 871.9h2.5M1391 871.9h2.5M1398.4 871.9h2.5M1405.7 871.9h2.5M1484.1 871.9h2.5M1498.8 871.9h2.5M1540.5 871.9h2.5M1312.6 874.3h2.5M1320 874.3h4.9M1327.3 874.3h2.5M1332.2 874.3h2.5M1337.1 874.3h24.5M1369 874.3h2.5M1381.2 874.3h4.9M1393.5 874.3h2.5M1479.2 874.3h2.5M1523.3 874.3h2.5M1312.6 876.8h2.5M1332.2 876.8h22.1M1356.7 876.8h2.5M1361.6 876.8h9.8M1378.8 876.8h2.5M1440 876.8h2.5M1474.3 876.8h2.5M1315.1 879.2h2.5M1329.8 879.2h7.4M1339.6 879.2h4.9M1346.9 879.2h19.6M1369 879.2h2.5M1449.8 879.2h2.5M1520.9 879.2h2.5M1542.9 879.2h2.5M1317.5 881.7h2.5M1324.9 881.7h2.5M1332.2 881.7h2.5M1337.1 881.7h19.6M1361.6 881.7h4.9M1369 881.7h2.5M1376.3 881.7h2.5M1452.3 881.7h2.5M1486.6 881.7h2.5M1511.1 881.7h2.5M1545.4 881.7h2.5M1315.1 884.1h2.5M1322.4 884.1h2.5M1334.7 884.1h12.2M1349.4 884.1h2.5M1354.3 884.1h2.5M1361.6 884.1h7.4M1393.5 884.1h2.5M1413.1 884.1h4.9M1447.4 884.1h2.5M1506.2 884.1h2.5M1520.9 884.1h2.5M1545.4 884.1h2.5M1555.2 884.1h2.5M1315.1 886.5h2.5M1322.4 886.5h2.5M1332.2 886.5h2.5M1339.6 886.5h24.5M1371.4 886.5h2.5M1410.6 886.5h2.5M1474.3 886.5h2.5M1317.5 889h2.5M1339.6 889h2.5M1344.5 889h2.5M1349.4 889h9.8M1361.6 889h2.5M1369 889h2.5M1376.3 889h2.5M1408.2 889h2.5M1459.6 889h2.5M1535.6 889h2.5M1545.4 889h2.5M1327.3 891.5h2.5M1334.7 891.5h19.6M1356.7 891.5h7.4M1405.7 891.5h2.5M1415.5 891.5h2.5M1440 891.5h2.5M1447.4 891.5h2.5M1452.3 891.5h2.5M1457.2 891.5h2.5M1324.9 893.9h2.5M1332.2 893.9h7.4M1344.5 893.9h4.9M1351.8 893.9h12.2M1369 893.9h2.5M1400.8 893.9h2.5M1408.2 893.9h2.5M1418 893.9h2.5M1464.5 893.9h2.5M1305.3 896.4h4.9M1332.2 896.4h2.5M1337.1 896.4h12.2M1351.8 896.4h12.2M1366.5 896.4h2.5M1373.9 896.4h2.5M1474.3 896.4h2.5M1538 896.4h2.5M1545.4 896.4h2.5M1565 896.4h2.5M1324.9 898.8h2.5M1334.7 898.8h2.5M1339.6 898.8h7.4M1349.4 898.8h7.4M1359.2 898.8h4.9M1391 898.8h2.5M1403.3 898.8h2.5M1437.6 898.8h2.5M1462.1 898.8h2.5M1320 901.2h2.5M1329.8 901.2h2.5M1334.7 901.2h17.2M1354.3 901.2h9.8M1395.9 901.2h2.5M1415.5 901.2h2.5M1425.3 901.2h2.5M1540.5 901.2h2.5M1327.3 903.7h2.5M1339.6 903.7h9.8M1351.8 903.7h2.5M1356.7 903.7h2.5M1381.2 903.7h2.5M1425.3 903.7h2.5M1435.1 903.7h2.5M1501.3 903.7h2.5M1523.3 903.7h4.9M1332.2 906.2h14.7M1349.4 906.2h7.4M1359.2 906.2h4.9M1373.9 906.2h2.5M1383.7 906.2h2.5M1486.6 906.2h2.5M1545.4 906.2h2.5M1569.9 906.2h2.5M1322.4 908.6h2.5M1334.7 908.6h4.9M1342 908.6h7.4M1351.8 908.6h9.8M1371.4 908.6h2.5M1376.3 908.6h2.5M1413.1 908.6h2.5M1469.4 908.6h2.5M1523.3 908.6h2.5M1557.6 908.6h2.5M1332.2 911h4.9M1339.6 911h12.2M1354.3 911h2.5M1391 911h2.5M1435.1 911h2.5M1471.9 911h2.5M1523.3 911h2.5M1346.9 913.5h12.2M1369 913.5h2.5M1322.4 916h2.5M1334.7 916h2.5M1339.6 916h4.9M1349.4 916h7.4M1376.3 916h4.9M1518.4 916h2.5M1528.2 916h2.5M1324.9 918.4h2.5M1329.8 918.4h2.5M1334.7 918.4h9.8M1349.4 918.4h2.5M1354.3 918.4h2.5M1359.2 918.4h2.5M1364.1 918.4h4.9M1371.4 918.4h4.9M1381.2 918.4h2.5M1489 918.4h2.5M1518.4 918.4h2.5M1547.8 918.4h2.5M1577.2 918.4h2.5M1334.7 920.9h4.9M1342 920.9h14.7M1359.2 920.9h4.9M1366.5 920.9h2.5M1391 920.9h2.5M1555.2 920.9h2.5M1320 923.3h4.9M1337.1 923.3h2.5M1342 923.3h2.5M1346.9 923.3h4.9M1356.7 923.3h2.5M1361.6 923.3h2.5M1366.5 923.3h4.9M1413.1 923.3h2.5M1418 923.3h2.5M1440 923.3h2.5M1469.4 923.3h2.5M1489 923.3h2.5M1503.7 923.3h2.5M1320 925.8h2.5M1324.9 925.8h2.5M1329.8 925.8h2.5M1337.1 925.8h4.9M1344.5 925.8h2.5M1351.8 925.8h2.5M1364.1 925.8h2.5M1378.8 925.8h2.5M1503.7 925.8h2.5M1329.8 928.2h4.9M1342 928.2h2.5M1349.4 928.2h4.9M1361.6 928.2h2.5M1366.5 928.2h2.5M1383.7 928.2h7.4M1484.1 928.2h2.5M1332.2 930.7h4.9M1344.5 930.7h4.9M1356.7 930.7h4.9M1364.1 930.7h4.9M1376.3 930.7h2.5M1550.3 930.7h2.5M1322.4 933.1h4.9M1339.6 933.1h2.5M1351.8 933.1h4.9M1381.2 933.1h2.5M1471.9 933.1h2.5M1339.6 935.5h7.4M1496.4 935.5h2.5M1334.7 938h7.4M1344.5 938h2.5M1356.7 938h2.5M1373.9 938h2.5M1565 938h2.5M1320 940.5h2.5M1324.9 940.5h2.5M1334.7 940.5h4.9M1342 940.5h2.5M1354.3 940.5h2.5M1359.2 940.5h2.5M1366.5 940.5h2.5M1400.8 940.5h2.5M1501.3 940.5h2.5M1349.4 942.9h2.5M1359.2 942.9h2.5M1322.4 945.4h2.5M1332.2 945.4h2.5M1337.1 945.4h2.5M1344.5 945.4h2.5M1354.3 945.4h2.5M1391 945.4h2.5M1317.5 947.8h2.5M1342 947.8h2.5M1349.4 947.8h2.5M1359.2 947.8h2.5M1359.2 950.2h4.9M1366.5 950.2h2.5M1371.4 950.2h2.5M1422.9 950.2h2.5M1540.5 950.2h2.5M1337.1 952.7h2.5M1373.9 952.7h2.5M1386.1 952.7h2.5M1442.5 952.7h2.5M1454.7 952.7h2.5M1467 952.7h2.5M1320 955.2h2.5M1337.1 955.2h4.9M1354.3 955.2h2.5M1371.4 955.2h2.5M1383.7 955.2h2.5M1506.2 955.2h2.5" stroke="#0000ff" stroke-width="2.5" fill="none"/>
<path d="M1457.2 617h2.5M1403.3 619.5h2.5M1577.2 619.5h2.5M1471.9 622h2.5M1479.2 622h2.5M1579.7 622h2.5M1329.8 624.4h2.5M1493.9 624.4h2.5M1594.4 624.4h2.5M1391 626.9h2.5M1464.5 626.9h2.5M1503.7 626.9h2.5M1582.1 626.9h2.5M1589.5 626.9h2.5M1420.4 629.3h2.5M1535.6 629.3h2.5M1555.2 629.3h2.5M1565 629.3h2.5M1591.9 629.3h2.5M1322.4 631.8h2.5M1415.5 631.8h2.5M1467 631.8h2.5M1498.8 631.8h2.5M1523.3 631.8h2.5M1297.9 634.2h4.9M1354.3 634.2h2.5M1403.3 634.2h2.5M1420.4 634.2h2.5M1425.3 634.2h2.5M1432.7 634.2h2.5M1474.3 634.2h2.5M1496.4 634.2h4.9M1523.3 634.2h2.5M1591.9 634.2h2.5M1334.7 636.6h2.5M1354.3 636.6h2.5M1378.8 636.6h4.9M1400.8 636.6h2.5M1415.5 636.6h2.5M1427.8 636.6h2.5M1432.7 636.6h2.5M1447.4 636.6h2.5M1454.7 636.6h2.5M1474.3 636.6h2.5M1496.4 636.6h7.4M1533.1 636.6h4.9M1545.4 636.6h2.5M1560.1 636.6h2.5M1569.9 636.6h2.5M1579.7 636.6h2.5M1589.5 636.6h2.5M1366.5 639.1h2.5M1371.4 639.1h2.5M1383.7 639.1h2.5M1388.6 639.1h2.5M1395.9 639.1h2.5M1403.3 639.1h2.5M1413.1 639.1h2.5M1452.3 639.1h2.5M1462.1 639.1h2.5M1469.4 639.1h2.5M1501.3 639.1h2.5M1533.1 639.1h2.5M1540.5 639.1h2.5M1550.3 639.1h2.5M1560.1 639.1h2.5M1569.9 639.1h4.9M1594.4 639.1h2.5M1305.3 641.5h2.5M1322.4 641.5h2.5M1359.2 641.5h4.9M1383.7 641.5h2.5M1388.6 641.5h7.4M1398.4 641.5h2.5M1405.7 641.5h12.2M1430.2 641.5h9.8M1442.5 641.5h2.5M1462.1 641.5h2.5M1467 641.5h4.9M1476.8 641.5h2.5M1486.6 641.5h4.9M1501.3 641.5h4.9M1518.4 641.5h4.9M1525.8 641.5h2.5M1533.1 641.5h4.9M1542.9 641.5h4.9M1557.6 641.5h2.5M1324.9 644h12.2M1342 644h9.8M1364.1 644h4.9M1376.3 644h2.5M1383.7 644h7.4M1395.9 644h9.8M1408.2 644h14.7M1425.3 644h2.5M1432.7 644h4.9M1440 644h2.5M1444.9 644h14.7M1464.5 644h2.5M1469.4 644h2.5M1481.7 644h2.5M1486.6 644h2.5M1491.5 644h12.2M1506.2 644h2.5M1516 644h4.9M1528.2 644h9.8M1540.5 644h2.5M1545.4 644h7.4M1557.6 644h2.5M1562.5 644h2.5M1567.4 644h4.9M1582.1 644h4.9M1589.5 644h2.5M1599.3 644h2.5M1305.3 646.5h2.5M1315.1 646.5h2.5M1324.9 646.5h2.5M1334.7 646.5h2.5M1339.6 646.5h2.5M1351.8 646.5h7.4M1364.1 646.5h4.9M1371.4 646.5h7.4M1383.7 646.5h4.9M1391 646.5h2.5M1395.9 646.5h2.5M1400.8 646.5h2.5M1405.7 646.5h7.4M1418 646.5h49M1469.4 646.5h7.4M1479.2 646.5h9.8M1493.9 646.5h4.9M1506.2 646.5h7.4M1518.4 646.5h7.4M1528.2 646.5h4.9M1535.6 646.5h12.2M1550.3 646.5h4.9M1560.1 646.5h7.4M1574.8 646.5h2.5M1589.5 646.5h2.5M1305.3 648.9h4.9M1312.6 648.9h4.9M1320 648.9h4.9M1327.3 648.9h4.9M1334.7 648.9h2.5M1342 648.9h2.5M1346.9 648.9h2.5M1354.3 648.9h4.9M1361.6 648.9h7.4M1371.4 648.9h4.9M1378.8 648.9h17.2M1398.4 648.9h22.1M1422.9 648.9h105.4M1530.7 648.9h2.5M1535.6 648.9h31.9M1569.9 648.9h2.5M1574.8 648.9h2.5M1582.1 648.9h4.9M1290.6 651.4h2.5M1302.8 651.4h2.5M1307.7 651.4h7.4M1317.5 651.4h2.5M1324.9 651.4h7.4M1334.7 651.4h4.9M1356.7 651.4h12.2M1371.4 651.4h2.5M1376.3 651.4h12.2M1391 651.4h2.5M1395.9 651.4h17.2M1415.5 651.4h19.6M1437.6 651.4h53.9M1493.9 651.4h49M1545.4 651.4h7.4M1555.2 651.4h9.8M1567.4 651.4h4.9M1574.8 651.4h7.4M1584.6 651.4h7.4M1283.2 653.8h2.5M1288.1 653.8h2.5M1302.8 653.8h4.9M1310.2 653.8h2.5M1315.1 653.8h7.4M1324.9 653.8h2.5M1329.8 653.8h7.4M1339.6 653.8h2.5M1354.3 653.8h7.4M1366.5 653.8h2.5M1371.4 653.8h2.5M1376.3 653.8h4.9M1383.7 653.8h14.7M1400.8 653.8h2.5M1405.7 653.8h17.2M1427.8 653.8h24.5M1454.7 653.8h12.2M1469.4 653.8h36.8M1508.6 653.8h63.7M1574.8 653.8h4.9M1584.6 653.8h2.5M1295.5 656.2h2.5M1300.4 656.2h7.4M1310.2 656.2h2.5M1315.1 656.2h9.8M1327.3 656.2h4.9M1334.7 656.2h2.5M1339.6 656.2h2.5M1346.9 656.2h4.9M1354.3 656.2h34.3M1391 656.2h7.4M1400.8 656.2h41.7M1444.9 656.2h26.9M1476.8 656.2h31.9M1511.1 656.2h34.3M1547.8 656.2h22.1M1574.8 656.2h2.5M1579.7 656.2h2.5M1599.3 656.2h2.5M1283.2 658.7h2.5M1293 658.7h4.9M1300.4 658.7h29.4M1332.2 658.7h7.4M1342 658.7h9.8M1354.3 658.7h4.9M1361.6 658.7h22.1M1386.1 658.7h7.4M1400.8 658.7h22.1M1425.3 658.7h12.2M1440 658.7h14.7M1457.2 658.7h4.9M1464.5 658.7h110.3M1594.4 658.7h2.5M1290.6 661.1h7.4M1300.4 661.1h2.5M1305.3 661.1h31.9M1339.6 661.1h14.7M1359.2 661.1h154.3M1516 661.1h58.8M1582.1 661.1h2.5M1587 661.1h4.9M1601.7 661.1h2.5M1606.6 661.1h2.5M1288.1 663.6h73.5M1364.1 663.6h2.5M1369 663.6h19.6M1391 663.6h19.6M1413.1 663.6h24.5M1440 663.6h85.8M1528.2 663.6h44.1M1584.6 663.6h2.5M1591.9 663.6h7.4M1290.6 666h2.5M1295.5 666h31.9M1329.8 666h34.3M1366.5 666h36.8M1405.7 666h14.7M1425.3 666h12.2M1440 666h134.8M1577.2 666h4.9M1587 666h2.5M1596.8 666h2.5M1283.2 668.5h2.5M1300.4 668.5h88.2M1391 668.5h19.6M1413.1 668.5h12.2M1427.8 668.5h7.4M1437.6 668.5h2.5M1442.5 668.5h22.1M1467 668.5h41.7M1511.1 668.5h14.7M1528.2 668.5h41.7M1579.7 668.5h2.5M1594.4 668.5h2.5M1293 671h2.5M1297.9 671h142.1M1442.5 671h7.4M1452.3 671h7.4M1462.1 671h102.9M1567.4 671h2.5M1579.7 671h2.5M1587 671h2.5M1594.4 671h2.5M1599.3 671h2.5M1285.7 673.4h7.4M1295.5 673.4h90.7M1388.6 673.4h2.5M1393.5 673.4h68.6M1464.5 673.4h31.9M1501.3 673.4h29.4M1533.1 673.4h31.9M1567.4 673.4h2.5M1579.7 673.4h2.5M1584.6 673.4h2.5M1290.6 675.9h2.5M1295.5 675.9h2.5M1300.4 675.9h39.2M1342 675.9h44.1M1388.6 675.9h9.8M1400.8 675.9h4.9M1408.2 675.9h26.9M1437.6 675.9h2.5M1442.5 675.9h29.4M1474.3 675.9h61.3M1538 675.9h2.5M1542.9 675.9h24.5M1574.8 675.9h2.5M1579.7 675.9h4.9M1604.2 675.9h2.5M1297.9 678.3h31.9M1332.2 678.3h12.2M1346.9 678.3h61.3M1410.6 678.3h36.8M1449.8 678.3h2.5M1454.7 678.3h2.5M1459.6 678.3h2.5M1464.5 678.3h4.9M1474.3 678.3h36.8M1513.5 678.3h2.5M1518.4 678.3h12.2M1533.1 678.3h29.4M1567.4 678.3h4.9M1582.1 678.3h4.9M1290.6 680.8h7.4M1300.4 680.8h24.5M1327.3 680.8h117.6M1447.4 680.8h44.1M1493.9 680.8h2.5M1498.8 680.8h41.7M1542.9 680.8h24.5M1300.4 683.2h129.8M1432.7 683.2h24.5M1459.6 683.2h9.8M1471.9 683.2h7.4M1481.7 683.2h73.5M1557.6 683.2h4.9M1584.6 683.2h2.5M1596.8 683.2h2.5M1297.9 685.6h61.3M1361.6 685.6h29.4M1393.5 685.6h29.4M1425.3 685.6h56.4M1489 685.6h56.4M1547.8 685.6h9.8M1560.1 685.6h2.5M1584.6 685.6h2.5M1295.5 688.1h7.4M1305.3 688.1h46.6M1354.3 688.1h26.9M1383.7 688.1h51.5M1442.5 688.1h4.9M1452.3 688.1h46.6M1501.3 688.1h22.1M1525.8 688.1h2.5M1530.7 688.1h12.2M1545.4 688.1h9.8M1557.6 688.1h4.9M1584.6 688.1h2.5M1295.5 690.5h4.9M1302.8 690.5h4.9M1310.2 690.5h36.8M1349.4 690.5h46.6M1398.4 690.5h17.2M1420.4 690.5h31.9M1454.7 690.5h73.5M1530.7 690.5h12.2M1545.4 690.5h7.4M1555.2 690.5h7.4M1604.2 690.5h2.5M1295.5 693h2.5M1300.4 693h95.6M1398.4 693h36.8M1437.6 693h19.6M1459.6 693h12.2M1474.3 693h2.5M1479.2 693h9.8M1491.5 693h22.1M1516 693h4.9M1523.3 693h34.3M1562.5 693h2.5M1567.4 693h2.5M1293 695.5h2.5M1307.7 695.5h2.5M1312.6 695.5h88.2M1403.3 695.5h161.7M1307.7 697.9h17.2M1329.8 697.9h14.7M1346.9 697.9h44.1M1393.5 697.9h29.4M1425.3 697.9h17.2M1444.9 697.9h88.2M1538 697.9h19.6M1560.1 697.9h4.9M1567.4 697.9h2.5M1307.7 700.4h80.9M1391 700.4h17.2M1410.6 700.4h22.1M1440 700.4h2.5M1447.4 700.4h2.5M1452.3 700.4h24.5M1479.2 700.4h22.1M1503.7 700.4h14.7M1520.9 700.4h4.9M1528.2 700.4h12.2M1545.4 700.4h2.5M1550.3 700.4h2.5M1555.2 700.4h4.9M1562.5 700.4h2.5M1574.8 700.4h2.5M1305.3 702.8h2.5M1310.2 702.8h4.9M1317.5 702.8h80.9M1400.8 702.8h14.7M1418 702.8h22.1M1442.5 702.8h2.5M1449.8 702.8h9.8M1462.1 702.8h12.2M1476.8 702.8h4.9M1484.1 702.8h2.5M1491.5 702.8h2.5M1503.7 702.8h14.7M1520.9 702.8h2.5M1530.7 702.8h12.2M1545.4 702.8h14.7M1562.5 702.8h4.9M1300.4 705.2h7.4M1310.2 705.2h2.5M1315.1 705.2h34.3M1354.3 705.2h22.1M1378.8 705.2h19.6M1405.7 705.2h4.9M1413.1 705.2h7.4M1425.3 705.2h17.2M1444.9 705.2h7.4M1454.7 705.2h2.5M1462.1 705.2h9.8M1484.1 705.2h9.8M1496.4 705.2h26.9M1525.8 705.2h2.5M1530.7 705.2h14.7M1547.8 705.2h19.6M1315.1 707.7h44.1M1361.6 707.7h36.8M1403.3 707.7h7.4M1415.5 707.7h14.7M1432.7 707.7h12.2M1449.8 707.7h2.5M1454.7 707.7h7.4M1464.5 707.7h2.5M1469.4 707.7h7.4M1479.2 707.7h7.4M1489 707.7h2.5M1493.9 707.7h2.5M1498.8 707.7h4.9M1506.2 707.7h4.9M1513.5 707.7h2.5M1518.4 707.7h12.2M1538 707.7h7.4M1547.8 707.7h2.5M1560.1 707.7h2.5M1295.5 710.1h2.5M1310.2 710.1h2.5M1317.5 710.1h78.4M1398.4 710.1h4.9M1405.7 710.1h2.5M1418 710.1h9.8M1432.7 710.1h2.5M1437.6 710.1h9.8M1452.3 710.1h22.1M1479.2 710.1h4.9M1486.6 710.1h2.5M1491.5 710.1h4.9M1503.7 710.1h2.5M1508.6 710.1h7.4M1518.4 710.1h4.9M1528.2 710.1h2.5M1538 710.1h2.5M1545.4 710.1h2.5M1555.2 710.1h2.5M1560.1 710.1h2.5M1305.3 712.6h2.5M1317.5 712.6h34.3M1354.3 712.6h41.7M1408.2 712.6h2.5M1415.5 712.6h2.5M1422.9 712.6h14.7M1444.9 712.6h4.9M1452.3 712.6h7.4M1469.4 712.6h4.9M1476.8 712.6h7.4M1491.5 712.6h2.5M1496.4 712.6h2.5M1503.7 712.6h2.5M1508.6 712.6h2.5M1513.5 712.6h7.4M1523.3 712.6h14.7M1542.9 712.6h14.7M1569.9 712.6h2.5M1317.5 715h7.4M1327.3 715h14.7M1344.5 715h19.6M1366.5 715h29.4M1408.2 715h7.4M1425.3 715h2.5M1437.6 715h2.5M1444.9 715h2.5M1449.8 715h2.5M1454.7 715h2.5M1459.6 715h2.5M1467 715h2.5M1471.9 715h7.4M1484.1 715h4.9M1491.5 715h2.5M1501.3 715h2.5M1506.2 715h2.5M1511.1 715h2.5M1530.7 715h14.7M1547.8 715h2.5M1552.7 715h4.9M1315.1 717.5h2.5M1324.9 717.5h61.3M1388.6 717.5h2.5M1400.8 717.5h2.5M1405.7 717.5h2.5M1410.6 717.5h2.5M1430.2 717.5h2.5M1437.6 717.5h4.9M1457.2 717.5h4.9M1464.5 717.5h2.5M1484.1 717.5h2.5M1498.8 717.5h2.5M1506.2 717.5h2.5M1511.1 717.5h2.5M1518.4 717.5h2.5M1523.3 717.5h2.5M1530.7 717.5h2.5M1535.6 717.5h2.5M1547.8 717.5h2.5M1560.1 717.5h4.9M1567.4 717.5h2.5M1312.6 720h14.7M1329.8 720h61.3M1395.9 720h2.5M1410.6 720h2.5M1425.3 720h2.5M1440 720h2.5M1449.8 720h2.5M1459.6 720h2.5M1481.7 720h2.5M1486.6 720h2.5M1491.5 720h4.9M1498.8 720h2.5M1503.7 720h4.9M1520.9 720h2.5M1525.8 720h2.5M1530.7 720h2.5M1535.6 720h2.5M1552.7 720h4.9M1560.1 720h2.5M1565 720h7.4M1312.6 722.4h4.9M1320 722.4h2.5M1327.3 722.4h2.5M1332.2 722.4h46.6M1381.2 722.4h4.9M1388.6 722.4h9.8M1403.3 722.4h2.5M1415.5 722.4h2.5M1427.8 722.4h2.5M1432.7 722.4h2.5M1457.2 722.4h2.5M1462.1 722.4h4.9M1471.9 722.4h2.5M1479.2 722.4h7.4M1489 722.4h2.5M1506.2 722.4h7.4M1518.4 722.4h7.4M1538 722.4h2.5M1542.9 722.4h2.5M1550.3 722.4h2.5M1557.6 722.4h2.5M1562.5 722.4h2.5M1567.4 722.4h2.5M1320 724.9h2.5M1327.3 724.9h7.4M1337.1 724.9h24.5M1369 724.9h4.9M1376.3 724.9h12.2M1393.5 724.9h4.9M1415.5 724.9h2.5M1420.4 724.9h2.5M1432.7 724.9h2.5M1452.3 724.9h2.5M1469.4 724.9h2.5M1491.5 724.9h2.5M1506.2 724.9h2.5M1511.1 724.9h2.5M1516 724.9h4.9M1530.7 724.9h2.5M1550.3 724.9h7.4M1560.1 724.9h2.5M1329.8 727.3h2.5M1334.7 727.3h2.5M1339.6 727.3h4.9M1351.8 727.3h2.5M1356.7 727.3h2.5M1361.6 727.3h2.5M1366.5 727.3h12.2M1383.7 727.3h2.5M1388.6 727.3h2.5M1400.8 727.3h2.5M1427.8 727.3h4.9M1437.6 727.3h2.5M1442.5 727.3h2.5M1447.4 727.3h2.5M1464.5 727.3h2.5M1486.6 727.3h4.9M1533.1 727.3h4.9M1540.5 727.3h2.5M1560.1 727.3h2.5M1324.9 729.8h4.9M1334.7 729.8h7.4M1344.5 729.8h2.5M1349.4 729.8h4.9M1356.7 729.8h2.5M1369 729.8h4.9M1376.3 729.8h2.5M1383.7 729.8h7.4M1403.3 729.8h4.9M1422.9 729.8h2.5M1427.8 729.8h2.5M1432.7 729.8h2.5M1442.5 729.8h2.5M1447.4 729.8h2.5M1452.3 729.8h2.5M1498.8 729.8h2.5M1508.6 729.8h2.5M1513.5 729.8h2.5M1520.9 729.8h2.5M1542.9 729.8h2.5M1547.8 729.8h4.9M1555.2 729.8h2.5M1567.4 729.8h4.9M1339.6 732.2h2.5M1344.5 732.2h2.5M1359.2 732.2h2.5M1364.1 732.2h2.5M1371.4 732.2h2.5M1378.8 732.2h2.5M1391 732.2h2.5M1435.1 732.2h2.5M1457.2 732.2h2.5M1474.3 732.2h2.5M1479.2 732.2h2.5M1489 732.2h2.5M1498.8 732.2h2.5M1503.7 732.2h4.9M1513.5 732.2h2.5M1530.7 732.2h2.5M1555.2 732.2h2.5M1560.1 732.2h2.5" stroke="#ff00ff" stroke-width="2.5" fill="none"/>
<path d="M1263.8 625.5H1273.8M1263.8 708.7H1273.8M1263.8 797.7H1273.8M1268.3 683.65H1273.8M1268.3 669H1273.8M1268.3 658.61H1273.8M1268.3 650.55H1273.8M1268.3 643.96H1273.8M1268.3 638.39H1273.8M1268.3 633.56H1273.8M1268.3 629.31H1273.8M1268.3 770.91H1273.8M1268.3 755.24H1273.8M1268.3 744.12H1273.8M1268.3 735.49H1273.8M1268.3 728.44H1273.8M1268.3 722.49H1273.8M1268.3 717.32H1273.8M1268.3 712.77H1273.8M1268.3 858.02H1273.8M1268.3 842.82H1273.8M1268.3 832.04H1273.8M1268.3 823.68H1273.8M1268.3 816.85H1273.8M1268.3 811.07H1273.8M1268.3 806.06H1273.8M1268.3 801.65H1273.8" stroke="#333" stroke-width="1.3" fill="none"/>
<path d="M1263.8 884H1273.8M1268.3 886.42H1273.8M1268.3 888.83H1273.8M1268.3 891.25H1273.8M1268.3 893.67H1273.8M1268.3 896.08H1273.8M1268.3 898.5H1273.8M1268.3 900.92H1273.8M1263.8 903.33H1273.8M1263.8 905.75H1273.8M1263.8 908.17H1273.8M1263.8 910.58H1273.8M1268.3 913H1273.8M1268.3 915.42H1273.8M1268.3 917.83H1273.8M1268.3 920.25H1273.8M1268.3 922.67H1273.8M1268.3 925.08H1273.8M1263.8 927.5H1273.8" stroke="#333" stroke-width="1.3" fill="none" opacity="0.85"/>
<path d="M1310.9 966.25V976.25M1354 966.25V976.25M1437.8 966.25V976.25M1525.7 966.25V976.25M1607.2 966.25V976.25M1379.23 966.25V970.75M1393.98 966.25V970.75M1404.45 966.25V970.75M1412.57 966.25V970.75M1419.21 966.25V970.75M1424.82 966.25V970.75M1429.68 966.25V970.75M1433.97 966.25V970.75M1464.26 966.25V970.75M1479.74 966.25V970.75M1490.72 966.25V970.75M1499.24 966.25V970.75M1506.2 966.25V970.75M1512.08 966.25V970.75M1517.18 966.25V970.75M1521.68 966.25V970.75M1550.23 966.25V970.75M1564.59 966.25V970.75M1574.77 966.25V970.75M1582.67 966.25V970.75M1589.12 966.25V970.75M1594.58 966.25V970.75M1599.3 966.25V970.75M1603.47 966.25V970.75" stroke="#333" stroke-width="1.3" fill="none"/>
<path d="M1313.06 966.25V969.75M1315.21 966.25V969.75M1317.37 966.25V969.75M1319.52 966.25V969.75M1321.68 966.25V969.75M1323.83 966.25V969.75M1325.99 966.25V969.75M1328.14 966.25V969.75M1330.3 966.25V976.25M1332.45 966.25V976.25M1334.61 966.25V976.25M1336.76 966.25V969.75M1338.91 966.25V969.75M1341.07 966.25V969.75M1343.22 966.25V969.75M1345.38 966.25V969.75M1347.54 966.25V969.75M1349.69 966.25V969.75M1351.85 966.25V969.75" stroke="#333" stroke-width="1.3" fill="none" opacity="0.85"/>
<line x1="1276.9" y1="591.8" x2="1642" y2="591.8" stroke="#777" stroke-width="1.7"/>
<line x1="1641.2" y1="591.8" x2="1641.2" y2="963.3" stroke="#777" stroke-width="1.7"/>
<line x1="1398.3" y1="591.8" x2="1398.3" y2="963.3" stroke="#111" stroke-width="1.5"/>
<line x1="1276.9" y1="822.6" x2="1641.2" y2="822.6" stroke="#111" stroke-width="1.5"/>
<path d="M1276.9 591.3V963.3H1640.47" fill="none" stroke="#000" stroke-width="6.05" stroke-linecap="round" stroke-linejoin="round"/>
<rect x="1273.8" y="593.8" width="6.2" height="371.45" fill="#000"/>
<rect x="1274.8" y="960.35" width="365.2" height="5.9" fill="#000"/>
<text transform="translate(1385.43 1033) scale(0.8935 1)" font-size="28.5" fill="#262626" word-spacing="-3.5" stroke="#262626" stroke-width="0.3">CD56 APC-A</text>
<text transform="translate(1210.7 898.88) rotate(-90) scale(0.9820 1)" font-size="27" fill="#262626" word-spacing="-1" stroke="#262626" stroke-width="0.3">CD8 PerCP-Cy5-5-A</text>
<text transform="translate(1291.47 1007.4) scale(0.8771 1)" font-size="20" fill="#2c2530">-10</text>
<text x="1320" y="1000.2" font-size="17.8" fill="#2c2530">2</text>
<text transform="translate(1341.66 1007.4) scale(0.7950 1)" font-size="20" fill="#2c2530">10</text>
<text x="1361.8" y="1000.2" font-size="17.8" fill="#2c2530">2</text>
<text transform="translate(1425.16 1007.4) scale(0.7950 1)" font-size="20" fill="#2c2530">10</text>
<text x="1445.3" y="1000.2" font-size="17.8" fill="#2c2530">3</text>
<text transform="translate(1512.16 1007.4) scale(0.7950 1)" font-size="20" fill="#2c2530">10</text>
<text x="1532.3" y="1000.2" font-size="17.8" fill="#2c2530">4</text>
<text transform="translate(1595.66 1007.4) scale(0.7950 1)" font-size="20" fill="#2c2530">10</text>
<text x="1615.8" y="1000.2" font-size="17.8" fill="#2c2530">5</text>
<text transform="translate(1233.07 640.8) scale(0.7846 1)" font-size="19.5" fill="#2c2530">10</text>
<text transform="translate(1250.79 633.1) scale(0.8800 1)" font-size="18.5" fill="#2c2530">5</text>
<text transform="translate(1233.07 724) scale(0.7846 1)" font-size="19.5" fill="#2c2530">10</text>
<text transform="translate(1251.03 716.3) scale(0.8324 1)" font-size="18.5" fill="#2c2530">4</text>
<text transform="translate(1233.07 813) scale(0.7846 1)" font-size="19.5" fill="#2c2530">10</text>
<text transform="translate(1250.79 805.3) scale(0.8800 1)" font-size="18.5" fill="#2c2530">3</text>
<text transform="translate(1233.07 918) scale(0.7846 1)" font-size="19.5" fill="#2c2530">10</text>
<text transform="translate(1250.01 910.3) scale(0.9625 1)" font-size="18.5" fill="#2c2530">1</text>
<text transform="translate(1225.6 941) scale(0.8710 1)" font-size="19.5" fill="#2c2530">-10</text>
<text transform="translate(1250.52 933.3) scale(0.9333 1)" font-size="18.5" fill="#2c2530">2</text>
<rect x="1268" y="582" width="1.6" height="7" fill="#3040c0"/>
<rect x="1531" y="985" width="16" height="16" fill="#fff"/>
<rect x="1594" y="990" width="10" height="19" fill="#fff"/>
<text transform="translate(1549.23 578.8) scale(0.9593 1)" font-size="31.3" fill="#000" font-weight="bold">35.4%</text>
<text transform="translate(1175.12 997.1) scale(0.9663 1)" font-size="31.3" fill="#000" font-weight="bold">16.0%</text>
<text transform="translate(1538.37 1004.5) scale(0.9614 1)" font-size="31.3" fill="#000" font-weight="bold">4.4%</text>
<text transform="translate(1184.88 573.8) scale(0.7064 1)" font-size="46.8" fill="#000" stroke="#000" stroke-width="0.5">F</text>
</svg>
</body></html>
